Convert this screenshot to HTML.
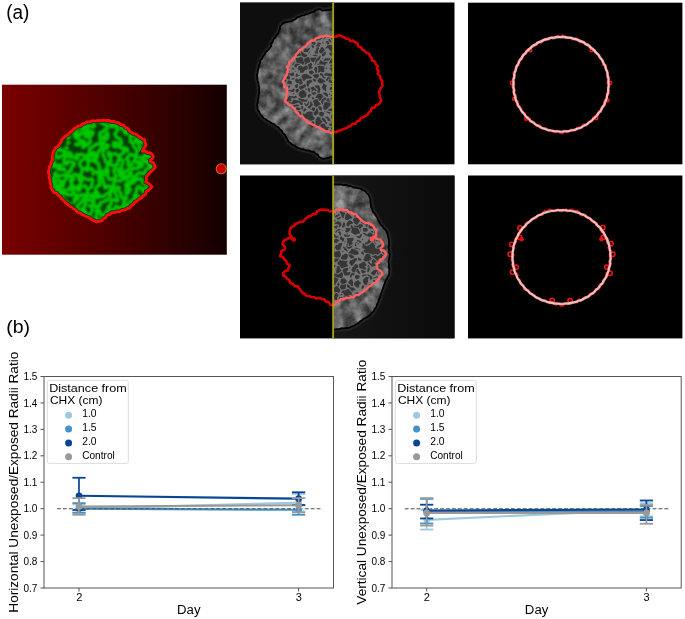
<!DOCTYPE html>
<html><head><meta charset="utf-8"><style>
html,body{margin:0;padding:0;background:#fff;width:685px;height:619px;overflow:hidden;}
svg{display:block;will-change:transform;}
text{font-family:"Liberation Sans",sans-serif;}
</style></head><body>
<svg width="685" height="619" viewBox="0 0 685 619">
<defs>
<linearGradient id="redg" x1="0" x2="1" y1="0" y2="0"><stop offset="0" stop-color="#7a0000"/><stop offset="0.5" stop-color="#4a0000"/><stop offset="1" stop-color="#140000"/></linearGradient>
<filter id="mottle" filterUnits="userSpaceOnUse" x="240" y="0" width="215" height="340" color-interpolation-filters="sRGB"><feTurbulence type="fractalNoise" baseFrequency="0.11" numOctaves="3" seed="4"/><feColorMatrix type="matrix" values="0.6 0 0 0 0.085  0.6 0 0 0 0.085  0.6 0 0 0 0.085  0 0 0 0 1"/><feGaussianBlur stdDeviation="0.6"/></filter>
<linearGradient id="bmg" gradientUnits="userSpaceOnUse" x1="333" x2="455" y1="0" y2="0"><stop offset="0" stop-color="#161616"/><stop offset="1" stop-color="#0a0a0a"/></linearGradient>
<filter id="soft" x="-20%" y="-20%" width="140%" height="140%"><feGaussianBlur stdDeviation="0.5"/></filter>
<filter id="soft7" x="-20%" y="-20%" width="140%" height="140%"><feGaussianBlur stdDeviation="0.75"/></filter>
<filter id="soft9" x="-20%" y="-20%" width="140%" height="140%"><feGaussianBlur stdDeviation="0.95"/></filter>
<filter id="soft1" x="-20%" y="-20%" width="140%" height="140%"><feGaussianBlur stdDeviation="1"/></filter>
<filter id="halo" x="-20%" y="-20%" width="140%" height="140%"><feGaussianBlur stdDeviation="1.6"/></filter>
<clipPath id="cgreen"><path d="M105.8,120.5 108.5,120.3 110.9,121.6 113.6,121.4 116.1,122.3 118.7,122.9 120.8,124.6 123.4,125.2 125.1,127.4 127.8,128.3 129.2,130.7 131.2,132.1 133.3,133.6 136.0,134.0 137.9,135.8 139.9,137.3 142.1,138.7 144.6,139.6 144.9,142.2 145.9,144.8 144.8,147.2 143.2,149.2 142.4,151.3 145.2,150.9 147.4,152.8 150.1,152.9 152.2,154.4 153.4,156.6 152.3,158.9 150.2,160.3 150.5,161.8 153.2,162.5 154.3,165.0 155.2,167.3 153.8,169.2 151.8,170.9 149.8,172.6 148.3,174.7 146.3,176.6 146.4,179.3 145.8,182.0 148.3,183.3 150.3,185.0 152.1,186.7 150.3,188.5 148.4,190.2 146.1,191.6 145.7,194.6 143.0,195.6 141.6,197.9 139.1,199.0 137.4,201.1 134.8,202.0 133.5,204.5 131.1,205.8 129.6,208.1 126.9,208.6 124.7,210.2 122.0,210.2 119.6,211.6 117.0,211.7 114.5,212.6 111.8,212.6 109.6,214.3 107.0,215.1 105.7,217.7 103.2,218.7 101.7,221.1 98.9,221.0 96.4,222.0 94.1,220.6 91.7,219.6 89.7,217.8 87.2,217.0 84.9,215.7 82.4,214.8 80.3,213.1 77.8,212.2 76.0,210.2 73.8,208.9 71.8,207.2 69.4,206.0 67.6,203.9 65.2,202.8 63.8,200.6 61.7,198.9 60.3,196.7 58.1,195.3 56.4,193.2 53.6,192.5 52.6,190.0 50.9,187.9 51.1,185.2 50.0,182.7 50.1,180.0 49.0,177.6 49.3,174.9 48.2,172.3 49.1,169.8 49.1,167.1 50.7,164.9 51.2,162.3 52.6,160.0 52.2,157.2 52.9,154.7 53.2,152.1 54.5,149.8 55.8,147.5 58.1,146.2 59.5,144.0 61.3,142.0 61.8,139.3 64.0,137.7 65.8,135.7 68.3,134.7 69.7,132.4 72.1,131.1 73.7,129.0 76.0,127.7 78.1,126.1 80.8,125.7 82.7,123.8 85.3,123.2 87.6,121.8 90.2,121.9 92.7,120.6 95.4,121.2 98.0,120.3 100.6,120.7 103.2,120.2Z"/></clipPath>
<clipPath id="ctmL"><rect x="240" y="2.5" width="93" height="162"/></clipPath>
<clipPath id="ctmR"><rect x="333" y="2.5" width="122" height="162"/></clipPath>
<clipPath id="cbmL"><rect x="240" y="175.5" width="93" height="163"/></clipPath>
<clipPath id="cbmR"><rect x="333" y="175.5" width="122" height="163"/></clipPath>
<clipPath id="ctmred"><path d="M331.4,36.7 328.9,36.4 326.4,35.4 323.9,36.5 321.2,36.4 319.0,37.7 316.3,38.1 314.3,40.1 311.6,40.4 309.6,42.0 307.4,43.5 306.2,46.1 303.6,47.1 301.9,49.1 299.4,50.3 298.1,52.7 296.1,54.4 295.4,57.1 293.1,58.5 291.9,61.0 289.3,62.2 288.9,64.9 286.9,67.1 288.4,69.7 287.2,72.2 286.8,74.7 285.3,76.9 284.2,79.2 282.7,81.6 284.3,84.1 284.2,86.9 287.2,88.0 286.8,90.8 287.5,93.5 286.2,95.9 286.3,98.5 284.8,101.1 287.1,102.9 288.8,104.8 291.2,105.8 293.2,107.5 295.1,109.2 295.8,111.7 298.0,113.3 299.3,115.8 302.1,116.3 303.7,118.5 305.9,119.9 307.2,122.1 309.6,123.1 312.0,124.3 314.4,125.3 316.6,126.7 319.2,127.4 321.3,128.8 323.7,129.9 325.9,131.5 328.7,131.4 331.1,133.0 333.6,131.9 336.4,132.3 338.6,130.6 341.3,130.2 343.5,128.9 346.1,128.3 348.2,126.8 350.8,125.9 352.6,123.8 355.4,123.7 357.1,121.3 359.7,120.5 360.7,118.0 363.2,117.2 365.4,116.0 367.6,114.7 368.8,112.3 371.1,110.8 371.6,107.9 374.4,107.6 375.9,105.1 378.5,104.4 380.2,102.6 381.2,100.2 380.1,97.7 379.7,95.2 379.0,92.7 379.7,90.2 380.7,87.9 382.5,86.1 382.1,83.6 382.3,80.9 380.5,78.8 380.2,76.1 378.0,74.1 378.6,71.3 377.0,68.9 377.8,66.1 375.7,64.1 374.9,61.5 372.1,60.8 371.5,58.0 370.0,56.0 369.0,53.6 366.5,52.9 364.6,50.9 362.3,49.6 361.1,47.1 358.2,46.4 357.6,43.4 355.1,42.3 353.2,40.6 350.2,41.0 348.6,38.7 346.0,38.6 343.7,37.2 341.4,36.2 338.9,35.1 336.4,36.6 333.8,36.7Z"/></clipPath>
<clipPath id="cbmred"><path d="M334.7,212.3 336.4,209.8 339.2,210.0 341.8,209.2 344.3,210.4 347.1,209.9 348.6,212.1 351.3,212.5 353.4,214.1 356.4,214.2 357.7,216.7 359.7,218.4 361.5,220.3 363.5,221.8 365.8,223.1 368.6,223.1 370.7,224.6 373.2,225.7 374.3,228.2 376.5,229.9 376.0,232.6 376.3,235.4 373.8,237.0 375.5,237.8 377.7,239.4 380.4,239.6 382.0,241.8 383.1,244.1 382.5,246.5 380.8,248.1 380.9,250.1 383.8,250.5 385.4,252.6 386.0,254.9 384.3,256.8 382.7,258.8 379.9,259.6 379.2,262.5 376.7,264.1 377.1,266.8 377.7,269.2 380.1,270.5 381.9,272.3 382.2,274.7 380.1,276.4 379.0,278.8 377.0,280.6 375.6,282.9 372.8,283.5 371.0,285.5 368.6,286.5 367.1,288.7 364.7,289.9 363.0,292.0 360.7,293.2 358.6,295.0 355.7,294.9 353.8,297.1 351.0,297.0 348.6,298.2 345.9,297.9 343.5,299.1 340.6,299.0 338.9,301.2 336.3,302.2 334.9,304.6 332.5,305.5 330.1,304.5 328.6,302.1 325.8,301.6 324.2,299.3 321.5,299.0 319.1,297.7 316.4,298.5 314.0,297.2 311.4,297.0 309.0,296.0 306.3,295.8 304.5,293.7 302.0,292.6 300.8,290.3 299.1,288.4 297.7,286.0 294.6,286.2 292.8,283.9 290.3,283.0 289.5,280.4 287.2,278.9 285.7,276.8 283.2,275.5 283.4,272.9 285.1,271.1 287.8,270.4 288.6,267.8 289.8,265.3 287.1,263.6 286.2,261.1 284.3,259.3 282.9,257.0 280.0,256.0 281.1,253.5 281.5,250.8 284.1,250.0 285.2,248.1 284.5,246.3 282.6,244.4 283.0,242.0 284.5,239.9 287.1,239.2 289.4,237.7 292.4,238.5 291.2,236.2 289.8,234.2 289.5,231.6 290.2,229.1 291.5,226.9 294.1,226.1 295.5,224.0 297.9,223.0 300.2,221.7 303.0,221.7 304.7,219.6 306.4,217.8 308.5,216.4 311.2,215.9 313.1,214.0 316.0,214.1 317.1,211.3 319.4,210.3 321.9,209.5 324.6,209.9 327.2,209.7 329.5,211.3 332.2,211.2Z"/></clipPath>
<clipPath id="ctmout"><path d="M329.9,9.5 327.5,10.2 325.0,10.2 322.5,10.8 320.4,9.2 317.9,9.3 315.6,10.1 313.8,11.8 311.3,12.3 309.0,13.4 306.6,14.0 304.4,15.3 301.8,15.4 299.6,16.6 297.2,17.4 295.5,19.3 293.2,20.1 291.0,21.4 288.5,21.6 286.0,22.2 283.6,22.7 281.9,24.5 280.2,26.2 280.0,28.8 278.9,31.1 278.2,33.5 276.4,35.4 275.2,37.6 273.5,39.4 272.6,41.8 271.2,43.9 271.0,46.5 269.4,48.5 267.9,50.5 265.8,52.0 264.7,54.4 262.9,56.2 262.0,58.6 260.2,60.4 260.0,63.0 258.9,65.3 258.6,67.8 257.8,70.2 257.6,72.7 256.9,75.1 257.2,77.7 257.4,80.2 258.2,82.5 258.6,85.0 259.3,87.4 259.1,89.9 259.2,92.4 258.6,94.8 258.5,97.3 257.7,99.8 257.8,102.3 256.9,104.7 257.6,107.2 257.6,109.8 259.2,111.8 260.2,114.1 262.0,115.9 263.3,118.1 265.6,119.2 267.5,120.9 269.9,121.8 271.8,123.5 274.2,124.3 275.9,126.3 278.3,127.2 279.8,129.3 281.8,130.8 282.9,133.2 284.8,134.9 286.0,137.1 287.3,139.3 288.3,141.6 290.4,143.1 292.2,144.8 294.6,145.7 296.6,147.3 298.9,148.2 301.2,149.3 303.8,149.2 306.1,150.4 308.6,150.5 311.0,151.5 313.5,152.0 315.5,153.5 317.8,154.7 319.0,156.9 321.1,158.2 323.5,158.9 325.9,158.4 328.4,158.0 330.7,157.0 333.2,156.5 335.5,155.6 337.8,154.7 339.7,153.1 342.3,152.3 342.7,149.9 343.2,147.4 343.0,144.9 343.7,142.4 343.2,139.9 343.9,137.4 343.7,134.9 344.1,132.4 343.9,129.9 344.6,127.4 344.4,124.9 344.7,122.4 344.7,119.9 344.9,117.4 344.9,114.9 345.3,112.4 344.7,109.9 345.2,107.4 344.9,104.9 345.0,102.4 344.9,99.9 345.3,97.4 344.8,94.9 345.3,92.4 344.7,89.9 345.1,87.4 344.7,84.9 345.1,82.4 344.7,79.9 345.4,77.4 344.8,74.9 345.1,72.4 344.7,69.9 345.4,67.3 344.8,64.8 345.4,62.3 344.8,59.8 345.2,57.3 345.0,54.8 345.3,52.3 344.8,49.8 345.1,47.3 344.7,44.8 344.8,42.3 344.4,39.8 344.3,37.3 343.9,34.8 344.2,32.3 343.8,29.8 343.7,27.3 343.4,24.8 343.6,22.3 343.0,19.8 343.2,17.3 342.8,14.8 341.7,12.9 339.4,11.9 337.3,10.4 334.9,10.0 332.5,9.5Z"/></clipPath>
<clipPath id="cbmout"><path d="M333.6,184.5 336.0,184.4 338.5,184.5 341.1,184.4 343.5,185.1 346.1,184.8 348.4,185.8 351.0,186.1 353.2,187.3 355.7,187.7 358.1,188.3 360.6,188.6 362.8,189.9 365.1,191.0 366.5,193.2 368.6,194.8 369.5,197.1 370.4,199.4 370.4,202.0 371.1,204.4 371.0,207.0 372.3,209.2 372.9,211.7 374.7,213.5 375.9,215.7 377.4,217.8 378.1,220.2 379.6,222.3 380.5,224.6 382.5,226.2 383.9,228.4 385.9,230.0 386.8,232.4 387.8,234.7 388.2,237.2 389.0,239.6 389.0,242.1 389.3,244.6 388.5,247.1 389.0,249.6 388.6,252.1 389.8,254.4 389.3,256.8 389.1,259.3 388.4,261.7 389.0,264.2 388.7,266.8 389.5,269.2 389.1,271.7 389.4,274.3 388.1,276.5 387.0,278.7 385.5,280.8 384.9,283.2 383.8,285.5 383.2,287.9 382.2,290.3 381.6,292.7 380.5,295.0 380.1,297.5 378.8,299.7 378.4,302.2 377.0,304.4 376.4,306.9 374.8,308.8 373.8,311.2 371.8,312.8 370.5,315.0 368.4,316.4 366.2,317.6 363.9,318.6 362.0,320.3 359.9,321.6 358.1,323.4 355.8,324.5 353.7,326.0 351.3,326.7 349.1,327.9 346.5,328.0 344.0,328.4 341.5,328.3 339.1,329.2 336.6,329.2 334.1,329.6 332.2,328.0 329.8,326.9 328.1,325.1 325.9,323.7 324.8,321.6 324.3,319.2 324.7,316.6 323.8,314.2 324.1,311.6 323.6,309.2 323.9,306.6 323.2,304.2 323.3,301.6 322.8,299.2 322.8,296.6 322.2,294.2 322.7,291.6 321.9,289.2 322.4,286.6 321.7,284.1 322.0,281.6 321.8,279.1 322.3,276.6 322.0,274.1 322.3,271.6 321.6,269.1 322.2,266.6 321.8,264.1 322.1,261.6 321.9,259.0 322.3,256.5 321.9,254.0 322.2,251.5 321.9,249.0 322.3,246.5 321.7,244.0 322.2,241.5 321.9,239.0 322.1,236.5 321.7,234.0 322.0,231.4 321.6,228.9 322.2,226.4 321.6,223.9 322.4,221.4 322.2,218.9 322.9,216.4 322.6,213.9 323.1,211.4 323.0,208.9 323.6,206.4 323.1,203.9 323.7,201.4 323.6,198.9 324.5,196.4 324.1,193.9 324.8,191.4 324.5,188.8 326.8,187.8 328.8,186.2 331.4,185.7Z"/></clipPath>
</defs>
<rect width="685" height="619" fill="#fff"/>
<rect x="2" y="84.7" width="224.8" height="170" fill="url(#redg)"/>
<g clip-path="url(#cgreen)"><rect x="40" y="110" width="130" height="120" fill="#063c06"/>
<path d="M56.4,110.0 55.1,112.0 56.3,115.0 56.0,115.9 52.6,115.0 52.4,112.5 51.6,111.5 50.0,111.4 48.4,112.0 51.6,116.0 50.6,118.0 47.5,119.8 45.4,115.0 46.0,113.5 47.9,112.0 47.5,110.0M82.7,110.0 84.0,111.0 84.8,113.5 86.8,116.0 86.4,119.5 85.4,120.5 82.8,121.5 81.8,123.0 82.1,124.0 84.8,126.5 85.0,127.5 83.5,128.2 81.5,128.0 80.9,124.5 80.0,123.7 76.5,123.9 73.5,122.0 70.5,123.5 72.0,124.5 75.8,125.5 77.1,129.5 76.9,133.5 78.5,135.7 79.5,136.0 80.1,135.5 81.5,131.4 83.0,132.2 85.5,136.6 86.5,137.0 89.0,136.4 89.5,136.8 90.4,142.5 83.0,147.6 81.8,143.0 83.0,143.0 85.0,143.9 85.7,143.5 85.5,142.4 82.5,140.4 80.0,140.4 75.5,137.6 74.8,136.5 74.2,133.5 71.0,129.5 69.5,129.0 68.5,130.0 68.0,132.5 69.1,137.5 68.0,137.8 66.5,137.0 65.1,134.0 65.0,132.0 64.3,130.5 65.8,127.5 64.5,126.1 61.0,126.1 59.5,128.0 57.4,129.5 58.0,130.3 62.0,130.5 62.8,131.5 61.9,133.0 58.5,134.7 56.5,134.4 55.5,133.5 55.1,132.5 55.5,129.5 54.7,128.5 52.6,127.5 52.5,127.0 54.5,121.8 56.0,121.9 59.5,124.1 60.5,121.3 62.3,119.5 62.0,117.7 58.5,113.0 59.0,111.7 61.3,111.0 62.1,110.0M65.5,110.0 62.6,113.0 67.0,118.0 67.5,118.1 68.7,116.5 69.0,112.5 71.0,111.2 73.8,113.0 74.4,116.0 75.5,117.3 77.5,118.1 79.0,117.8 81.0,118.2 83.1,117.5 83.3,114.5 81.0,113.5 78.5,114.2 76.3,113.0 76.3,112.5 81.5,110.0M97.1,110.0 95.5,112.4 92.0,114.0 91.0,115.0 94.6,125.5 93.5,127.1 91.0,126.3 88.0,126.5 87.0,125.5 87.3,124.0 89.5,122.0 90.6,119.5 88.9,116.5 89.5,114.5 89.0,111.5 89.6,110.0M114.1,110.0 114.1,113.5 113.0,114.2 112.1,113.5 112.0,110.0M124.8,110.0 124.7,112.0 125.5,113.0 127.0,113.7 130.5,113.9 130.9,114.5 128.7,117.5 127.0,118.0 125.5,120.1 124.0,120.8 122.0,120.2 120.7,118.5 121.5,116.8 123.5,116.2 124.0,115.5 123.4,113.0 121.5,112.3 120.5,114.6 119.0,115.0 117.9,114.5 118.4,112.5 120.0,111.4 120.0,110.0M40.0,136.3 41.0,138.5 40.3,142.0 41.0,142.7 43.0,142.3 44.0,141.3 44.8,138.5 44.2,136.0 42.1,134.5 41.8,133.0 42.8,132.5 45.0,132.9 46.0,132.5 46.6,126.5 47.0,126.0 48.0,126.2 50.4,128.0 50.1,131.5 50.8,134.0 50.2,137.0 51.6,139.5 49.5,140.6 49.4,142.0 50.5,142.6 53.0,141.2 59.2,143.0 58.1,149.5 60.0,150.3 63.0,150.1 65.5,153.4 68.0,152.4 70.5,153.0 71.2,154.5 69.3,156.5 70.0,157.5 72.5,156.4 75.5,158.6 77.1,159.0 77.9,158.5 78.1,157.5 76.5,155.5 76.6,154.5 79.5,154.9 81.5,153.9 85.5,156.3 89.1,153.5 89.5,152.0 89.5,148.5 90.0,147.8 93.5,146.6 95.5,144.5 100.3,143.5 99.8,133.5 100.5,132.5 103.5,131.2 104.5,129.9 107.3,128.5 107.3,127.0 106.3,125.0 103.5,124.2 101.0,122.2 98.0,121.0 96.5,117.5 96.3,116.0 97.0,113.8 100.0,114.3 101.5,112.0 103.0,112.0 103.7,113.0 104.0,116.0 105.5,117.5 106.8,120.0 110.8,121.5 111.1,122.5 110.5,125.0 111.0,126.6 112.5,126.9 113.5,125.9 113.6,121.0 114.5,118.3 115.0,118.3 118.5,121.5 118.5,122.5 116.4,125.0 116.0,126.5 118.0,130.4 115.2,133.0 115.0,134.5 116.4,137.5 119.5,138.3 120.5,139.3 121.2,141.0 121.5,144.0 120.0,144.7 117.5,143.0 113.5,142.3 113.5,143.1 114.5,143.5 113.2,145.5 113.5,146.5 115.0,147.0 119.0,146.3 121.5,148.5 125.0,147.7 126.7,148.5 127.8,150.0 127.5,151.2 125.5,150.4 124.5,150.6 123.6,151.5 123.0,153.5 119.0,155.7 117.5,155.4 115.0,153.5 111.2,155.0 109.5,152.3 108.5,152.4 108.0,153.5 108.2,155.0 110.1,156.5 111.0,161.0 108.5,163.5 108.5,164.0 112.5,165.4 116.5,164.8 117.7,164.0 118.2,160.0 119.0,158.6 120.5,158.8 122.5,160.5 123.0,162.5 121.3,166.5 122.1,170.0 121.0,172.5 121.5,173.6 123.0,174.1 124.5,172.0 126.7,171.0 128.0,169.2 131.5,170.1 133.5,168.2 138.0,168.2 140.2,166.0 139.4,164.5 137.1,163.5 137.1,162.0 138.0,161.7 142.0,162.7 143.0,162.3 143.9,161.0 143.7,160.0 142.5,158.7 136.5,156.2 135.7,157.0 135.0,159.7 131.1,165.5 129.5,165.9 128.4,165.5 127.8,164.0 128.9,160.5 126.1,159.0 130.0,154.3 131.0,154.1 133.0,155.5 134.0,155.5 136.0,154.2 137.1,152.0 136.7,150.0 133.3,146.0 133.0,143.0 130.1,141.5 130.6,140.0 130.1,135.5 130.5,135.2 133.5,135.7 134.0,133.0 134.8,132.0 137.0,130.8 139.5,130.6 141.0,131.2 143.8,134.0 145.0,138.3 147.0,138.3 149.3,136.5 148.5,134.9 144.4,133.5 145.8,124.5 144.0,122.2 142.5,122.2 140.8,125.0 140.0,125.4 137.0,123.5 134.1,124.0 133.5,125.0 134.7,127.5 132.5,128.7 131.5,128.4 128.0,124.0 128.4,120.5 129.5,118.4 131.5,118.6 133.5,118.0 137.0,118.8 139.0,120.0 142.5,119.2 143.9,118.0 144.1,116.5 143.0,115.7 142.0,116.0 140.5,117.8 137.5,117.9 137.0,110.0M153.1,110.0 153.5,112.0 155.5,112.9 157.0,113.1 159.5,112.2 160.5,112.4 164.4,116.5 165.0,118.2 164.5,118.7 162.0,117.6 159.5,117.8 158.7,119.0 159.0,121.5 158.0,122.5 157.0,122.6 155.4,121.5 156.9,118.5 156.0,116.8 153.5,115.6 150.4,116.5 149.6,117.5 149.7,119.0 153.2,122.5 152.7,123.5 150.1,125.0 150.5,129.0 150.0,129.5 148.5,129.3 147.5,129.8 147.4,131.5 149.0,132.4 151.0,130.7 153.5,131.5 156.0,130.9 158.5,131.5 161.0,131.3 162.0,130.6 162.8,129.0 163.0,125.2 165.0,123.8 165.8,125.0 165.7,132.0 167.5,134.5 169.5,135.7M169.5,115.0 168.5,114.3 165.5,114.0 164.5,113.1 164.5,111.5 166.3,110.0M169.5,110.1 169.1,111.0 169.5,111.7M40.0,112.3 41.0,113.5 40.0,115.1M108.5,115.6 107.1,115.5 107.5,114.5 109.3,114.5 108.5,115.6M169.5,126.9 168.1,126.0 167.6,122.5 166.4,120.0 167.1,119.0 169.5,118.8M40.0,119.2 40.8,120.5 41.1,123.0 43.2,125.5 42.5,126.2 40.0,126.8M69.0,124.5 70.5,123.5 68.0,122.0 67.0,119.9 65.6,122.5 65.7,124.0 69.0,124.5M126.5,133.6 125.3,133.5 124.5,131.5 120.7,127.0 120.4,126.0 121.0,124.9 122.8,125.0 124.8,127.5 127.8,129.0 127.2,133.0 126.5,133.6M155.5,128.7 154.5,128.4 154.4,127.0 155.0,125.9 156.5,125.7 157.1,127.0 155.5,128.7M91.5,135.5 89.5,133.5 87.0,133.2 86.0,132.6 85.6,131.5 86.2,130.0 87.5,129.7 90.0,131.2 92.5,131.5 92.9,132.5 92.5,134.7 91.5,135.5M162.3,137.5 165.1,134.5 165.0,132.5 163.0,132.6 161.0,134.5 158.5,135.3 157.4,136.5 158.5,137.2 162.3,137.5M104.5,139.5 107.0,138.8 107.7,138.0 108.1,134.5 107.5,132.8 107.0,132.8 106.1,134.5 103.3,137.0 103.3,138.5 104.5,139.5M142.6,150.0 144.1,147.0 147.1,144.0 147.5,142.5 145.5,141.7 142.0,142.5 139.5,141.6 139.5,138.5 140.5,135.5 140.0,134.6 139.0,134.5 137.2,138.0 135.5,139.3 135.2,140.5 135.7,141.5 138.1,142.5 140.4,149.5 141.5,150.3 142.6,150.0M48.0,139.5 49.2,137.5 48.0,137.0 47.0,137.4 46.4,138.5 47.0,139.4 48.0,139.5M169.5,147.0 165.6,147.0 165.9,150.5 165.0,151.3 164.0,151.3 163.6,149.5 165.5,147.0 164.1,145.0 163.8,142.0 162.0,141.1 160.0,143.0 161.2,145.5 161.0,146.5 159.9,148.5 158.5,149.0 157.9,148.5 154.8,139.0 155.6,137.0 150.5,137.0 150.0,138.0 150.2,141.5 155.1,149.0 155.2,150.0 152.5,151.4 149.5,151.5 146.5,154.5 144.2,155.0 143.6,156.0 144.5,157.0 146.5,155.7 148.0,155.6 150.1,158.0 150.0,159.6 146.1,161.0 146.6,162.5 149.1,165.0 149.0,168.0 145.5,170.1 144.5,174.2 140.5,172.8 138.5,173.1 134.8,176.5 130.5,181.9 128.5,182.0 125.9,184.0 125.4,185.0 126.0,186.6 127.5,186.9 130.5,183.0 134.0,182.8 135.1,180.5 138.5,178.5 142.0,179.4 142.5,182.5 143.3,183.5 147.0,183.1 147.9,182.0 147.3,179.5 147.9,178.5 150.5,177.3 153.2,177.0 154.0,173.7 157.0,173.0 157.7,170.5 158.5,169.8 160.2,171.0 161.0,173.0 158.0,173.4 157.5,174.0 157.6,181.0 160.2,183.0 160.5,186.5 164.0,189.1 166.5,190.1 168.4,188.5 169.5,185.5M167.7,140.5 167.7,139.5 166.6,139.5 166.5,140.6 167.7,140.5M68.0,143.1 67.8,142.5 68.5,142.3 68.5,143.0 68.0,143.1M108.2,172.5 108.3,170.5 106.7,167.5 107.9,164.0 105.3,161.5 105.0,158.5 102.6,154.5 103.9,148.5 107.0,148.0 108.6,145.5 105.5,144.8 104.0,142.5 101.3,144.0 102.2,147.5 99.0,150.5 97.5,154.5 97.3,158.0 94.6,161.5 95.7,162.5 98.8,163.5 98.6,165.5 99.8,168.0 99.2,171.0 99.8,172.0 101.5,172.5 103.5,170.6 104.5,170.4 107.5,172.8 108.2,172.5M77.5,145.1 75.6,144.5 76.0,144.0 79.0,143.6 78.7,144.5 77.5,145.1M91.1,229.5 93.5,225.7 97.0,225.2 98.4,223.0 95.5,220.0 92.5,223.0 90.0,227.6 88.5,227.8 87.0,226.0 86.9,221.0 87.5,220.1 90.0,219.5 90.9,218.5 90.1,214.5 92.5,210.0 91.5,207.2 89.4,205.5 91.0,206.0 93.5,205.6 95.5,206.3 100.0,206.0 99.8,204.0 100.5,202.7 102.0,201.9 104.5,201.7 109.5,198.0 110.7,195.5 110.0,192.3 106.0,194.3 103.5,196.3 100.0,196.5 98.0,197.8 96.8,197.0 98.8,194.5 98.4,193.5 95.6,191.5 95.9,188.0 97.0,186.1 99.3,185.5 100.3,184.5 99.0,181.0 98.7,175.0 97.5,172.6 96.5,171.9 94.0,171.8 91.0,168.2 87.5,170.4 86.5,170.3 85.5,169.5 85.4,168.0 87.9,166.0 88.3,165.0 87.8,161.0 85.5,158.3 83.5,158.9 79.9,162.5 79.8,165.0 82.5,169.0 80.6,175.0 80.8,176.0 83.5,177.8 88.0,179.8 90.0,179.8 92.0,178.7 92.7,179.5 92.7,182.5 91.8,184.0 91.9,187.0 88.0,188.9 87.3,190.0 87.8,194.0 91.0,196.3 92.0,195.8 94.0,192.9 94.5,193.0 95.5,196.0 93.6,198.5 94.0,203.1 93.0,202.8 91.5,200.0 87.5,199.7 85.7,202.0 85.7,204.5 85.2,205.5 83.5,208.0 81.3,209.0 81.2,209.5 82.0,210.0 83.5,209.1 84.5,209.8 87.0,214.5 86.5,215.8 84.5,217.1 83.6,221.5 82.0,222.4 79.1,219.0 78.6,216.0 76.6,215.0 78.2,211.5 77.1,206.5 78.1,205.0 82.3,202.0 83.0,198.9 86.9,197.5 86.6,195.5 85.5,195.0 81.0,194.7 78.0,196.0 74.5,193.6 72.0,195.0 70.0,194.6 68.0,195.0 66.0,193.8 61.5,193.8 60.1,192.5 59.8,191.0 61.0,189.9 66.5,190.1 70.0,188.3 72.0,190.7 73.0,190.8 75.0,187.6 78.5,186.0 78.7,187.5 77.5,190.0 78.0,190.6 79.0,190.6 80.0,189.4 81.0,186.5 80.3,183.5 82.4,180.0 80.0,180.4 79.2,180.0 78.6,179.0 78.3,176.0 76.5,174.5 75.0,174.3 72.8,175.5 72.5,176.5 73.6,179.5 71.0,182.2 70.4,181.5 71.3,177.0 70.0,175.7 68.5,175.5 67.2,176.5 66.3,179.0 64.2,180.5 63.5,185.5 59.0,187.8 56.0,191.4 54.5,192.1 53.0,191.7 52.5,190.5 54.0,185.3 57.0,186.8 58.2,185.0 60.8,184.0 60.8,181.5 59.5,180.1 58.0,179.8 54.0,183.6 51.6,182.5 50.7,181.5 54.8,177.0 55.0,175.5 54.4,174.0 55.2,173.0 55.9,173.0 56.4,175.5 58.0,176.3 61.0,175.4 65.0,175.4 69.0,171.6 71.0,171.0 70.9,168.0 74.0,165.4 74.5,163.5 73.0,162.5 68.5,161.4 67.1,162.0 67.0,164.3 64.0,163.9 64.0,159.0 66.3,156.5 66.0,155.3 65.0,153.9 61.0,156.0 59.0,157.8 58.0,157.9 57.0,157.1 54.5,153.0 52.2,151.5 52.1,151.0 54.0,150.2 56.5,150.7 57.5,150.0 56.6,148.5 56.3,145.5 55.0,144.9 53.5,145.6 51.2,148.0 50.7,149.5 51.9,151.5 49.0,153.2 47.9,155.5 48.5,156.8 52.5,158.0 54.0,160.6 52.5,160.9 50.5,162.7 46.0,163.5 43.0,168.2 41.0,168.2 40.0,167.3M40.0,157.2 42.5,157.1 45.7,152.5 45.0,151.8 41.8,151.5 41.4,150.5 42.1,148.0 40.0,147.1M67.0,148.6 66.0,148.1 66.5,147.3 67.0,148.6M92.7,160.5 95.2,155.0 94.6,153.0 93.5,152.2 92.5,152.5 92.0,154.6 90.2,156.0 88.2,159.5 88.5,160.2 92.7,160.5M169.5,166.4 168.0,165.7 165.5,166.2 163.0,165.7 160.5,164.5 158.0,162.1 155.0,164.9 152.0,165.5 150.4,164.0 151.2,161.0 153.0,159.0 152.9,156.5 154.5,155.2 156.5,155.2 159.0,153.7 162.5,154.0 166.0,157.5 169.5,157.0M162.7,160.5 163.6,158.0 162.5,155.5 161.5,155.4 157.3,157.0 157.1,159.0 158.0,160.6 162.7,160.5M44.3,163.0 45.3,162.0 45.3,160.5 44.0,159.6 43.0,159.6 41.2,162.5 42.5,163.4 44.3,163.0M64.5,170.3 61.0,169.4 58.5,169.5 57.8,169.0 57.0,166.6 52.8,166.0 52.1,165.0 54.5,163.1 57.0,165.8 60.0,165.0 60.6,165.5 61.5,168.0 64.7,169.0 64.9,170.0 64.5,170.3M142.2,166.5 142.5,165.8 141.7,166.0 142.2,166.5M47.0,175.9 45.1,174.5 44.7,171.5 45.5,170.6 47.5,169.9 48.3,168.0 49.0,167.8 49.7,168.5 47.0,175.9M152.0,169.2 151.5,169.3 151.0,168.5 152.0,168.4 152.0,169.2M110.9,191.5 112.9,189.0 112.1,187.5 113.5,184.6 114.3,181.0 115.5,180.6 120.0,181.0 121.8,180.0 123.0,178.6 127.0,179.0 128.6,177.0 131.2,175.5 131.5,173.5 129.0,173.7 127.8,176.0 126.5,176.8 125.5,176.7 123.0,175.0 122.0,176.9 121.5,176.9 119.5,175.4 118.4,169.5 116.5,168.6 114.2,169.0 113.5,170.0 116.0,177.0 115.1,178.0 112.5,179.1 109.0,179.4 107.8,175.5 107.0,174.6 101.5,174.4 100.8,175.5 100.8,176.5 103.3,179.0 102.9,181.5 104.6,184.5 104.6,187.5 105.5,188.2 108.0,185.8 109.5,186.1 111.2,187.5 110.0,190.5 110.0,191.5 110.5,191.9 110.9,191.5M93.0,174.0 93.5,172.8 93.5,173.9 93.0,174.0M163.0,175.4 162.2,174.0 163.4,174.5 163.0,175.4M42.0,178.1 42.0,177.4 42.0,178.1M169.5,180.4 168.1,182.0 167.5,184.2 165.5,184.1 163.9,183.0 164.0,182.0 166.5,178.3 168.0,177.8 169.5,178.3M40.0,178.7 40.0,179.7M40.0,185.0 42.0,181.0 43.5,181.2 44.0,182.5 43.9,184.5 42.4,188.0 42.4,189.5 43.0,190.8 46.6,191.5 46.8,192.5 45.9,195.0 49.5,194.8 51.5,198.0 53.0,198.7 56.0,197.8 59.5,199.4 62.0,198.3 63.4,198.5 65.3,201.0 69.9,204.5 69.5,206.2 68.5,206.7 66.9,204.0 63.5,202.4 61.0,202.2 55.0,206.1 54.0,205.6 53.6,204.5 54.4,201.5 53.0,201.0 50.9,202.0 48.0,206.5 52.0,208.2 55.5,207.9 57.6,209.0 58.2,211.0 55.7,213.5 58.0,216.0 58.0,216.7 57.0,217.2 54.0,217.7 52.0,216.3 50.0,209.9 46.0,209.5 45.4,210.0 46.5,214.0 46.0,217.0 48.0,220.5 47.5,223.0 51.0,223.5 53.5,225.2 56.0,226.1 56.5,227.0 56.5,229.5M71.5,187.5 70.9,187.5 70.5,186.5 71.0,185.2 72.0,184.6 73.0,185.5 73.1,186.5 71.5,187.5M85.7,187.0 85.5,185.8 84.5,185.8 84.9,187.0 85.7,187.0M169.5,194.1 167.0,194.2 165.2,195.0 164.7,198.0 164.0,199.0 161.0,200.6 157.5,201.1 160.6,196.5 163.7,194.5 163.6,192.5 163.0,191.5 160.5,190.6 158.5,190.7 157.9,192.0 157.9,194.5 157.0,194.9 154.0,192.8 150.9,187.0 148.5,186.1 145.7,187.5 144.6,189.0 144.8,192.0 147.0,194.0 146.7,195.0 146.0,195.2 143.6,192.5 141.0,187.5 139.5,186.7 138.0,186.6 136.5,189.0 136.4,192.5 134.4,195.0 134.5,196.5 139.0,196.5 142.5,199.1 146.5,198.2 147.8,200.0 148.1,206.5 150.5,207.6 151.5,204.7 155.5,204.6 156.5,205.7 156.3,207.5 153.5,209.9 151.0,208.7 148.2,211.5 147.9,214.0 147.0,214.0 145.0,212.7 144.3,211.5 144.5,210.3 146.2,208.0 146.2,207.0 143.0,207.3 139.5,206.4 137.5,207.1 136.6,204.5 139.0,203.1 139.0,202.0 133.5,199.3 132.5,199.7 131.5,201.8 127.4,204.0 127.4,207.5 125.8,209.0 126.5,210.2 128.5,210.2 130.5,211.2 132.0,209.8 133.0,209.6 136.5,212.0 140.7,213.5 141.1,214.5 140.5,215.3 136.5,215.4 134.5,213.7 133.5,213.8 133.1,214.5 136.1,217.0 136.2,218.5 135.1,222.0 136.0,222.7 138.0,222.6 138.8,223.5 138.7,224.5 136.9,226.0 137.3,227.0 138.5,227.7 141.0,227.6 145.5,224.2 149.5,224.7 152.5,226.2 154.0,223.7 157.0,224.2 158.7,221.5 160.0,220.7 162.0,220.6 164.5,222.0 167.5,218.7 168.5,218.6 169.5,219.4M158.0,189.0 158.7,188.0 158.6,187.0 157.0,186.5 156.1,187.0 156.5,188.5 158.0,189.0M111.8,229.5 111.1,227.5 112.5,224.5 119.1,220.5 118.8,219.5 116.8,218.5 117.0,217.6 119.0,218.1 121.5,217.4 121.9,220.5 124.0,221.8 125.0,221.3 126.4,218.5 126.4,217.5 125.5,216.5 122.0,216.8 121.0,212.5 119.2,208.5 119.8,207.5 123.5,206.9 123.9,201.0 126.9,198.5 126.0,197.8 123.0,198.0 122.0,197.5 121.0,195.5 120.5,192.6 118.4,190.5 119.2,187.5 118.5,187.0 115.5,187.4 114.4,189.0 114.6,192.0 116.3,195.0 118.0,200.7 117.0,201.1 113.5,199.7 112.5,200.1 111.0,201.5 110.9,204.5 108.5,206.3 107.9,207.5 108.9,209.0 115.0,210.3 115.9,212.0 115.5,214.9 114.0,215.3 111.5,213.3 110.5,213.5 109.3,217.0 110.5,219.5 110.5,220.8 109.5,222.5 107.5,222.7 103.4,219.0 105.4,216.0 105.2,214.5 103.0,215.2 101.5,215.0 100.4,214.0 100.1,211.5 99.2,210.0 98.0,209.4 96.5,209.9 96.2,211.5 97.1,214.0 95.4,217.0 95.5,218.6 101.8,219.5 103.1,223.0 106.4,227.0 105.5,228.1 102.5,226.8 98.5,226.4 97.4,229.5M127.0,194.0 128.7,192.5 130.4,189.5 129.5,188.2 127.5,187.9 126.0,189.5 125.9,193.5 126.5,194.2 127.0,194.0M40.0,200.0 42.8,199.5 43.0,197.0 42.0,195.1 40.0,194.1M75.0,200.7 74.5,200.6 74.3,199.5 74.7,198.0 77.0,197.0 78.0,197.1 78.4,198.0 78.0,199.0 75.0,200.7M169.5,208.4 165.0,207.9 163.6,206.5 165.0,202.4 169.5,200.0M74.0,202.7 74.0,202.3 74.0,202.7M70.5,223.2 69.0,222.8 66.1,217.5 62.2,216.0 62.5,214.0 64.5,212.7 66.5,212.3 67.5,214.4 68.5,214.9 69.6,214.5 70.1,213.5 69.0,212.1 67.0,212.3 66.0,209.0 62.6,207.5 62.1,206.0 62.5,205.2 64.0,205.3 66.5,206.9 72.1,209.0 73.5,212.0 75.4,214.5 75.6,215.0 73.0,216.2 71.9,217.5 71.0,219.5 70.5,223.2M116.5,207.0 115.5,207.3 115.3,206.5 116.6,206.0 117.0,206.5 116.5,207.0M40.0,224.0 41.5,223.5 42.3,222.0 42.0,218.5 40.5,215.5 42.4,213.0 42.8,209.5 42.0,208.6 40.0,208.4M154.5,220.2 154.0,220.3 150.9,217.5 150.2,216.0 150.5,215.1 152.3,213.5 153.0,211.0 157.0,212.3 159.0,210.8 160.0,210.7 164.7,214.0 164.5,215.5 161.5,216.8 160.5,216.8 158.5,215.7 157.0,216.0 155.3,218.0 154.5,220.2M106.7,213.0 107.1,212.0 106.5,211.1 105.7,212.5 106.0,213.3 106.7,213.0M81.9,215.5 82.9,214.0 82.8,213.0 82.0,212.4 80.2,215.0 80.6,215.5 81.9,215.5M62.3,229.5 62.2,228.5 61.0,226.5 58.3,224.0 58.4,221.5 59.5,220.4 61.0,220.7 61.8,221.5 63.5,225.0 63.8,228.0 65.5,228.9 65.5,229.5M131.0,222.0 131.0,220.3 130.3,221.0 131.0,222.0M148.0,220.6 148.0,220.1 148.0,220.6M169.5,220.5 169.1,222.0 169.5,223.7M54.0,222.2 53.2,222.0 53.5,221.1 54.1,221.5 54.0,222.2M164.3,224.5 164.8,223.5 164.5,222.6 164.0,222.6 163.5,224.0 164.3,224.5M73.0,227.6 70.8,226.5 71.0,223.2 73.5,223.4 74.4,224.0 74.4,226.5 73.0,227.6M67.5,227.7 66.5,228.0 66.1,227.5 67.0,225.9 68.2,226.5 67.5,227.7M169.5,226.3 168.6,226.0 168.3,226.5 169.5,227.1M119.9,229.5 118.7,228.0 115.5,226.5 114.2,227.0 114.1,229.5M137.0,229.5 135.5,228.0 132.5,227.7 129.0,228.4 125.5,226.5 124.6,227.5 124.7,229.5M47.4,229.5 45.5,226.5 42.5,227.9 40.0,227.0M40.0,227.1 40.0,229.4M166.5,229.5 166.1,228.0 165.0,227.8 161.5,228.9 159.5,227.8 156.5,229.2 154.0,229.1 153.4,229.5" fill="none" stroke="#06c806" stroke-width="3.4" stroke-linejoin="round" stroke-linecap="round" filter="url(#soft9)"/>
<path d="M105.8,120.5 108.5,120.3 110.9,121.6 113.6,121.4 116.1,122.3 118.7,122.9 120.8,124.6 123.4,125.2 125.1,127.4 127.8,128.3 129.2,130.7 131.2,132.1 133.3,133.6 136.0,134.0 137.9,135.8 139.9,137.3 142.1,138.7 144.6,139.6 144.9,142.2 145.9,144.8 144.8,147.2 143.2,149.2 142.4,151.3 145.2,150.9 147.4,152.8 150.1,152.9 152.2,154.4 153.4,156.6 152.3,158.9 150.2,160.3 150.5,161.8 153.2,162.5 154.3,165.0 155.2,167.3 153.8,169.2 151.8,170.9 149.8,172.6 148.3,174.7 146.3,176.6 146.4,179.3 145.8,182.0 148.3,183.3 150.3,185.0 152.1,186.7 150.3,188.5 148.4,190.2 146.1,191.6 145.7,194.6 143.0,195.6 141.6,197.9 139.1,199.0 137.4,201.1 134.8,202.0 133.5,204.5 131.1,205.8 129.6,208.1 126.9,208.6 124.7,210.2 122.0,210.2 119.6,211.6 117.0,211.7 114.5,212.6 111.8,212.6 109.6,214.3 107.0,215.1 105.7,217.7 103.2,218.7 101.7,221.1 98.9,221.0 96.4,222.0 94.1,220.6 91.7,219.6 89.7,217.8 87.2,217.0 84.9,215.7 82.4,214.8 80.3,213.1 77.8,212.2 76.0,210.2 73.8,208.9 71.8,207.2 69.4,206.0 67.6,203.9 65.2,202.8 63.8,200.6 61.7,198.9 60.3,196.7 58.1,195.3 56.4,193.2 53.6,192.5 52.6,190.0 50.9,187.9 51.1,185.2 50.0,182.7 50.1,180.0 49.0,177.6 49.3,174.9 48.2,172.3 49.1,169.8 49.1,167.1 50.7,164.9 51.2,162.3 52.6,160.0 52.2,157.2 52.9,154.7 53.2,152.1 54.5,149.8 55.8,147.5 58.1,146.2 59.5,144.0 61.3,142.0 61.8,139.3 64.0,137.7 65.8,135.7 68.3,134.7 69.7,132.4 72.1,131.1 73.7,129.0 76.0,127.7 78.1,126.1 80.8,125.7 82.7,123.8 85.3,123.2 87.6,121.8 90.2,121.9 92.7,120.6 95.4,121.2 98.0,120.3 100.6,120.7 103.2,120.2Z" fill="none" stroke="#063c06" stroke-width="4.5" filter="url(#soft)"/></g>
<path d="M105.8,120.5 108.5,120.3 110.9,121.6 113.6,121.4 116.1,122.3 118.7,122.9 120.8,124.6 123.4,125.2 125.1,127.4 127.8,128.3 129.2,130.7 131.2,132.1 133.3,133.6 136.0,134.0 137.9,135.8 139.9,137.3 142.1,138.7 144.6,139.6 144.9,142.2 145.9,144.8 144.8,147.2 143.2,149.2 142.4,151.3 145.2,150.9 147.4,152.8 150.1,152.9 152.2,154.4 153.4,156.6 152.3,158.9 150.2,160.3 150.5,161.8 153.2,162.5 154.3,165.0 155.2,167.3 153.8,169.2 151.8,170.9 149.8,172.6 148.3,174.7 146.3,176.6 146.4,179.3 145.8,182.0 148.3,183.3 150.3,185.0 152.1,186.7 150.3,188.5 148.4,190.2 146.1,191.6 145.7,194.6 143.0,195.6 141.6,197.9 139.1,199.0 137.4,201.1 134.8,202.0 133.5,204.5 131.1,205.8 129.6,208.1 126.9,208.6 124.7,210.2 122.0,210.2 119.6,211.6 117.0,211.7 114.5,212.6 111.8,212.6 109.6,214.3 107.0,215.1 105.7,217.7 103.2,218.7 101.7,221.1 98.9,221.0 96.4,222.0 94.1,220.6 91.7,219.6 89.7,217.8 87.2,217.0 84.9,215.7 82.4,214.8 80.3,213.1 77.8,212.2 76.0,210.2 73.8,208.9 71.8,207.2 69.4,206.0 67.6,203.9 65.2,202.8 63.8,200.6 61.7,198.9 60.3,196.7 58.1,195.3 56.4,193.2 53.6,192.5 52.6,190.0 50.9,187.9 51.1,185.2 50.0,182.7 50.1,180.0 49.0,177.6 49.3,174.9 48.2,172.3 49.1,169.8 49.1,167.1 50.7,164.9 51.2,162.3 52.6,160.0 52.2,157.2 52.9,154.7 53.2,152.1 54.5,149.8 55.8,147.5 58.1,146.2 59.5,144.0 61.3,142.0 61.8,139.3 64.0,137.7 65.8,135.7 68.3,134.7 69.7,132.4 72.1,131.1 73.7,129.0 76.0,127.7 78.1,126.1 80.8,125.7 82.7,123.8 85.3,123.2 87.6,121.8 90.2,121.9 92.7,120.6 95.4,121.2 98.0,120.3 100.6,120.7 103.2,120.2Z" fill="none" stroke="#ff1010" stroke-width="2.8" stroke-linejoin="round" filter="url(#soft)"/>
<circle cx="221.2" cy="168.8" r="5" fill="#c40000" stroke="#d0641e" stroke-width="1.1"/>
<rect x="240" y="2.5" width="214.5" height="161.8" fill="#000"/>
<g clip-path="url(#ctmL)">
<rect x="240" y="2.5" width="214.5" height="161.8" fill="#0e0e0e"/>
<path d="M329.9,9.5 327.5,10.2 325.0,10.2 322.5,10.8 320.4,9.2 317.9,9.3 315.6,10.1 313.8,11.8 311.3,12.3 309.0,13.4 306.6,14.0 304.4,15.3 301.8,15.4 299.6,16.6 297.2,17.4 295.5,19.3 293.2,20.1 291.0,21.4 288.5,21.6 286.0,22.2 283.6,22.7 281.9,24.5 280.2,26.2 280.0,28.8 278.9,31.1 278.2,33.5 276.4,35.4 275.2,37.6 273.5,39.4 272.6,41.8 271.2,43.9 271.0,46.5 269.4,48.5 267.9,50.5 265.8,52.0 264.7,54.4 262.9,56.2 262.0,58.6 260.2,60.4 260.0,63.0 258.9,65.3 258.6,67.8 257.8,70.2 257.6,72.7 256.9,75.1 257.2,77.7 257.4,80.2 258.2,82.5 258.6,85.0 259.3,87.4 259.1,89.9 259.2,92.4 258.6,94.8 258.5,97.3 257.7,99.8 257.8,102.3 256.9,104.7 257.6,107.2 257.6,109.8 259.2,111.8 260.2,114.1 262.0,115.9 263.3,118.1 265.6,119.2 267.5,120.9 269.9,121.8 271.8,123.5 274.2,124.3 275.9,126.3 278.3,127.2 279.8,129.3 281.8,130.8 282.9,133.2 284.8,134.9 286.0,137.1 287.3,139.3 288.3,141.6 290.4,143.1 292.2,144.8 294.6,145.7 296.6,147.3 298.9,148.2 301.2,149.3 303.8,149.2 306.1,150.4 308.6,150.5 311.0,151.5 313.5,152.0 315.5,153.5 317.8,154.7 319.0,156.9 321.1,158.2 323.5,158.9 325.9,158.4 328.4,158.0 330.7,157.0 333.2,156.5 335.5,155.6 337.8,154.7 339.7,153.1 342.3,152.3 342.7,149.9 343.2,147.4 343.0,144.9 343.7,142.4 343.2,139.9 343.9,137.4 343.7,134.9 344.1,132.4 343.9,129.9 344.6,127.4 344.4,124.9 344.7,122.4 344.7,119.9 344.9,117.4 344.9,114.9 345.3,112.4 344.7,109.9 345.2,107.4 344.9,104.9 345.0,102.4 344.9,99.9 345.3,97.4 344.8,94.9 345.3,92.4 344.7,89.9 345.1,87.4 344.7,84.9 345.1,82.4 344.7,79.9 345.4,77.4 344.8,74.9 345.1,72.4 344.7,69.9 345.4,67.3 344.8,64.8 345.4,62.3 344.8,59.8 345.2,57.3 345.0,54.8 345.3,52.3 344.8,49.8 345.1,47.3 344.7,44.8 344.8,42.3 344.4,39.8 344.3,37.3 343.9,34.8 344.2,32.3 343.8,29.8 343.7,27.3 343.4,24.8 343.6,22.3 343.0,19.8 343.2,17.3 342.8,14.8 341.7,12.9 339.4,11.9 337.3,10.4 334.9,10.0 332.5,9.5Z" fill="none" stroke="#303030" stroke-width="4" filter="url(#soft1)"/>
<g clip-path="url(#ctmout)"><rect x="240" y="2.5" width="214.5" height="161.8" filter="url(#mottle)"/>
<g filter="url(#soft1)"><path d="M333.0,84.0 L428.0,84.0 L427.8,89.7 Z" fill="#fff" fill-opacity="0.07"/><path d="M333.0,84.0 L427.8,89.7 L427.2,96.0 Z" fill="#000" fill-opacity="0.22"/><path d="M333.0,84.0 L427.2,96.0 L426.0,103.4 Z" fill="#fff" fill-opacity="0.05"/><path d="M333.0,84.0 L426.0,103.4 L424.1,110.9 Z" fill="#000" fill-opacity="0.08"/><path d="M333.0,84.0 L424.1,110.9 L420.8,120.4 Z" fill="#000" fill-opacity="0.09"/><path d="M333.0,84.0 L420.8,120.4 L416.8,128.8 Z" fill="#000" fill-opacity="0.21"/><path d="M333.0,84.0 L416.8,128.8 L412.4,136.2 Z" fill="#000" fill-opacity="0.22"/><path d="M333.0,84.0 L412.4,136.2 L407.1,143.5 Z" fill="#000" fill-opacity="0.17"/><path d="M333.0,84.0 L407.1,143.5 L403.9,147.2 Z" fill="#000" fill-opacity="0.16"/><path d="M333.0,84.0 L403.9,147.2 L397.8,153.5 Z" fill="#fff" fill-opacity="0.10"/><path d="M333.0,84.0 L397.8,153.5 L392.6,158.0 Z" fill="#000" fill-opacity="0.18"/><path d="M333.0,84.0 L392.6,158.0 L388.4,161.1 Z" fill="#000" fill-opacity="0.14"/><path d="M333.0,84.0 L388.4,161.1 L381.9,165.5 Z" fill="#000" fill-opacity="0.14"/><path d="M333.0,84.0 L381.9,165.5 L377.0,168.2 Z" fill="#fff" fill-opacity="0.04"/><path d="M333.0,84.0 L377.0,168.2 L368.2,172.3 Z" fill="#000" fill-opacity="0.09"/><path d="M333.0,84.0 L368.2,172.3 L362.6,174.3 Z" fill="#fff" fill-opacity="0.10"/><path d="M333.0,84.0 L362.6,174.3 L353.1,176.8 Z" fill="#fff" fill-opacity="0.10"/><path d="M333.0,84.0 L353.1,176.8 L348.1,177.8 Z" fill="#fff" fill-opacity="0.07"/><path d="M333.0,84.0 L348.1,177.8 L338.7,178.8 Z" fill="#000" fill-opacity="0.13"/><path d="M333.0,84.0 L338.7,178.8 L333.1,179.0 Z" fill="#fff" fill-opacity="0.06"/><path d="M333.0,84.0 L333.1,179.0 L326.3,178.8 Z" fill="#000" fill-opacity="0.15"/><path d="M333.0,84.0 L326.3,178.8 L319.7,178.1 Z" fill="#000" fill-opacity="0.13"/><path d="M333.0,84.0 L319.7,178.1 L314.9,177.3 Z" fill="#000" fill-opacity="0.10"/><path d="M333.0,84.0 L314.9,177.3 L306.3,175.2 Z" fill="#000" fill-opacity="0.08"/><path d="M333.0,84.0 L306.3,175.2 L301.4,173.6 Z" fill="#fff" fill-opacity="0.08"/><path d="M333.0,84.0 L301.4,173.6 L295.8,171.4 Z" fill="#fff" fill-opacity="0.06"/><path d="M333.0,84.0 L295.8,171.4 L286.5,166.9 Z" fill="#000" fill-opacity="0.11"/><path d="M333.0,84.0 L286.5,166.9 L281.6,163.9 Z" fill="#000" fill-opacity="0.20"/><path d="M333.0,84.0 L281.6,163.9 L276.2,160.1 Z" fill="#fff" fill-opacity="0.10"/><path d="M333.0,84.0 L276.2,160.1 L271.4,156.3 Z" fill="#000" fill-opacity="0.09"/><path d="M333.0,84.0 L271.4,156.3 L264.5,149.9 Z" fill="#000" fill-opacity="0.13"/><path d="M333.0,84.0 L264.5,149.9 L258.8,143.4 Z" fill="#fff" fill-opacity="0.07"/><path d="M333.0,84.0 L258.8,143.4 L253.8,136.5 Z" fill="#000" fill-opacity="0.14"/><path d="M333.0,84.0 L253.8,136.5 L248.6,127.6 Z" fill="#fff" fill-opacity="0.08"/><path d="M333.0,84.0 L248.6,127.6 L244.5,118.7 Z" fill="#000" fill-opacity="0.15"/><path d="M333.0,84.0 L244.5,118.7 L241.8,110.6 Z" fill="#000" fill-opacity="0.10"/><path d="M333.0,84.0 L241.8,110.6 L240.5,105.6 Z" fill="#000" fill-opacity="0.19"/><path d="M333.0,84.0 L240.5,105.6 L239.1,98.2 Z" fill="#000" fill-opacity="0.09"/><path d="M333.0,84.0 L239.1,98.2 L238.3,92.0 Z" fill="#000" fill-opacity="0.08"/><path d="M333.0,84.0 L238.3,92.0 L238.0,85.9 Z" fill="#000" fill-opacity="0.09"/><path d="M333.0,84.0 L238.0,85.9 L238.1,79.2 Z" fill="#000" fill-opacity="0.22"/><path d="M333.0,84.0 L238.1,79.2 L239.0,70.3 Z" fill="#000" fill-opacity="0.09"/><path d="M333.0,84.0 L239.0,70.3 L240.0,64.8 Z" fill="#fff" fill-opacity="0.07"/><path d="M333.0,84.0 L240.0,64.8 L242.2,56.2 Z" fill="#000" fill-opacity="0.21"/><path d="M333.0,84.0 L242.2,56.2 L245.5,46.9 Z" fill="#000" fill-opacity="0.19"/><path d="M333.0,84.0 L245.5,46.9 L249.8,38.1 Z" fill="#fff" fill-opacity="0.09"/><path d="M333.0,84.0 L249.8,38.1 L253.7,31.7 Z" fill="#000" fill-opacity="0.12"/><path d="M333.0,84.0 L253.7,31.7 L258.3,25.4 Z" fill="#000" fill-opacity="0.10"/><path d="M333.0,84.0 L258.3,25.4 L264.0,18.7 Z" fill="#000" fill-opacity="0.18"/><path d="M333.0,84.0 L264.0,18.7 L271.4,11.6 Z" fill="#000" fill-opacity="0.12"/><path d="M333.0,84.0 L271.4,11.6 L276.6,7.5 Z" fill="#000" fill-opacity="0.20"/><path d="M333.0,84.0 L276.6,7.5 L283.3,3.0 Z" fill="#000" fill-opacity="0.18"/><path d="M333.0,84.0 L283.3,3.0 L291.2,-1.3 Z" fill="#000" fill-opacity="0.10"/><path d="M333.0,84.0 L291.2,-1.3 L296.0,-3.5 Z" fill="#000" fill-opacity="0.11"/><path d="M333.0,84.0 L296.0,-3.5 L303.9,-6.4 Z" fill="#000" fill-opacity="0.09"/><path d="M333.0,84.0 L303.9,-6.4 L309.1,-8.0 Z" fill="#000" fill-opacity="0.10"/><path d="M333.0,84.0 L309.1,-8.0 L316.8,-9.6 Z" fill="#000" fill-opacity="0.14"/><path d="M333.0,84.0 L316.8,-9.6 L326.5,-10.8 Z" fill="#fff" fill-opacity="0.05"/><path d="M333.0,84.0 L326.5,-10.8 L332.3,-11.0 Z" fill="#000" fill-opacity="0.11"/><path d="M333.0,84.0 L332.3,-11.0 L341.3,-10.6 Z" fill="#000" fill-opacity="0.16"/><path d="M333.0,84.0 L341.3,-10.6 L348.9,-9.7 Z" fill="#fff" fill-opacity="0.09"/><path d="M333.0,84.0 L348.9,-9.7 L357.9,-7.7 Z" fill="#000" fill-opacity="0.13"/><path d="M333.0,84.0 L357.9,-7.7 L367.1,-4.7 Z" fill="#000" fill-opacity="0.19"/><path d="M333.0,84.0 L367.1,-4.7 L372.4,-2.5 Z" fill="#fff" fill-opacity="0.05"/><path d="M333.0,84.0 L372.4,-2.5 L381.5,2.3 Z" fill="#fff" fill-opacity="0.06"/><path d="M333.0,84.0 L381.5,2.3 L385.7,4.9 Z" fill="#000" fill-opacity="0.10"/><path d="M333.0,84.0 L385.7,4.9 L392.8,10.2 Z" fill="#000" fill-opacity="0.19"/><path d="M333.0,84.0 L392.8,10.2 L399.8,16.4 Z" fill="#000" fill-opacity="0.21"/><path d="M333.0,84.0 L399.8,16.4 L403.5,20.3 Z" fill="#fff" fill-opacity="0.04"/><path d="M333.0,84.0 L403.5,20.3 L408.7,26.5 Z" fill="#000" fill-opacity="0.22"/><path d="M333.0,84.0 L408.7,26.5 L412.4,31.9 Z" fill="#fff" fill-opacity="0.08"/><path d="M333.0,84.0 L412.4,31.9 L417.0,39.7 Z" fill="#000" fill-opacity="0.09"/><path d="M333.0,84.0 L417.0,39.7 L421.0,48.2 Z" fill="#000" fill-opacity="0.13"/><path d="M333.0,84.0 L421.0,48.2 L423.2,54.3 Z" fill="#000" fill-opacity="0.10"/><path d="M333.0,84.0 L423.2,54.3 L424.7,59.3 Z" fill="#000" fill-opacity="0.17"/><path d="M333.0,84.0 L424.7,59.3 L426.7,68.4 Z" fill="#000" fill-opacity="0.15"/><path d="M333.0,84.0 L426.7,68.4 L427.8,78.5 Z" fill="#fff" fill-opacity="0.08"/><path d="M333.0,84.0 L427.8,78.5 L428.0,85.8 Z" fill="#fff" fill-opacity="0.07"/></g></g>
<path d="M329.9,9.5 327.5,10.2 325.0,10.2 322.5,10.8 320.4,9.2 317.9,9.3 315.6,10.1 313.8,11.8 311.3,12.3 309.0,13.4 306.6,14.0 304.4,15.3 301.8,15.4 299.6,16.6 297.2,17.4 295.5,19.3 293.2,20.1 291.0,21.4 288.5,21.6 286.0,22.2 283.6,22.7 281.9,24.5 280.2,26.2 280.0,28.8 278.9,31.1 278.2,33.5 276.4,35.4 275.2,37.6 273.5,39.4 272.6,41.8 271.2,43.9 271.0,46.5 269.4,48.5 267.9,50.5 265.8,52.0 264.7,54.4 262.9,56.2 262.0,58.6 260.2,60.4 260.0,63.0 258.9,65.3 258.6,67.8 257.8,70.2 257.6,72.7 256.9,75.1 257.2,77.7 257.4,80.2 258.2,82.5 258.6,85.0 259.3,87.4 259.1,89.9 259.2,92.4 258.6,94.8 258.5,97.3 257.7,99.8 257.8,102.3 256.9,104.7 257.6,107.2 257.6,109.8 259.2,111.8 260.2,114.1 262.0,115.9 263.3,118.1 265.6,119.2 267.5,120.9 269.9,121.8 271.8,123.5 274.2,124.3 275.9,126.3 278.3,127.2 279.8,129.3 281.8,130.8 282.9,133.2 284.8,134.9 286.0,137.1 287.3,139.3 288.3,141.6 290.4,143.1 292.2,144.8 294.6,145.7 296.6,147.3 298.9,148.2 301.2,149.3 303.8,149.2 306.1,150.4 308.6,150.5 311.0,151.5 313.5,152.0 315.5,153.5 317.8,154.7 319.0,156.9 321.1,158.2 323.5,158.9 325.9,158.4 328.4,158.0 330.7,157.0 333.2,156.5 335.5,155.6 337.8,154.7 339.7,153.1 342.3,152.3 342.7,149.9 343.2,147.4 343.0,144.9 343.7,142.4 343.2,139.9 343.9,137.4 343.7,134.9 344.1,132.4 343.9,129.9 344.6,127.4 344.4,124.9 344.7,122.4 344.7,119.9 344.9,117.4 344.9,114.9 345.3,112.4 344.7,109.9 345.2,107.4 344.9,104.9 345.0,102.4 344.9,99.9 345.3,97.4 344.8,94.9 345.3,92.4 344.7,89.9 345.1,87.4 344.7,84.9 345.1,82.4 344.7,79.9 345.4,77.4 344.8,74.9 345.1,72.4 344.7,69.9 345.4,67.3 344.8,64.8 345.4,62.3 344.8,59.8 345.2,57.3 345.0,54.8 345.3,52.3 344.8,49.8 345.1,47.3 344.7,44.8 344.8,42.3 344.4,39.8 344.3,37.3 343.9,34.8 344.2,32.3 343.8,29.8 343.7,27.3 343.4,24.8 343.6,22.3 343.0,19.8 343.2,17.3 342.8,14.8 341.7,12.9 339.4,11.9 337.3,10.4 334.9,10.0 332.5,9.5Z" fill="none" stroke="#000" stroke-width="1.9" filter="url(#soft)"/>
<g clip-path="url(#ctmred)"><rect x="270" y="2.5" width="130" height="161.8" fill="#363636"/>
<path d="M396.7,163.9 397.3,162.4 399.0,163.2 399.7,163.1 399.8,162.5 399.7,161.3 398.7,161.6 396.7,161.2 396.3,158.8 395.3,156.8 395.7,156.3 397.7,156.3 399.0,154.7 399.7,154.7 399.7,154.2 399.7,150.8 398.7,149.5 399.8,148.5 399.7,144.5 397.3,144.5 396.5,143.8 397.0,142.3 399.7,142.4 399.8,141.8 399.8,134.5 398.5,133.2 398.5,129.5 397.5,127.8 399.0,125.0 399.7,125.0 399.7,123.8 397.7,122.5 397.2,121.2 397.7,120.5 399.7,119.9 399.7,119.2 397.7,119.0 397.1,118.2 399.7,117.2 399.7,116.2 398.0,116.6 397.6,115.8 398.0,114.3 399.3,112.5 398.4,109.8 399.7,109.2 399.7,108.8 396.7,109.0 394.0,109.6 392.1,107.2 390.7,106.2 390.5,105.5 391.5,103.2 394.0,103.1 396.3,105.1 398.3,105.4 398.4,107.2 399.7,107.2 399.7,103.1 397.0,102.5 398.5,100.8 399.7,100.4 399.7,98.8 396.8,97.5 395.6,95.2 396.3,94.7 398.3,95.4 399.7,94.7 399.7,92.1 399.0,92.0 398.5,91.2 399.8,90.5 399.8,86.8 399.0,86.4 397.0,86.6 395.4,84.5 396.8,82.8 396.0,81.2 399.3,82.0 399.7,80.8 396.0,80.1 395.4,78.5 393.5,77.5 393.2,76.2 393.5,75.2 397.7,72.8 399.7,72.8 399.7,71.9 398.0,71.9 396.0,72.7 395.6,72.2 396.3,70.6 398.0,70.8 399.7,70.3 399.8,69.8 399.8,64.2 399.0,63.5 398.4,61.5 398.7,60.8 399.7,60.2 399.8,57.2 399.3,56.5 399.7,55.8 399.7,53.2 399.7,52.8 397.3,54.7 394.7,55.4 393.0,55.2 392.1,54.5 390.7,51.2 391.3,49.6 392.7,49.7 394.7,49.0 396.0,49.3 398.3,48.6 399.7,48.9 399.8,48.5 399.7,47.2 397.7,45.9 396.0,45.8 395.4,44.8 396.0,43.5 397.0,42.9 398.7,43.3 399.7,44.3 399.7,41.9 397.7,41.8 396.8,40.8 398.0,40.3 398.7,38.2 399.7,38.1 399.7,37.0 398.0,37.0 395.7,38.0 393.7,36.0 393.4,35.2 393.7,34.6 396.3,36.0 399.7,35.5 399.7,34.5 399.0,34.1 398.0,34.0 396.0,34.7 395.0,34.2 394.5,33.2 395.0,32.4 398.2,31.5 396.8,29.2 399.0,29.3 399.7,28.8 399.7,27.9 398.0,28.3 395.0,27.7 394.9,27.2 396.0,25.4 397.3,25.3 398.0,26.0 398.5,24.2 399.7,23.5 399.7,22.3 399.0,21.9 397.0,22.7 396.0,22.3 396.1,20.8 395.4,18.8 396.7,16.1 397.7,15.4 398.7,15.8 398.9,17.8 399.7,18.5 399.7,11.5 397.0,11.8 395.2,9.5 394.8,7.8 396.0,5.8 398.7,4.1 399.7,4.0 399.7,3.4 396.7,4.1 396.9,2.5 396.0,2.4 395.0,4.4 394.0,3.7 394.2,2.5 390.6,2.5 390.4,4.2 391.3,5.7 394.0,5.0 395.0,5.8 390.3,8.2 389.6,7.8 389.2,4.2 389.5,2.5 389.0,2.4 387.7,3.2 385.0,3.6 383.3,3.5 382.3,2.4 380.4,2.5 376.0,5.7 373.7,3.9 373.4,2.5 368.7,2.5 369.0,3.4 370.3,4.3 372.4,4.2 372.7,5.5 371.7,6.6 366.7,6.2 365.5,5.5 365.0,4.5 366.8,2.5 366.3,2.4 359.8,2.5 360.5,3.2 360.3,3.8 358.0,4.3 357.3,3.8 358.3,2.4 355.7,2.7 351.3,2.4 348.7,4.7 344.0,5.9 343.3,5.7 343.2,5.2 344.4,2.8 344.0,2.4 342.4,2.5 340.7,4.8 338.3,4.0 336.0,4.6 333.0,2.4 330.0,2.4 329.5,2.5 328.3,5.2 323.7,5.6 323.0,5.4 322.0,3.0 321.3,2.4 317.3,2.4 317.0,3.5 316.0,4.2 315.3,3.5 313.0,3.7 311.7,2.4 304.0,2.4 302.0,2.9 301.0,2.4 300.5,2.5 300.8,3.8 300.5,5.5 301.1,6.5 299.3,7.3 296.0,7.0 295.5,6.5 296.0,3.4 296.7,3.5 297.3,4.8 298.7,4.9 299.8,3.8 299.3,2.5 295.7,2.4 293.7,3.8 292.1,3.2 292.3,2.5 285.7,2.5 286.5,4.2 285.8,5.2 285.0,5.4 281.7,4.6 280.3,2.5 276.7,2.5 278.7,3.5 279.2,4.5 279.2,6.2 278.7,6.5 277.0,6.0 274.7,7.0 272.0,6.4 270.4,4.5 272.0,4.4 274.3,5.2 275.2,4.2 275.0,2.5 272.0,2.4 271.0,3.2 270.7,2.5 270.0,2.4 270.0,5.5 271.9,9.8 273.7,9.9 277.7,7.5 279.8,8.8 279.7,10.2 280.4,12.2 280.2,13.2 279.1,14.5 278.0,14.8 276.4,14.2 274.5,11.8 270.0,11.5 270.0,12.3 271.3,12.4 272.2,13.2 272.0,14.7 270.7,13.4 270.0,13.5 269.9,14.2 270.0,14.8 272.3,16.8 272.0,17.4 270.0,18.0 270.0,19.0 271.3,18.8 271.5,19.2 270.0,19.7 270.0,21.2 271.0,21.8 272.0,20.3 272.6,23.5 272.1,24.8 270.0,24.8 270.0,28.0 271.0,27.0 274.7,26.3 276.0,27.1 277.2,28.8 276.0,30.1 275.0,32.1 274.3,32.1 272.0,30.4 271.0,30.4 270.0,31.2 270.0,32.8 271.3,33.1 271.6,33.8 270.0,34.4 270.0,35.5 273.3,34.8 272.8,36.8 273.6,38.8 273.3,39.3 272.7,39.2 271.6,37.8 270.0,36.8 270.0,44.5 270.7,42.6 272.3,42.1 273.3,45.5 272.7,47.8 271.7,48.1 270.0,47.5 269.9,47.8 271.0,48.7 273.0,48.9 274.4,51.2 274.7,52.5 274.4,53.5 273.7,53.8 270.0,52.4 269.9,55.2 271.7,54.3 274.0,55.2 275.9,52.5 277.0,52.0 281.3,54.8 282.3,56.2 281.3,58.0 280.0,56.9 277.3,57.1 275.7,58.1 274.7,58.2 271.7,56.4 269.9,57.5 270.0,58.6 271.0,57.6 272.0,57.6 275.0,60.5 280.7,61.0 281.1,61.5 279.7,63.4 276.7,64.6 273.3,63.7 269.9,64.2 270.0,64.7 271.3,65.2 272.4,67.8 272.0,68.8 269.9,69.8 269.8,71.8 270.0,73.1 272.5,77.5 270.0,79.0 269.9,79.5 273.0,78.4 274.0,79.5 273.7,80.6 270.0,81.7 270.0,82.8 271.7,83.2 271.4,85.2 270.0,85.8 269.9,89.8 273.0,90.1 274.0,92.0 276.0,90.4 277.3,90.7 277.9,91.5 276.7,93.6 273.7,94.4 272.0,94.1 270.7,92.6 270.0,92.6 270.0,95.5 271.8,97.5 270.0,98.3 270.0,99.4 271.4,99.2 270.0,99.6 269.9,100.2 273.3,100.2 274.7,102.2 273.7,104.8 270.0,103.8 269.9,109.2 271.1,109.8 273.4,112.8 270.7,114.6 270.0,115.4 269.9,116.8 271.3,115.1 272.7,114.5 276.3,114.5 278.5,115.5 277.2,115.8 276.4,116.8 277.0,119.7 275.3,119.7 273.0,119.0 270.0,119.1 269.9,119.5 270.0,120.1 273.2,121.2 273.8,122.8 273.5,124.2 272.0,125.1 271.0,124.9 270.0,123.8 270.6,127.8 273.5,130.5 273.0,131.2 271.7,131.3 270.0,130.1 270.0,133.0 272.7,132.5 271.7,133.8 270.0,134.3 270.0,135.4 274.7,133.9 275.7,134.6 276.3,136.2 275.7,137.0 273.7,137.9 270.7,137.0 269.9,137.5 270.0,138.0 271.0,137.9 272.7,138.5 273.1,139.5 273.0,140.2 270.0,141.7 269.9,142.2 270.3,143.0 272.3,141.8 272.9,142.2 271.3,143.9 269.9,144.5 270.0,145.2 272.3,146.2 272.9,147.5 272.3,148.3 270.0,147.8 270.0,148.9 272.0,149.7 272.3,151.8 271.4,154.8 270.7,155.6 270.0,155.2 269.9,159.2 270.0,159.6 271.0,159.6 274.0,158.3 274.9,158.8 275.2,159.8 274.3,161.1 270.0,161.5 270.0,163.3 271.0,162.1 273.3,161.7 274.5,162.2 275.3,164.0 282.0,163.9 285.0,159.7 285.7,159.4 287.8,163.8 289.0,163.8 288.0,161.4 291.2,163.2 291.3,163.8 294.7,163.8 296.3,162.1 297.4,163.5 300.0,163.9 299.9,163.2 298.6,162.2 301.0,160.5 303.3,159.7 305.0,160.7 305.9,161.8 305.7,163.0 304.6,163.8 308.1,163.8 308.3,163.2 307.9,161.8 308.7,161.3 310.1,162.8 309.9,163.8 310.9,163.8 311.8,162.2 310.7,160.2 312.3,159.9 315.9,161.8 317.0,164.0 317.3,163.8 317.0,161.8 314.8,160.2 317.0,159.5 319.6,155.8 320.7,155.5 321.9,156.2 321.7,158.5 322.3,159.4 323.3,159.8 325.3,159.3 326.1,159.8 323.8,161.5 324.3,163.9 324.8,163.8 324.5,162.5 325.0,161.7 329.0,159.8 331.7,159.5 332.5,160.2 332.3,163.9 335.7,163.2 338.7,163.9 345.0,164.0 345.4,163.8 345.3,161.8 346.0,161.6 346.8,162.2 347.1,163.8 350.3,163.9 351.0,163.5 351.0,162.5 348.0,162.1 345.1,159.5 345.2,157.5 344.1,155.8 343.7,153.8 344.7,152.9 348.0,153.2 351.0,152.4 352.1,153.2 352.5,156.2 351.9,159.5 352.0,163.9 352.6,163.8 353.5,160.8 352.9,159.2 353.3,157.4 355.3,157.9 357.3,156.9 359.0,157.4 360.0,156.0 360.9,157.5 363.3,158.4 364.3,158.2 365.3,156.5 365.9,156.5 364.6,158.5 360.7,160.6 360.1,161.8 360.3,163.9 361.9,163.8 362.7,162.7 364.3,163.2 365.7,160.6 367.0,161.5 367.1,162.5 366.5,163.8 367.2,163.8 368.1,162.2 368.3,159.2 372.3,157.9 373.7,158.5 374.0,159.7 373.3,160.5 371.7,159.5 371.8,160.5 375.0,161.1 377.0,160.7 378.3,163.9 382.4,163.8 381.7,162.6 380.6,161.8 381.3,161.6 382.7,161.9 383.7,163.9 385.7,163.8 386.0,162.5 386.7,162.0 387.7,162.8 387.8,163.8 389.0,163.9 389.7,162.8 389.1,160.8 389.7,160.5 390.8,162.2 390.5,163.8 393.3,163.9 394.3,162.8 396.0,162.3 396.0,163.8 396.7,163.9ZM310.7,8.8 309.0,8.9 306.7,8.0 303.3,7.7 302.2,6.5 304.0,3.9 306.7,3.9 308.3,3.2 310.3,5.1 312.0,4.5 314.2,5.8 314.0,7.9 310.7,8.8ZM316.2,6.8 315.7,6.5 315.9,5.8 317.7,4.0 320.7,3.2 321.7,4.2 322.1,5.5 321.7,6.2 320.7,6.1 319.7,4.8 318.5,5.8 316.2,6.8ZM335.4,9.8 334.0,9.8 332.0,8.0 330.2,7.8 330.0,6.8 331.7,3.3 332.9,3.5 334.7,5.6 336.3,5.8 338.3,5.2 339.1,5.8 337.7,8.1 335.4,9.8ZM354.1,7.2 352.3,7.3 351.0,6.6 350.3,5.2 350.7,4.2 355.1,4.2 355.4,5.8 354.1,7.2ZM385.9,8.8 384.4,8.8 383.4,7.8 383.9,4.5 387.3,4.1 388.7,5.5 388.8,6.8 387.7,8.1 385.9,8.8ZM290.3,10.8 288.9,10.8 287.3,8.9 285.0,9.4 282.0,9.0 280.1,6.8 280.0,5.2 280.3,4.8 285.0,6.5 287.0,5.5 288.0,5.6 289.0,9.8 290.3,10.8ZM367.0,15.2 366.0,15.3 365.8,14.2 365.0,13.6 364.3,13.6 363.0,14.6 362.7,14.3 362.4,11.2 361.0,9.5 361.0,7.2 360.3,5.5 360.7,5.1 361.7,4.8 362.3,5.2 362.1,7.5 363.0,8.4 368.0,7.1 370.3,7.5 372.3,8.6 373.7,8.6 377.5,10.8 377.7,12.9 374.7,12.2 369.0,12.9 367.0,15.2ZM379.6,5.2 378.3,5.2 379.0,4.8 379.6,5.2ZM382.1,14.5 381.7,14.8 378.7,13.6 378.7,10.5 377.2,8.5 376.9,7.2 378.0,6.3 380.7,6.3 382.3,4.8 382.7,5.2 382.3,7.8 383.3,9.8 383.4,12.5 382.1,14.5ZM291.3,9.2 290.0,8.8 289.3,5.9 291.7,5.9 292.6,6.5 292.5,7.8 291.3,9.2ZM310.3,6.1 310.3,5.6 310.3,6.1ZM360.1,8.8 359.3,8.9 357.7,7.6 356.3,7.6 356.1,6.8 356.6,5.8 357.7,5.6 359.0,6.3 360.1,7.8 360.1,8.8ZM328.0,12.5 326.9,11.8 326.1,8.5 324.4,7.2 323.0,7.0 323.3,6.4 326.0,6.0 328.6,6.8 329.5,9.2 328.0,12.5ZM376.0,7.8 375.1,7.8 374.5,6.8 375.7,6.6 376.0,7.8ZM341.0,13.2 339.7,13.2 338.7,12.1 337.7,11.8 337.5,11.2 340.5,10.2 340.4,7.8 341.0,6.6 342.7,7.2 345.0,6.9 345.8,8.2 345.9,9.5 343.7,12.4 341.0,13.2ZM347.4,10.5 346.5,10.5 346.9,9.2 346.0,6.8 346.7,7.0 348.1,9.2 347.4,10.5ZM319.0,10.5 316.8,7.8 318.3,7.5 319.0,7.8 319.0,10.5ZM300.4,16.2 299.0,16.4 297.3,13.8 296.9,11.5 294.9,9.5 295.4,8.2 297.0,7.7 300.9,7.8 300.5,9.2 301.3,13.5 300.4,16.2ZM351.2,13.8 345.9,12.2 348.4,10.8 350.3,8.0 352.3,8.6 353.1,9.8 351.2,13.8ZM392.7,16.8 391.3,16.5 390.0,14.9 388.7,15.2 390.2,12.8 389.8,11.2 388.6,9.8 393.3,8.1 393.8,8.5 394.4,12.8 394.1,15.8 392.7,16.8ZM315.0,13.5 313.0,13.3 311.6,12.5 311.8,9.5 315.0,8.4 316.9,9.5 318.8,13.2 315.0,13.5ZM309.0,13.2 307.6,13.2 307.2,11.5 306.3,10.5 306.2,8.8 307.3,9.5 307.5,11.2 309.3,10.4 310.0,10.6 310.1,12.2 309.0,13.2ZM324.4,15.2 322.0,14.8 320.3,13.6 320.2,9.2 324.0,9.0 325.0,9.5 326.4,14.2 324.4,15.2ZM332.9,16.5 331.7,16.8 330.1,16.5 330.8,14.5 329.2,12.8 329.0,11.8 330.7,9.4 331.4,9.5 332.9,11.5 335.9,11.5 335.2,15.2 332.9,16.5ZM286.1,15.5 285.3,15.6 283.0,14.5 281.8,13.2 281.5,11.5 282.7,10.0 287.0,10.1 288.8,12.5 286.1,15.5ZM295.3,12.8 293.3,12.5 292.0,11.6 291.6,10.5 293.0,9.7 293.7,9.8 295.8,11.5 296.0,12.2 295.3,12.8ZM304.7,10.2 304.7,9.8 304.7,10.2ZM357.2,10.8 356.3,10.8 356.0,9.8 356.9,9.8 357.2,10.8ZM387.4,14.5 386.5,14.2 385.6,12.2 384.3,11.3 384.3,10.1 387.0,10.2 388.9,11.2 389.0,12.5 387.4,14.5ZM358.3,17.5 357.3,17.5 354.7,15.7 352.5,15.5 352.3,14.8 353.0,13.2 355.3,12.3 357.0,12.8 359.0,11.7 361.3,11.3 361.8,12.2 361.7,14.0 359.8,15.2 358.3,17.5ZM290.0,20.8 289.3,20.9 286.7,19.2 286.4,18.2 289.0,14.2 292.0,12.7 293.5,13.5 294.7,15.2 296.0,15.5 296.1,16.2 294.0,18.1 292.3,18.2 290.0,20.8ZM302.1,15.5 302.1,14.5 303.3,13.2 305.3,12.8 306.2,13.2 304.7,13.6 302.1,15.5ZM340.1,15.8 338.3,16.0 336.7,13.5 337.7,13.0 338.3,13.2 340.1,15.8ZM376.0,17.2 374.7,17.1 373.6,16.2 373.4,14.8 375.0,13.1 376.3,13.3 377.2,14.2 376.7,16.8 376.0,17.2ZM395.3,16.5 394.7,16.5 394.8,14.2 395.7,13.1 396.2,13.5 395.3,16.5ZM313.5,16.5 312.7,16.6 311.0,15.0 309.0,14.9 309.0,14.2 310.3,13.3 312.0,13.7 313.6,14.8 313.5,16.5ZM344.4,20.2 342.1,19.8 341.3,18.5 342.2,16.2 344.0,15.5 343.9,13.8 344.3,13.3 345.0,19.5 344.4,20.2ZM348.4,18.2 347.7,18.5 345.6,17.2 345.7,16.4 347.0,15.5 346.6,13.8 347.0,13.3 348.3,13.5 350.5,15.2 349.0,16.5 348.4,18.2ZM326.4,20.5 325.0,20.3 324.0,18.5 322.5,17.2 323.3,16.5 329.7,14.5 329.8,15.2 327.5,17.8 327.3,19.8 326.4,20.5ZM369.8,20.8 369.0,21.0 367.0,19.7 364.3,19.7 363.8,18.8 364.3,17.5 367.4,16.5 370.0,14.3 372.3,17.2 369.8,20.8ZM277.4,20.8 275.3,21.0 273.5,19.5 273.2,16.8 274.7,14.9 275.3,14.7 280.0,16.7 282.7,15.8 284.1,16.5 284.2,17.2 283.7,17.8 281.0,18.4 277.4,20.8ZM308.7,23.2 308.3,23.5 307.3,23.0 303.4,17.8 302.0,16.8 305.7,14.8 306.0,16.2 306.7,16.3 308.5,18.5 307.5,21.2 308.7,23.2ZM323.0,21.8 321.0,21.8 319.4,19.5 317.7,18.8 318.0,16.8 319.3,15.3 320.0,15.5 319.9,17.5 320.3,18.7 323.0,19.9 323.6,21.2 323.0,21.8ZM379.6,17.5 378.7,17.5 377.8,16.5 377.8,15.5 378.3,14.9 380.7,15.2 380.4,16.8 379.6,17.5ZM387.6,20.5 383.7,20.5 381.4,16.5 385.3,15.4 387.3,16.0 388.1,16.8 388.4,18.2 387.6,20.5ZM356.2,20.5 355.3,20.5 354.3,16.4 355.3,16.7 357.0,18.3 358.3,18.5 359.3,18.2 360.5,16.2 361.3,15.9 362.7,17.9 362.3,18.9 359.3,19.1 356.2,20.5ZM312.9,22.2 311.7,21.5 313.0,18.2 316.3,16.4 316.9,19.5 312.9,22.2ZM286.0,16.8 285.5,16.8 285.7,16.5 286.0,16.8ZM339.2,25.5 338.7,25.7 336.7,25.0 332.4,21.2 331.6,18.2 334.3,16.8 337.0,17.5 339.7,17.2 340.0,19.8 340.7,21.5 339.2,25.5ZM353.8,19.8 352.7,18.5 350.0,18.7 349.7,17.5 353.0,17.2 353.6,17.8 353.8,19.8ZM295.2,24.8 291.3,23.8 289.0,23.8 288.7,23.2 289.0,22.6 290.3,22.0 292.0,19.8 294.5,19.8 296.0,18.1 297.3,17.5 299.1,18.8 300.2,21.8 299.3,22.8 297.3,23.4 295.2,24.8ZM389.6,19.2 389.2,18.8 390.0,17.3 393.1,17.8 392.0,18.6 389.6,19.2ZM301.4,19.2 300.9,18.2 301.7,17.7 302.1,18.5 301.4,19.2ZM374.4,25.5 373.0,25.6 370.8,24.8 369.8,22.2 373.6,17.8 377.4,18.2 377.9,18.5 376.7,19.5 376.4,20.5 374.3,21.2 374.0,22.2 375.3,23.0 378.0,21.8 378.7,21.9 378.7,22.5 376.7,24.9 374.4,25.5ZM394.1,19.2 394.0,18.7 394.1,19.2ZM379.3,24.2 378.7,24.5 378.5,24.2 380.1,22.2 380.0,19.5 380.3,19.0 381.3,19.1 382.2,19.8 382.2,20.8 380.7,23.1 379.3,24.2ZM302.2,27.2 301.0,27.2 300.0,25.9 298.0,25.8 297.3,25.2 299.3,24.3 301.5,22.5 303.0,19.4 307.8,24.8 306.3,26.5 304.3,26.1 302.2,27.2ZM285.5,21.5 284.7,21.5 284.2,20.8 285.0,19.8 287.3,20.4 288.2,21.2 285.5,21.5ZM351.3,25.5 350.3,25.6 348.1,23.2 348.3,20.8 349.0,20.2 351.3,20.1 352.7,21.1 355.1,21.8 354.9,22.5 352.7,23.9 352.6,25.2 351.3,25.5ZM359.8,26.2 357.3,24.5 355.8,22.8 355.9,22.2 356.3,21.6 359.7,20.2 362.0,20.0 362.4,20.8 361.4,25.2 360.7,26.1 359.8,26.2ZM309.8,22.2 308.7,22.2 308.3,21.5 309.7,20.3 309.8,22.2ZM317.7,26.2 316.3,26.4 316.5,23.8 314.8,22.5 315.3,21.8 318.3,20.2 319.0,22.2 320.8,23.5 317.7,26.2ZM328.0,25.2 325.7,25.3 324.5,22.8 327.0,21.1 329.3,21.0 330.7,20.2 331.6,22.2 329.0,23.7 328.0,25.2ZM347.1,23.5 345.3,23.5 344.0,22.1 343.3,22.5 343.2,23.2 342.7,23.2 341.8,21.8 342.7,20.8 344.7,21.8 346.7,21.5 347.1,23.5ZM369.4,26.8 365.3,24.9 363.7,21.3 367.0,21.8 369.0,23.5 370.0,25.5 369.4,26.8ZM274.6,23.5 273.3,23.5 273.3,21.3 274.9,22.8 274.6,23.5ZM281.0,23.5 279.3,23.6 278.5,22.5 279.0,22.0 282.3,21.8 282.5,22.8 281.0,23.5ZM382.6,26.5 380.7,26.5 380.3,24.5 382.7,21.8 385.3,21.9 385.0,25.8 382.6,26.5ZM276.2,22.5 275.5,22.5 276.8,22.2 276.2,22.5ZM389.2,28.5 388.5,28.5 388.0,26.7 386.6,25.5 389.0,23.5 387.7,23.0 388.0,22.5 390.0,22.7 393.3,25.5 390.9,25.8 390.4,26.5 390.4,27.8 389.2,28.5ZM332.4,29.5 330.3,29.6 328.4,26.5 329.9,23.8 333.0,22.6 337.7,26.8 336.3,29.0 332.4,29.5ZM394.0,24.2 392.7,24.1 391.5,22.8 394.0,23.2 394.0,24.2ZM314.4,26.5 313.7,26.8 310.7,25.6 309.0,26.5 308.6,25.8 309.2,24.5 311.3,22.9 314.0,25.2 314.4,26.5ZM321.4,30.8 320.1,30.8 320.3,28.5 318.7,29.9 317.7,30.2 316.9,29.8 316.0,28.2 316.7,27.4 319.0,27.0 320.1,25.2 322.3,23.4 323.9,24.8 324.5,26.5 321.8,27.8 321.4,30.8ZM284.8,28.5 282.3,28.7 279.7,27.8 279.4,26.8 280.4,24.8 282.7,24.1 284.7,26.2 286.3,26.2 286.9,27.2 284.8,28.5ZM344.3,31.5 342.0,31.7 339.4,30.2 338.7,28.8 341.0,24.4 345.3,24.1 348.3,25.8 348.5,28.8 348.1,29.8 344.3,31.5ZM274.5,24.8 274.1,24.8 274.5,24.8ZM296.0,30.5 292.6,30.5 292.7,25.9 296.0,25.4 297.3,26.7 299.3,27.0 300.5,28.2 300.0,28.9 298.3,27.6 297.3,27.6 296.6,28.5 296.0,30.5ZM364.8,30.5 363.0,30.4 361.4,28.8 362.2,26.8 364.0,25.2 367.1,27.2 366.9,27.8 365.5,28.8 364.8,30.5ZM353.1,30.5 352.0,30.7 349.7,29.7 349.5,28.8 350.7,27.5 354.0,26.0 355.7,27.2 357.7,27.8 359.2,29.5 358.3,29.8 356.0,28.7 353.1,30.5ZM377.1,29.2 373.4,26.5 378.7,26.0 379.2,26.8 379.0,27.8 377.1,29.2ZM290.7,28.2 289.0,28.3 288.2,26.5 291.0,27.0 291.2,27.5 290.7,28.2ZM326.4,33.5 325.3,33.5 324.1,32.8 322.3,29.2 322.7,28.5 325.0,27.6 326.7,26.3 327.7,26.8 329.4,30.2 330.3,30.8 328.7,33.1 326.4,33.5ZM370.4,32.2 369.3,32.0 369.1,30.5 370.6,27.2 371.3,26.6 372.1,28.2 371.1,31.5 370.4,32.2ZM384.2,29.8 383.3,30.1 379.5,29.8 381.0,27.6 384.0,26.8 385.0,27.2 386.4,28.8 386.3,29.2 384.2,29.8ZM315.1,33.5 314.7,33.8 311.4,33.2 310.6,30.5 308.4,29.5 308.8,28.2 310.3,27.2 315.0,27.7 316.3,30.5 318.5,31.8 318.0,32.4 316.0,32.5 315.1,33.5ZM305.5,34.2 304.7,34.5 302.7,33.6 301.9,32.2 301.5,30.5 302.0,29.9 303.1,29.8 302.1,28.8 303.0,27.8 304.7,27.7 306.1,28.8 306.5,32.8 305.5,34.2ZM284.6,30.8 282.7,30.9 282.3,30.5 283.3,29.7 286.8,28.8 284.6,30.8ZM299.3,34.8 297.7,35.1 296.9,33.8 297.5,29.5 298.0,28.9 298.7,29.2 301.1,32.8 300.8,33.8 299.3,34.8ZM395.3,30.5 394.4,29.8 394.7,29.1 395.5,29.5 395.3,30.5ZM291.8,34.2 289.7,32.5 287.7,32.3 287.1,31.2 287.3,30.4 289.3,29.5 291.3,29.9 292.0,31.8 291.8,34.2ZM336.5,35.8 334.7,35.7 333.5,34.5 331.8,31.2 332.7,30.1 335.3,29.8 336.1,30.5 336.4,32.2 338.3,32.8 336.5,35.8ZM384.7,39.2 384.0,39.3 383.5,38.8 384.8,35.5 383.7,31.5 388.0,29.9 388.7,31.2 391.7,33.3 391.9,34.2 390.0,37.2 386.7,38.1 384.7,39.2ZM286.8,35.5 285.7,35.7 284.2,34.5 282.3,33.8 276.0,35.3 275.6,34.8 277.0,31.2 278.0,30.5 281.0,32.4 286.3,32.0 286.8,32.8 286.8,35.5ZM359.6,31.5 358.7,31.2 359.2,30.5 360.3,30.2 361.2,30.5 361.0,31.3 359.6,31.5ZM378.5,32.2 377.0,32.2 376.3,30.6 378.3,30.7 378.8,31.2 378.5,32.2ZM350.1,34.8 349.3,35.0 347.3,33.9 346.3,31.8 347.7,31.1 350.0,30.8 350.4,33.5 350.1,34.8ZM353.9,38.2 353.3,38.3 353.1,37.8 354.1,33.8 353.4,31.5 354.3,30.8 355.0,32.8 354.7,37.5 353.9,38.2ZM308.8,37.8 307.3,37.8 306.4,35.5 309.3,31.3 310.3,34.2 309.4,35.5 308.8,37.8ZM382.3,39.5 379.3,39.1 378.6,37.8 379.3,34.8 380.7,33.8 380.5,31.8 381.0,31.4 382.8,32.2 383.5,35.2 382.3,39.5ZM352.7,32.2 352.1,31.8 352.7,32.2ZM368.4,35.8 367.0,35.0 364.3,35.6 364.2,33.5 365.3,31.8 367.3,31.5 368.7,32.2 368.9,33.2 368.4,35.8ZM343.1,33.8 341.7,33.6 341.0,32.5 344.5,32.5 343.1,33.8ZM317.7,40.5 316.0,40.5 314.0,38.2 313.8,37.2 315.3,37.0 316.7,35.7 318.6,35.2 320.7,32.8 322.0,32.7 324.1,34.5 324.4,36.2 322.7,37.4 321.0,39.6 317.7,40.5ZM358.5,37.5 358.0,37.5 358.2,35.8 357.8,34.8 356.2,34.5 356.3,33.0 357.0,33.0 358.7,34.7 360.3,33.8 363.2,34.5 363.2,35.5 362.3,36.5 358.5,37.5ZM371.2,33.5 370.7,33.6 370.6,33.2 371.0,33.1 371.2,33.5ZM375.8,38.5 374.7,38.2 374.4,37.5 376.4,33.5 377.0,33.3 378.0,34.2 378.0,34.8 376.5,36.5 375.8,38.5ZM341.1,41.2 340.3,41.5 339.6,40.8 337.7,36.2 338.1,34.8 339.7,33.7 342.0,35.0 345.0,34.1 344.5,36.2 344.7,38.2 342.0,39.1 341.1,41.2ZM289.2,38.2 288.7,38.4 287.1,37.2 288.0,36.2 288.5,34.5 289.3,34.0 292.2,35.5 289.2,38.2ZM372.8,37.5 369.7,37.2 369.3,35.8 369.7,34.2 374.0,35.2 374.2,35.8 372.8,37.5ZM283.3,42.5 282.1,42.5 278.9,39.2 279.4,36.2 281.7,34.5 284.1,35.5 283.7,37.2 285.7,37.4 289.0,39.9 289.6,40.8 289.5,41.8 289.0,42.1 285.0,41.6 283.3,42.5ZM314.3,35.8 313.3,36.0 311.4,34.8 312.0,34.3 313.0,34.4 314.3,35.8ZM292.4,41.8 291.7,42.0 291.0,40.8 290.7,41.3 290.3,41.0 289.8,38.5 291.7,36.7 294.4,36.5 295.7,34.5 295.6,36.8 296.5,38.2 296.1,39.8 295.3,40.4 293.7,40.5 292.4,41.8ZM323.8,39.5 323.4,39.2 323.5,38.5 325.6,36.5 326.0,34.8 326.3,34.8 326.1,37.2 323.8,39.5ZM332.4,40.8 330.7,38.1 327.6,37.2 327.7,34.8 329.3,35.8 332.3,35.8 333.8,38.8 332.4,40.8ZM347.2,37.8 346.7,38.1 345.5,36.8 345.4,35.8 346.0,35.1 347.5,36.8 347.2,37.8ZM301.6,38.2 300.6,38.2 301.1,35.5 302.0,35.3 303.9,36.2 303.7,36.8 301.6,38.2ZM311.0,40.2 308.7,40.0 307.4,39.2 309.8,38.2 310.5,36.2 311.3,35.8 312.5,36.5 313.4,39.2 311.0,40.2ZM351.0,38.8 349.6,36.8 351.3,35.9 351.8,36.8 351.0,38.8ZM366.0,38.2 365.1,38.2 364.9,36.8 365.7,36.0 366.7,35.9 367.2,36.8 366.0,38.2ZM275.8,42.5 274.7,42.6 273.0,41.4 271.0,41.4 270.6,39.5 274.3,40.3 274.8,38.8 274.3,36.5 276.0,37.3 277.7,36.7 278.0,37.5 276.7,39.3 276.5,41.8 275.8,42.5ZM392.2,44.8 391.7,44.8 391.3,42.8 389.0,41.9 386.8,39.2 389.3,38.9 392.0,36.7 392.0,39.0 394.3,38.9 395.6,39.8 394.9,43.2 392.2,44.8ZM333.3,44.5 332.4,44.2 333.5,42.8 333.4,40.5 336.0,38.9 337.0,37.2 339.5,42.2 339.4,42.8 336.7,44.0 334.7,44.0 333.3,44.5ZM300.1,40.5 299.3,40.5 297.9,39.2 297.8,37.5 299.1,38.5 299.2,39.5 300.6,39.5 300.1,40.5ZM362.4,40.5 361.6,40.5 361.0,38.9 359.3,39.2 358.5,38.5 361.7,37.7 363.3,39.2 362.4,40.5ZM347.7,39.8 346.7,40.1 345.8,39.5 348.3,38.4 349.4,38.5 347.7,39.8ZM369.1,47.8 368.1,47.8 368.7,45.6 367.0,46.2 365.9,44.8 363.4,43.2 362.3,42.9 362.0,42.2 365.0,39.5 366.7,40.3 368.7,38.3 371.3,38.5 373.2,40.2 373.7,42.8 373.0,43.5 371.7,43.2 371.0,43.5 369.7,47.2 369.1,47.8ZM305.4,39.8 302.1,39.2 304.3,38.8 305.4,39.8ZM331.1,42.8 328.4,40.2 328.7,39.3 329.7,39.1 331.0,40.8 331.4,42.2 331.1,42.8ZM357.9,39.5 356.8,39.5 357.3,39.1 357.9,39.5ZM360.0,46.8 357.7,47.0 355.6,45.2 354.6,42.5 356.0,40.5 357.3,40.4 359.5,42.2 359.7,42.8 359.0,43.9 360.7,43.2 360.7,46.2 360.0,46.8ZM348.8,46.8 348.3,47.1 347.3,46.3 344.7,45.9 342.3,44.7 341.3,42.5 343.7,40.8 346.0,40.9 346.7,43.2 349.0,45.8 348.8,46.8ZM377.1,48.2 376.7,48.4 374.7,46.9 373.0,47.4 372.3,46.5 372.3,44.9 374.3,43.8 374.7,40.7 375.3,43.0 377.9,46.8 377.1,48.2ZM310.5,41.2 309.7,41.2 310.5,41.2ZM329.1,44.2 327.7,44.4 325.4,41.8 327.3,41.0 328.3,41.3 329.4,42.5 329.1,44.2ZM376.7,42.2 376.3,42.5 376.0,42.2 376.0,41.2 376.7,42.2ZM389.9,47.5 388.6,47.5 388.9,45.8 388.0,45.0 385.0,45.1 383.7,46.5 383.0,46.4 382.8,45.2 383.6,43.2 386.7,41.2 387.3,41.2 389.4,43.8 390.1,46.5 389.9,47.5ZM297.5,47.2 296.3,47.5 295.5,46.8 296.0,44.5 295.2,42.2 297.7,41.4 300.0,41.4 300.8,42.2 301.1,43.2 300.0,43.1 298.0,44.1 297.5,47.2ZM304.4,46.8 300.0,46.3 299.0,45.5 300.3,44.5 304.0,44.5 304.3,43.8 303.2,41.8 303.7,41.5 304.7,42.0 305.0,42.8 304.4,46.8ZM323.6,43.8 323.0,44.0 322.0,41.8 323.3,42.5 323.6,43.8ZM307.4,47.2 306.0,47.2 305.3,46.2 306.3,42.1 306.1,44.8 307.6,46.2 307.4,47.2ZM314.8,44.8 313.7,44.8 311.6,43.8 311.6,42.2 314.3,42.0 315.1,42.5 315.7,43.8 314.8,44.8ZM287.0,49.8 283.2,48.8 283.5,47.2 282.3,45.8 281.4,43.8 278.0,44.6 277.4,44.2 277.6,43.5 280.0,42.4 281.3,42.8 282.0,43.7 285.0,42.4 288.3,43.3 288.7,45.2 287.7,45.7 286.0,45.5 285.5,46.2 285.7,47.4 287.1,49.2 287.0,49.8ZM381.7,45.5 380.7,44.9 378.7,45.5 378.0,44.5 380.0,42.6 381.0,42.4 382.2,43.5 381.7,45.5ZM320.0,46.5 315.8,46.5 315.9,45.8 317.1,44.8 317.7,42.8 318.7,42.6 321.3,43.4 321.0,44.2 319.3,44.5 319.3,45.2 320.2,45.8 320.0,46.5ZM294.7,44.5 290.2,44.2 291.0,43.5 293.7,43.1 294.8,43.8 294.7,44.5ZM351.2,46.5 350.4,46.2 349.7,43.5 353.9,43.8 354.0,44.6 351.2,46.5ZM363.6,49.2 363.0,49.4 361.7,48.7 359.0,48.5 362.6,46.5 362.5,44.5 363.0,44.0 365.3,45.4 365.9,46.5 365.7,47.4 363.6,49.2ZM337.4,49.2 336.3,49.0 335.0,46.5 336.0,45.1 338.0,44.5 338.4,48.2 337.4,49.2ZM313.6,47.8 312.7,47.9 311.7,46.8 311.5,45.2 313.0,45.3 314.2,46.2 313.6,47.8ZM333.4,51.5 331.0,51.8 328.0,47.9 325.7,48.7 325.3,48.2 327.3,45.5 330.7,45.0 332.6,45.5 334.8,48.5 333.4,51.5ZM280.0,52.5 279.3,52.6 277.7,51.0 275.7,50.7 274.7,50.1 274.1,47.5 274.7,46.2 280.0,45.5 282.2,47.2 282.3,47.8 281.7,48.4 279.7,48.4 279.1,48.8 279.1,49.8 280.2,51.2 280.0,52.5ZM393.6,48.2 390.8,48.2 394.0,45.2 394.7,45.5 395.1,46.5 393.6,48.2ZM358.3,53.5 357.7,53.5 355.3,50.2 353.3,50.5 352.2,49.5 351.8,47.8 353.7,45.8 355.0,45.7 357.0,47.8 358.1,50.8 358.3,53.5ZM294.3,53.2 291.0,52.1 289.3,52.4 288.7,51.9 287.8,48.2 288.4,46.5 289.7,46.3 292.7,49.5 293.5,49.5 294.7,48.5 294.9,48.8 294.6,50.2 295.0,52.2 294.3,53.2ZM341.7,50.5 339.0,50.3 338.6,49.5 339.5,47.8 340.7,47.4 342.0,46.1 343.6,46.2 344.1,46.5 342.3,47.3 341.7,48.2 341.5,49.2 342.0,50.2 341.7,50.5ZM321.6,53.5 320.7,53.4 319.2,52.2 318.7,50.8 320.5,49.2 320.4,47.8 322.7,46.9 324.9,50.2 321.6,53.5ZM317.0,53.8 315.3,53.8 314.7,51.8 316.1,50.5 316.4,47.8 318.3,47.2 319.0,47.7 319.1,48.5 317.9,50.2 317.9,53.2 317.0,53.8ZM345.2,49.2 344.7,49.2 344.7,48.5 345.7,47.5 347.0,47.7 347.9,48.5 345.2,49.2ZM307.4,52.2 304.3,52.1 303.3,51.5 304.9,48.2 307.0,48.8 309.8,47.8 310.0,48.2 308.7,50.7 307.4,52.2ZM382.2,49.5 381.3,49.8 378.3,48.5 379.7,48.1 381.7,48.4 383.5,48.2 382.2,49.5ZM386.1,50.2 385.7,50.3 385.3,49.2 385.7,48.0 386.9,48.5 386.1,50.2ZM298.6,51.5 297.3,51.8 296.4,51.2 298.3,48.5 299.3,48.8 299.6,49.5 298.6,51.5ZM369.6,52.8 368.7,53.0 367.3,52.3 366.7,50.2 365.9,49.2 369.5,49.2 372.2,50.8 369.6,52.8ZM377.1,53.8 373.3,52.5 374.7,49.3 375.3,49.2 378.3,50.5 378.2,52.2 377.1,53.8ZM385.1,55.8 384.0,55.8 381.3,53.5 381.4,52.2 384.3,49.0 384.9,50.8 384.3,53.8 385.1,55.8ZM389.5,49.5 389.0,49.7 388.8,49.2 389.5,49.5ZM351.7,50.8 349.9,50.5 349.6,49.5 350.3,49.4 351.7,50.8ZM365.2,54.5 362.7,54.7 360.5,53.2 359.7,50.8 359.9,49.8 361.0,49.6 363.0,50.6 365.5,50.5 365.2,54.5ZM338.4,53.2 337.3,53.4 335.7,52.9 334.5,51.2 334.6,50.5 335.3,50.1 336.3,50.3 338.4,52.5 338.4,53.2ZM283.0,55.2 281.0,53.2 282.6,51.5 282.8,50.5 284.5,50.5 285.0,50.8 284.8,52.8 283.0,55.2ZM313.2,50.8 312.9,50.8 313.0,50.3 313.2,50.8ZM349.9,59.5 348.4,59.2 348.0,57.4 347.3,56.9 344.0,58.8 343.1,57.8 342.8,56.2 343.3,54.2 345.3,53.4 346.3,50.8 351.0,51.8 350.6,53.5 352.3,54.5 350.8,56.2 350.6,58.8 349.9,59.5ZM305.8,57.2 304.0,57.3 301.7,55.9 300.7,51.0 305.0,54.1 307.4,54.8 307.2,55.8 305.8,57.2ZM309.6,53.5 308.7,53.6 308.4,52.8 310.0,50.9 310.3,51.2 309.6,52.2 309.6,53.5ZM390.2,60.2 389.7,60.2 389.7,57.5 388.0,55.9 386.7,56.1 386.3,55.5 386.6,52.5 387.3,51.1 388.3,51.3 390.7,53.1 391.8,56.2 391.3,58.8 390.2,60.2ZM323.7,56.2 322.0,56.3 321.7,54.5 325.3,51.2 325.8,52.2 325.6,54.5 323.7,56.2ZM342.6,52.8 340.0,52.8 339.4,51.8 340.3,51.4 343.3,51.6 343.6,52.2 342.6,52.8ZM353.9,58.5 352.0,57.9 351.5,56.8 353.5,54.5 353.3,52.8 355.0,51.6 356.7,53.8 358.6,55.2 353.9,58.5ZM331.7,55.8 330.7,55.8 329.5,54.2 329.7,53.5 328.6,52.8 333.3,52.6 333.4,53.5 331.7,55.8ZM288.7,57.5 287.3,57.6 284.0,55.8 284.3,54.8 286.3,52.9 287.3,52.7 289.7,54.2 292.0,53.9 293.3,54.5 293.3,55.2 291.3,56.7 288.7,57.5ZM296.8,56.2 295.3,56.4 294.4,55.8 295.7,52.9 299.3,52.6 300.3,53.2 300.9,54.5 300.6,55.8 296.8,56.2ZM320.2,54.2 319.7,54.2 319.2,53.5 320.2,54.2ZM374.0,61.2 372.7,60.8 372.6,58.8 370.7,56.8 367.5,55.8 367.7,54.5 371.3,53.6 374.5,54.5 373.8,57.5 374.5,60.5 374.0,61.2ZM375.7,57.5 374.7,57.7 375.0,56.2 377.0,55.7 378.7,53.7 379.7,53.8 382.3,55.5 380.0,55.3 379.0,56.3 375.7,57.5ZM310.4,55.2 309.9,54.8 310.0,53.8 310.7,54.2 310.4,55.2ZM337.9,57.5 337.0,57.8 335.1,55.2 335.3,54.5 339.8,54.2 339.8,54.8 337.9,57.5ZM363.8,58.5 361.7,56.9 360.2,54.5 362.3,55.6 364.3,55.4 365.9,55.8 366.0,56.5 363.8,58.5ZM317.4,56.2 316.7,56.4 312.7,55.8 312.7,55.5 313.3,54.8 317.0,54.9 317.6,55.5 317.4,56.2ZM341.3,64.8 338.0,64.5 334.7,63.4 334.2,62.5 334.7,61.2 337.0,59.9 338.0,58.4 340.0,58.1 341.7,54.7 341.6,57.5 343.6,60.5 342.3,62.2 342.0,64.2 341.3,64.8ZM315.8,64.5 314.7,64.8 314.2,64.5 315.3,63.5 315.2,61.8 315.8,60.2 317.3,57.9 318.3,57.5 319.4,55.8 320.3,55.6 320.8,56.5 319.8,59.5 316.6,61.8 316.3,63.8 315.8,64.5ZM394.8,59.8 394.0,60.0 393.3,59.5 392.6,58.2 392.8,57.2 397.0,55.7 396.7,59.4 394.8,59.8ZM303.2,64.8 302.6,64.8 300.7,63.3 298.3,63.2 296.7,62.5 295.7,58.8 294.2,57.5 295.7,57.3 298.0,58.2 300.7,56.7 302.7,57.8 303.3,58.7 303.4,60.8 304.2,62.8 303.2,64.8ZM305.5,64.5 304.6,64.5 304.9,62.5 304.1,60.5 304.2,58.8 308.7,56.8 310.1,59.8 310.1,61.8 308.0,63.2 307.0,62.1 307.0,63.2 305.5,64.5ZM335.6,57.2 334.4,56.8 335.3,56.7 335.6,57.2ZM387.9,60.8 386.7,60.5 386.0,59.5 385.9,58.2 386.7,57.2 387.4,57.2 388.2,59.2 387.9,60.8ZM313.4,62.5 311.2,61.2 310.3,57.8 316.1,57.5 316.4,58.2 313.4,62.5ZM367.2,61.2 366.0,61.0 365.6,59.5 368.0,57.3 369.0,57.3 370.1,57.8 371.1,59.2 371.2,60.5 370.7,60.7 368.3,59.9 367.2,61.2ZM323.3,58.8 322.3,58.9 322.3,57.9 323.3,57.9 323.3,58.8ZM328.4,60.8 326.0,60.4 324.0,60.9 323.4,60.2 325.7,58.1 327.7,58.6 330.7,57.7 330.0,59.1 328.4,60.8ZM360.4,62.8 357.7,63.0 356.4,62.5 356.0,58.6 358.7,58.8 361.0,57.6 361.7,57.9 361.9,58.8 360.4,62.8ZM379.5,59.8 378.7,59.9 377.7,58.7 376.0,59.4 375.6,59.2 377.0,57.8 379.7,57.5 380.1,58.8 379.5,59.8ZM332.3,63.2 329.3,63.5 328.9,62.8 331.3,58.4 334.7,58.3 335.3,59.2 333.4,60.5 333.2,62.2 332.3,63.2ZM291.8,62.5 289.0,62.6 287.7,62.0 287.4,61.2 288.0,60.3 290.3,60.2 292.0,58.7 293.3,58.5 292.7,61.5 291.8,62.5ZM285.8,61.2 284.7,60.7 284.1,59.5 284.3,58.8 286.7,59.2 285.8,61.2ZM348.7,67.2 348.0,67.3 347.7,66.3 343.2,64.2 343.5,62.8 345.0,61.5 346.0,59.6 349.5,60.5 349.7,62.5 351.2,63.8 351.0,64.7 348.7,67.2ZM353.8,62.5 353.3,62.6 352.7,61.8 354.0,60.8 354.3,59.6 355.1,60.2 355.2,61.2 353.8,62.5ZM362.8,64.5 361.7,64.5 361.4,63.5 361.4,62.2 362.7,59.5 364.6,61.2 363.7,64.0 362.8,64.5ZM325.3,65.5 324.7,65.7 323.3,64.6 319.7,64.4 316.6,65.2 319.1,63.2 320.0,60.8 321.0,60.1 322.7,61.7 325.3,61.8 327.8,62.5 327.7,63.0 325.7,63.8 325.3,65.5ZM367.2,64.8 366.1,64.8 366.1,62.8 369.0,61.2 370.3,61.3 372.3,62.4 374.8,62.5 374.3,63.5 373.3,63.8 371.3,63.6 369.3,62.7 367.2,64.8ZM385.4,67.5 383.3,67.6 379.7,65.7 379.3,65.1 380.4,62.5 385.0,61.0 387.0,61.8 387.0,62.5 385.7,64.5 386.0,66.8 385.4,67.5ZM289.5,65.5 284.0,65.4 282.3,63.5 280.8,63.2 282.0,61.8 283.7,61.3 286.0,62.8 289.3,63.7 289.5,65.5ZM293.1,65.5 292.6,65.5 292.3,64.2 294.3,61.5 295.0,62.5 293.9,63.5 293.1,65.5ZM394.3,65.5 393.3,65.7 391.7,64.9 389.3,64.6 387.8,63.5 391.7,61.7 394.0,61.5 394.9,62.5 397.4,63.2 397.3,64.9 394.3,65.5ZM309.7,69.5 309.0,69.8 308.7,69.4 308.6,66.8 307.7,64.8 311.0,62.8 311.7,63.2 312.2,64.5 311.4,66.5 313.1,67.8 309.7,69.5ZM296.3,67.5 295.0,67.3 294.3,66.5 295.0,63.8 296.7,63.4 299.8,64.2 300.1,64.5 297.6,65.5 296.3,67.5ZM277.1,66.5 275.7,66.7 274.2,65.5 272.3,65.2 272.1,64.8 273.3,64.3 276.3,65.3 278.7,64.6 278.3,65.7 277.1,66.5ZM281.8,64.8 281.7,65.1 281.3,64.5 281.8,64.8ZM378.3,68.5 374.7,68.6 374.3,64.5 377.3,64.6 379.1,66.2 379.5,67.2 378.3,68.5ZM283.3,68.5 281.7,68.3 280.7,67.6 280.0,64.8 281.3,66.8 283.1,67.8 283.3,68.5ZM335.0,66.8 332.7,66.3 330.3,66.8 330.3,64.8 333.3,64.8 335.0,66.0 335.0,66.8ZM371.1,70.2 370.0,70.2 367.7,68.8 365.7,69.1 363.4,67.2 362.8,65.5 364.3,65.4 366.7,66.4 368.7,65.1 373.0,64.8 373.4,68.8 371.1,70.2ZM353.0,68.8 352.7,69.1 352.3,68.6 352.0,66.8 350.5,66.2 351.7,65.1 352.3,65.5 352.8,66.8 353.0,68.8ZM389.8,71.2 389.3,71.3 386.7,69.5 388.3,68.2 386.8,66.2 387.0,65.1 388.8,65.8 390.0,67.2 390.4,68.5 389.8,71.2ZM302.5,72.8 300.3,73.0 299.8,70.5 297.4,68.8 298.4,66.5 300.7,65.6 303.0,66.9 306.0,65.6 307.3,65.8 307.9,67.2 307.6,69.2 305.3,70.0 303.6,72.2 302.5,72.8ZM318.8,72.8 318.1,72.8 317.8,72.2 318.4,69.8 317.5,66.2 319.0,65.7 323.3,65.9 324.7,67.8 324.1,69.2 324.4,71.2 324.0,72.0 323.3,72.5 320.3,71.5 318.8,72.8ZM340.7,72.2 339.7,72.4 336.7,69.5 336.4,68.5 337.4,66.2 338.7,65.7 343.7,65.7 344.7,66.1 345.8,67.5 345.7,68.1 343.7,68.7 340.7,72.2ZM356.7,70.8 356.0,71.1 354.7,70.7 354.1,69.5 354.3,68.4 355.6,67.5 357.7,67.1 359.0,66.0 359.7,65.9 360.7,66.7 361.0,69.9 360.0,70.2 357.7,69.8 356.7,70.8ZM286.4,67.5 284.7,67.6 283.2,66.5 286.7,66.5 286.4,67.5ZM316.6,73.2 315.3,72.9 315.0,70.9 314.0,69.8 314.9,67.2 315.7,66.7 316.7,67.2 317.3,69.5 316.6,73.2ZM394.3,73.2 392.3,73.3 391.2,72.2 391.1,70.5 391.9,69.2 391.8,67.2 393.0,66.6 397.3,67.2 398.1,68.5 395.6,68.8 394.7,72.8 394.3,73.2ZM326.5,69.2 325.7,68.8 326.0,67.1 326.9,67.8 326.9,68.8 326.5,69.2ZM294.6,69.5 292.3,69.4 291.8,68.5 292.0,67.4 294.0,67.9 294.6,69.5ZM335.2,73.5 331.9,72.5 331.3,70.3 329.4,68.8 329.7,67.9 332.7,67.2 334.7,68.2 336.2,71.2 335.6,71.8 335.2,73.5ZM289.7,72.2 288.0,71.9 286.7,70.5 287.0,68.8 288.0,67.7 289.7,67.8 288.8,69.8 289.7,72.2ZM385.1,71.5 383.3,71.8 382.7,71.4 382.7,68.5 384.1,68.8 385.6,70.8 385.1,71.5ZM343.0,78.8 342.0,78.7 341.0,77.8 340.1,73.8 341.0,73.7 341.3,74.7 341.9,74.8 341.6,72.8 344.0,70.0 347.3,68.6 349.0,69.2 351.0,69.0 351.2,69.8 348.7,74.5 346.3,74.8 344.5,76.8 344.3,78.2 343.0,78.8ZM276.7,77.8 274.3,76.9 273.7,75.2 271.9,73.2 271.1,70.8 272.3,69.4 272.7,69.5 272.7,72.2 273.3,73.1 279.0,73.1 280.2,73.8 279.7,76.5 276.7,77.8ZM374.6,72.5 373.7,72.5 372.9,71.5 375.3,69.6 376.3,69.5 379.0,70.5 378.7,71.7 375.7,71.5 374.6,72.5ZM284.7,70.8 282.0,70.7 281.3,70.2 284.7,69.8 285.1,70.2 284.7,70.8ZM371.1,75.2 369.3,75.2 363.7,74.0 362.7,73.2 362.7,71.5 365.0,72.9 366.3,73.1 366.0,70.8 367.0,69.9 367.8,69.8 369.4,71.5 367.7,73.2 369.7,74.1 371.3,73.1 372.3,74.5 371.1,75.2ZM298.8,71.2 297.7,70.9 297.7,70.5 298.7,70.5 298.8,71.2ZM311.6,74.5 310.7,74.4 309.3,73.4 308.8,71.5 311.3,70.2 312.3,70.5 314.0,72.5 313.3,73.6 311.6,74.5ZM295.8,71.8 295.0,72.0 295.0,71.0 295.9,71.2 295.8,71.8ZM354.0,75.5 352.3,73.8 350.2,73.5 350.5,72.5 352.3,70.5 354.7,71.8 355.4,72.8 355.3,74.4 354.0,75.5ZM361.8,73.8 361.3,74.1 359.7,72.5 359.6,71.2 361.5,71.5 362.0,72.8 361.8,73.8ZM293.4,76.2 292.3,76.2 289.3,74.8 287.2,74.5 287.2,74.2 288.0,73.0 291.0,73.4 293.3,71.9 294.2,73.8 293.4,76.2ZM382.7,77.5 381.7,77.4 380.0,76.0 377.7,76.6 374.4,74.5 376.7,72.7 379.3,73.2 381.0,72.1 381.5,73.2 382.7,73.5 383.8,75.8 383.6,76.8 382.7,77.5ZM285.3,77.2 284.0,77.3 282.9,76.5 281.8,73.8 282.0,72.5 283.7,72.4 285.4,73.5 285.3,77.2ZM325.4,78.5 323.7,78.5 321.7,75.7 320.1,75.2 319.9,74.2 320.3,73.1 321.3,72.9 322.7,74.0 324.3,77.0 325.7,77.8 325.4,78.5ZM296.7,76.8 295.7,76.7 295.3,76.2 296.2,73.2 297.0,73.5 298.0,74.9 300.5,75.5 296.7,76.8ZM330.1,76.8 327.0,75.6 325.0,76.0 324.2,74.8 324.3,74.0 325.7,72.9 333.4,73.8 333.5,74.8 332.7,76.5 331.7,76.3 330.1,76.8ZM387.9,76.5 387.0,76.4 385.7,74.3 384.1,74.2 384.3,73.2 385.4,73.2 387.9,76.5ZM389.7,75.2 389.0,75.2 388.7,74.2 389.1,73.2 390.0,72.9 391.1,74.2 389.7,75.2ZM304.6,80.8 303.0,80.8 302.4,78.2 301.2,76.8 303.0,74.2 306.3,73.7 312.1,77.2 312.0,77.8 310.7,78.6 306.3,78.7 304.6,80.8ZM360.6,81.5 359.7,81.7 357.0,78.8 353.2,78.5 353.3,77.2 356.0,75.2 356.7,73.8 357.4,74.2 358.6,77.5 360.3,78.5 360.6,81.5ZM317.2,78.5 316.3,78.7 314.7,77.8 312.8,75.2 314.3,74.3 318.7,74.2 319.0,76.2 317.2,78.5ZM351.7,79.2 351.0,79.2 349.7,78.3 347.3,79.5 346.3,78.8 345.9,77.8 347.3,76.1 351.3,74.5 352.2,75.2 352.6,76.5 352.4,78.5 351.7,79.2ZM339.9,79.2 339.3,79.5 338.9,79.2 339.3,76.8 339.0,74.8 339.8,76.2 340.2,78.5 339.9,79.2ZM335.9,78.8 334.5,78.5 334.0,76.8 335.0,75.5 336.7,75.1 337.4,75.5 337.8,76.5 335.9,78.8ZM369.6,79.5 367.7,79.4 365.7,77.0 364.3,77.6 363.3,77.5 362.7,76.5 363.0,75.1 365.7,75.1 370.0,76.2 372.8,75.8 373.0,76.8 372.3,78.5 371.0,79.4 369.6,79.5ZM290.2,79.5 288.7,79.6 286.3,78.7 287.0,75.7 288.3,75.2 289.6,75.8 290.2,79.5ZM390.8,81.8 389.6,81.5 389.0,80.2 389.6,77.8 391.0,75.6 391.7,75.4 392.8,77.8 394.7,79.5 394.8,80.2 390.8,81.8ZM361.5,76.8 361.1,76.8 361.3,76.1 361.7,76.2 361.5,76.8ZM374.4,79.8 373.4,79.8 373.5,78.8 374.3,76.2 374.7,76.0 376.0,76.4 376.6,77.2 374.4,79.8ZM327.7,80.8 326.7,81.0 325.7,79.8 326.7,79.0 327.3,77.4 328.0,77.1 331.1,77.8 331.0,78.4 328.3,78.9 327.7,80.8ZM381.9,83.8 380.3,83.7 378.0,82.2 379.0,77.8 382.3,78.7 385.3,77.2 388.7,77.3 387.7,79.6 388.0,81.6 385.3,81.6 381.9,83.8ZM293.4,79.8 292.0,79.5 291.6,78.5 292.0,77.9 294.6,78.2 294.6,78.8 293.4,79.8ZM279.9,81.8 279.3,82.1 277.7,81.1 275.3,81.3 274.9,80.8 275.0,79.4 279.3,77.8 279.9,81.8ZM321.8,83.5 320.0,83.4 317.4,81.2 317.7,79.9 319.3,78.0 322.0,78.6 325.5,81.2 325.0,82.0 323.1,82.5 321.8,83.5ZM300.7,84.8 299.7,84.8 298.7,83.0 297.0,83.1 296.3,82.5 295.0,80.5 295.7,78.8 297.3,78.3 297.5,79.5 298.0,79.7 300.0,78.4 301.3,78.5 302.0,81.5 303.2,82.8 300.7,84.8ZM315.8,81.5 313.9,81.5 312.7,79.5 313.3,78.5 316.3,79.7 315.8,81.5ZM283.2,82.8 281.7,82.7 281.8,80.8 283.7,79.0 285.0,78.9 286.3,80.2 286.3,81.4 285.3,81.9 284.7,81.0 284.0,80.9 283.7,82.5 283.2,82.8ZM333.6,83.5 328.6,82.2 329.0,79.5 330.7,79.5 331.8,81.2 333.7,82.5 333.6,83.5ZM369.1,82.2 368.3,82.3 366.7,81.4 365.0,81.5 362.3,79.8 366.0,79.2 369.1,82.2ZM308.4,86.5 307.3,86.4 306.6,85.5 306.7,80.9 307.0,80.5 308.3,80.7 309.7,79.7 311.0,79.6 312.6,81.5 309.6,83.5 308.4,86.5ZM356.2,89.5 355.2,88.8 355.5,87.5 355.1,85.5 355.8,82.5 353.9,80.2 354.3,79.7 355.7,79.8 356.5,80.5 357.6,84.5 363.0,85.3 364.0,86.5 363.7,87.0 361.0,86.5 360.3,87.1 360.0,88.6 356.2,89.5ZM342.6,86.5 342.0,86.8 341.7,86.5 341.0,84.6 339.7,83.2 337.7,82.7 335.3,82.9 335.6,81.2 336.3,80.8 342.3,80.2 343.5,83.8 342.6,86.5ZM291.7,84.5 286.6,83.5 288.3,80.2 291.8,81.2 291.7,84.5ZM299.3,82.5 300.3,82.0 300.3,80.7 299.3,81.2 299.3,82.5ZM377.7,87.2 376.7,87.1 373.3,84.9 372.0,84.6 371.1,83.2 371.7,81.2 372.7,80.7 374.0,81.1 373.9,82.5 377.3,85.9 377.7,87.2ZM375.8,81.2 375.4,81.2 375.8,81.2ZM353.1,88.8 351.7,89.1 350.4,88.2 350.5,87.2 350.1,86.8 348.3,86.3 346.0,86.6 345.2,86.2 345.0,85.5 346.3,84.5 348.0,84.5 349.3,82.1 353.3,81.6 354.5,83.2 354.5,87.5 354.0,88.5 353.1,88.8ZM278.9,89.8 278.3,90.0 276.9,86.8 274.9,85.2 274.3,82.1 277.3,82.8 276.7,84.5 278.3,85.5 279.7,85.2 281.7,84.0 285.0,83.8 284.7,85.4 283.0,85.8 278.9,89.8ZM361.6,83.8 358.7,83.9 358.2,83.5 358.2,82.5 358.7,82.2 360.3,82.6 362.0,81.9 361.6,83.8ZM368.4,87.5 365.2,85.8 363.3,82.8 363.3,82.1 365.3,82.8 367.0,82.7 369.7,84.4 369.4,86.8 368.4,87.5ZM379.0,85.5 378.7,85.6 377.3,83.9 375.3,82.7 377.6,83.5 379.0,84.8 379.0,85.5ZM385.9,90.2 384.3,90.2 381.7,88.7 379.0,89.3 378.5,87.2 385.7,82.6 385.9,83.2 385.1,86.8 386.3,89.2 385.9,90.2ZM326.1,91.2 325.3,91.4 324.7,90.3 323.3,89.7 321.7,87.2 322.9,85.5 322.8,83.8 323.3,83.3 326.6,85.2 326.5,86.8 325.8,87.8 326.3,89.5 326.1,91.2ZM387.7,88.8 387.0,88.7 386.0,86.8 387.0,84.0 387.7,83.5 391.0,83.3 391.4,84.2 391.2,86.2 392.0,88.1 390.0,87.8 387.7,88.8ZM301.7,89.5 300.7,89.7 299.9,89.2 299.0,87.2 299.2,86.2 302.3,85.5 305.3,83.8 305.9,86.8 301.7,89.5ZM332.8,85.5 331.7,85.5 330.8,84.2 332.0,83.9 332.9,84.8 332.8,85.5ZM336.0,86.8 335.3,86.1 334.0,85.9 333.9,84.8 336.3,83.7 337.6,83.8 337.8,84.2 336.0,86.8ZM296.9,88.2 295.6,87.8 294.7,85.5 297.0,84.1 297.9,84.5 298.4,85.5 296.9,88.2ZM314.1,84.5 313.5,84.2 313.7,83.9 314.1,84.5ZM393.8,85.8 392.6,85.2 393.0,83.9 394.0,85.0 393.8,85.8ZM288.2,88.8 287.3,89.2 286.7,88.8 286.6,87.5 287.7,87.1 289.0,85.4 290.3,85.4 289.3,87.8 288.2,88.8ZM318.0,92.8 317.1,92.5 317.8,89.8 317.5,88.8 314.9,86.8 314.7,85.7 318.3,85.2 319.1,85.5 320.4,89.2 319.8,91.5 320.1,92.2 320.0,92.5 318.0,92.8ZM271.8,88.8 270.7,89.1 270.4,87.5 271.7,86.4 273.3,86.3 273.4,87.5 271.8,88.8ZM285.1,88.2 284.1,87.2 284.7,86.2 285.5,87.2 285.1,88.2ZM312.0,91.8 310.8,91.5 312.0,90.5 310.5,87.8 313.0,86.5 315.4,88.5 316.5,90.2 316.5,91.2 315.7,91.6 314.0,89.7 312.0,91.8ZM331.2,89.8 329.7,89.9 329.6,88.5 330.7,87.1 332.5,86.8 332.7,89.5 331.2,89.8ZM309.5,92.5 309.0,92.4 307.6,89.8 308.3,87.5 309.3,87.7 310.2,89.5 309.5,92.5ZM374.7,92.5 373.0,92.3 371.2,90.5 370.6,89.2 371.0,87.4 371.9,87.5 372.7,89.5 375.0,90.1 377.0,91.2 377.0,92.2 374.7,92.5ZM346.3,90.8 345.0,90.9 344.0,90.5 344.3,87.6 346.9,89.8 347.0,90.5 346.3,90.8ZM279.3,93.2 278.6,92.5 279.8,90.2 282.7,87.9 283.3,88.2 284.3,90.0 286.0,89.4 287.0,89.9 288.8,92.2 285.7,93.1 282.3,92.0 279.3,93.2ZM306.3,90.5 305.7,90.2 305.2,88.8 306.7,88.1 306.3,90.5ZM368.6,91.8 367.3,92.0 366.3,91.2 365.6,89.8 366.0,88.2 368.2,89.2 369.0,91.2 368.6,91.8ZM396.9,89.8 395.1,89.8 395.0,88.7 398.0,87.9 398.2,88.8 396.9,89.8ZM293.5,91.8 292.0,92.0 289.7,91.3 288.4,90.2 289.0,89.8 292.0,90.2 293.7,88.3 294.7,89.5 294.2,91.2 293.5,91.8ZM297.5,92.5 296.7,92.8 296.0,92.3 295.6,90.2 296.0,89.4 298.3,88.6 299.2,90.5 297.5,92.5ZM393.4,94.5 390.3,93.8 389.5,93.2 388.8,92.2 388.4,89.2 390.0,89.1 391.7,90.9 394.0,90.4 395.6,91.2 395.1,93.8 393.4,94.5ZM339.7,96.5 339.0,96.7 337.2,95.5 338.7,92.7 340.4,91.5 338.9,90.2 339.7,89.3 343.0,90.2 343.2,90.8 339.7,96.5ZM303.0,97.8 301.0,97.9 298.8,95.5 298.6,94.8 298.9,93.2 299.8,91.5 303.3,89.8 304.1,90.2 306.2,92.8 306.4,95.5 305.0,97.5 303.0,97.8ZM352.8,93.2 350.5,93.2 350.2,91.5 352.3,91.1 353.3,89.8 354.0,89.7 354.5,90.2 354.4,91.8 352.8,93.2ZM359.5,93.5 359.0,93.7 358.1,92.8 356.9,90.8 357.0,90.2 359.0,89.9 360.4,91.5 360.6,92.2 359.5,93.5ZM363.3,91.8 362.7,92.0 361.9,91.5 362.3,89.9 363.9,90.5 363.3,91.8ZM386.3,95.2 380.3,94.4 378.0,92.2 380.0,91.2 381.0,89.7 382.0,89.7 387.4,92.2 388.1,94.2 386.3,95.2ZM334.8,94.2 332.7,92.4 330.8,91.8 331.0,91.2 334.3,90.6 335.0,92.2 334.8,94.2ZM336.6,93.8 335.9,93.5 336.0,91.1 337.4,91.5 336.6,93.8ZM345.7,95.5 342.6,94.2 343.6,91.8 344.7,91.4 348.7,91.9 349.5,92.8 349.3,93.9 345.7,95.5ZM365.7,95.5 364.7,94.7 362.3,94.8 361.9,94.2 364.7,91.8 365.3,91.7 365.9,92.8 365.7,95.5ZM314.1,95.5 311.0,92.8 314.3,92.0 316.0,92.8 316.0,94.1 314.3,94.8 314.1,95.5ZM327.9,96.8 326.0,96.3 323.0,93.5 322.8,92.8 324.7,92.4 327.0,93.1 328.1,95.2 327.9,96.8ZM294.6,94.2 293.2,94.2 292.8,93.2 294.3,93.3 294.6,94.2ZM369.8,99.2 369.3,99.4 367.0,97.7 366.5,96.5 366.8,95.5 367.3,94.3 369.7,94.4 372.0,93.0 372.5,94.2 369.8,99.2ZM320.1,100.8 319.3,100.8 318.0,97.9 315.7,98.1 315.2,97.5 317.9,93.8 318.7,93.5 321.3,94.0 323.5,96.2 320.1,100.8ZM329.8,94.8 329.0,95.1 328.8,94.8 329.0,93.3 329.6,93.5 329.8,94.8ZM359.0,102.2 357.7,102.1 357.4,100.2 356.7,99.2 353.9,99.5 354.6,96.2 353.5,94.5 354.0,93.6 354.7,93.5 356.4,94.8 360.0,95.9 362.0,97.4 364.7,97.4 365.5,97.8 365.0,99.3 360.0,99.0 359.0,102.2ZM374.3,100.8 373.0,101.0 371.6,99.8 371.8,96.5 374.0,93.9 377.3,93.4 378.5,94.5 379.1,96.2 378.3,99.6 375.7,99.2 374.3,100.8ZM309.0,98.2 308.3,97.9 307.4,95.2 309.7,93.9 310.7,93.9 311.4,95.2 309.9,96.2 309.0,98.2ZM282.1,95.5 280.0,94.6 278.7,94.6 278.4,94.2 281.0,93.9 282.1,95.5ZM285.7,99.5 284.4,98.2 284.2,94.8 285.3,94.2 286.2,95.2 285.7,99.5ZM332.4,96.2 331.3,96.2 330.4,94.8 332.7,94.7 332.9,95.2 332.4,96.2ZM353.1,98.5 352.6,98.5 352.1,96.8 350.9,95.8 352.3,94.3 353.4,97.5 353.1,98.5ZM394.3,95.5 393.1,95.5 394.0,95.1 394.3,95.5ZM276.3,98.5 275.7,98.8 274.0,98.5 274.2,95.8 277.0,95.4 277.2,96.5 276.3,98.5ZM383.4,96.5 381.7,96.8 380.8,96.2 382.0,95.5 383.0,95.8 383.4,96.5ZM286.7,101.8 286.2,101.2 287.0,98.2 289.3,96.0 294.3,96.6 296.0,95.8 296.7,96.2 296.7,97.5 294.7,98.6 293.0,98.1 290.8,98.2 290.6,98.8 291.6,100.5 291.0,101.3 288.7,101.2 286.7,101.8ZM331.4,100.5 331.0,100.6 330.4,99.5 330.7,97.8 333.3,97.5 334.0,95.7 335.0,95.7 335.8,96.8 335.4,97.8 334.7,98.5 332.3,99.3 331.4,100.5ZM348.6,100.2 347.7,100.3 345.7,99.3 341.3,98.6 341.4,96.5 342.0,95.8 343.0,95.7 347.3,98.7 348.7,97.5 350.0,97.3 350.3,98.5 348.6,100.2ZM391.8,99.5 390.7,99.7 387.0,98.8 384.7,96.8 384.6,96.2 388.3,96.4 390.7,98.6 391.3,98.4 392.7,96.8 394.1,96.5 394.2,97.2 392.8,97.8 391.8,99.5ZM281.3,101.8 279.7,101.8 278.6,100.8 279.1,98.5 278.7,96.5 279.7,96.3 280.8,96.8 282.2,99.2 284.3,100.2 285.1,101.2 284.7,101.8 283.0,101.3 281.3,101.8ZM314.2,99.2 312.3,99.2 311.5,97.5 312.7,96.9 314.2,98.2 314.2,99.2ZM322.8,104.5 322.2,104.5 320.9,101.8 322.0,99.6 325.3,96.8 326.0,99.2 325.0,100.3 323.6,100.5 322.8,104.5ZM304.0,101.8 302.3,101.7 298.8,99.8 298.2,98.2 299.0,97.7 300.3,98.6 303.9,99.2 305.3,99.9 307.0,99.3 307.7,99.5 306.7,101.4 304.0,101.8ZM337.6,101.8 336.7,102.0 332.7,100.9 332.5,100.5 333.0,99.8 335.3,99.3 338.0,97.5 338.9,99.2 337.6,101.8ZM382.2,105.8 380.7,106.0 377.8,104.2 376.3,100.8 377.0,100.6 379.0,101.7 381.5,100.8 382.2,100.2 382.4,98.2 383.0,97.8 383.7,98.8 382.0,102.8 382.2,105.8ZM330.7,101.5 328.3,101.7 326.8,101.2 326.4,100.5 327.0,98.5 329.0,98.3 329.3,100.2 330.7,101.5ZM316.7,107.2 314.1,105.8 314.0,103.5 312.9,101.2 313.7,100.0 317.3,99.1 318.7,101.8 320.4,103.5 320.6,104.8 319.0,105.0 316.7,107.2ZM301.6,105.2 300.7,105.1 299.6,103.2 298.7,102.6 293.0,104.3 288.1,102.5 289.0,101.9 291.7,102.4 293.7,99.5 299.7,101.1 302.7,102.9 302.8,104.2 301.6,105.2ZM342.2,100.8 341.5,100.8 341.2,100.2 342.3,99.8 342.6,100.2 342.2,100.8ZM363.2,104.2 362.0,104.4 358.2,103.5 360.0,102.7 360.8,101.5 361.0,100.1 362.3,99.7 363.3,100.5 363.7,103.5 363.2,104.2ZM388.0,105.5 387.3,105.7 386.2,104.5 384.4,100.8 386.0,101.0 389.3,100.2 392.0,100.5 393.3,99.6 393.8,101.8 390.0,101.9 388.7,102.4 388.0,103.5 388.0,105.5ZM277.8,105.5 275.3,105.4 274.9,104.8 275.6,101.8 275.1,100.5 275.3,99.8 276.7,100.2 278.7,102.0 280.7,103.0 281.3,103.0 282.7,102.0 283.2,102.2 281.7,104.4 279.3,104.4 277.8,105.5ZM346.3,107.2 345.3,107.5 343.3,107.0 339.3,107.1 338.7,106.5 338.5,104.8 337.7,103.5 339.7,103.2 341.7,104.6 343.5,103.5 345.3,100.9 346.3,100.9 348.0,102.3 351.0,100.1 351.5,100.8 351.1,102.2 347.3,104.8 346.3,107.2ZM354.7,106.8 352.5,103.2 352.7,100.2 353.7,100.7 355.7,100.3 356.2,100.8 355.2,104.8 355.3,106.2 354.7,106.8ZM368.1,104.5 367.0,104.6 364.7,102.5 365.1,101.8 367.7,100.2 368.7,100.7 369.1,101.8 368.1,104.5ZM372.6,104.2 372.0,104.5 371.0,103.3 370.0,103.2 370.0,100.8 371.4,101.8 372.6,104.2ZM306.4,106.5 305.7,106.2 304.0,103.2 304.7,102.9 306.7,104.6 308.7,100.9 309.1,101.5 308.8,104.2 306.4,106.5ZM310.6,108.5 309.3,108.6 307.3,107.2 310.2,104.5 310.2,101.5 310.7,101.0 312.9,104.2 312.6,105.5 311.0,106.7 310.6,108.5ZM325.3,109.8 324.3,109.8 323.6,109.2 323.2,106.5 324.7,102.2 325.7,101.8 327.7,102.4 330.3,102.5 330.3,106.0 329.7,106.0 326.7,109.4 325.3,109.8ZM335.9,106.5 334.8,106.5 334.3,104.5 332.0,104.5 331.7,103.7 333.0,103.6 334.0,102.5 335.7,102.7 337.1,104.8 335.9,106.5ZM282.4,113.8 282.3,112.8 284.3,109.8 283.0,106.2 284.0,103.5 284.3,103.1 286.0,104.5 289.0,104.6 289.4,105.5 288.8,107.2 286.0,109.3 282.4,113.8ZM376.2,108.8 374.7,108.8 374.6,107.2 373.7,106.6 372.7,106.8 371.7,108.4 370.7,108.4 370.3,107.8 371.3,105.8 373.6,105.2 375.0,104.0 376.4,105.8 376.2,108.8ZM293.8,107.2 293.0,106.8 292.4,105.5 298.0,104.3 299.2,106.2 296.7,106.3 293.8,107.2ZM385.5,109.8 383.2,109.2 384.0,107.5 383.7,104.2 387.0,107.5 386.7,109.2 385.5,109.8ZM362.7,112.5 361.7,112.6 359.3,109.5 355.3,108.7 355.3,108.1 357.2,106.5 357.2,104.8 359.7,104.7 364.3,105.8 363.4,108.8 363.6,110.5 362.7,112.5ZM273.9,110.5 272.7,110.4 271.1,108.5 271.7,107.4 273.3,106.3 277.0,106.4 279.7,105.5 282.5,107.5 282.3,107.9 280.7,108.0 277.7,107.6 276.9,108.2 276.3,109.8 273.9,110.5ZM367.2,110.2 365.5,110.2 364.6,108.8 366.3,105.6 368.2,106.2 369.1,107.5 368.7,108.8 367.2,110.2ZM302.6,109.5 301.6,109.5 301.0,106.8 301.3,106.3 302.7,106.1 303.1,106.5 303.2,108.2 302.6,109.5ZM321.5,110.5 319.2,109.8 318.2,106.8 318.7,106.3 319.7,106.1 321.4,107.2 322.0,109.8 321.5,110.5ZM395.0,106.7 395.0,106.0 394.6,106.5 395.0,106.7ZM292.7,108.5 291.4,106.5 291.7,106.2 292.3,106.9 292.7,108.5ZM380.4,107.2 379.5,107.2 379.3,106.5 380.0,106.6 380.4,107.2ZM313.8,111.2 313.0,111.3 312.0,110.0 309.8,109.8 311.8,109.2 312.3,107.5 313.0,107.0 315.3,108.2 314.7,110.2 313.8,111.2ZM299.4,110.2 297.0,110.0 295.0,110.4 294.5,108.5 297.3,107.3 300.3,107.9 300.7,108.8 299.4,110.2ZM291.0,113.5 289.3,113.6 287.8,111.8 286.1,111.2 286.7,109.8 290.3,107.7 291.0,107.9 292.2,111.2 292.0,112.5 291.0,113.5ZM333.1,111.5 328.4,110.5 328.0,109.5 332.7,107.9 335.4,109.5 335.0,110.6 333.1,111.5ZM343.3,115.2 342.3,115.4 341.5,114.5 342.2,112.8 342.3,110.5 339.7,109.4 337.6,107.8 341.0,108.1 343.0,107.8 344.5,108.5 344.9,112.5 343.3,115.2ZM391.5,113.5 390.0,113.6 387.7,112.8 386.9,112.2 386.7,110.5 388.3,108.4 390.0,107.6 391.0,107.8 392.3,111.4 397.0,109.8 391.5,113.5ZM304.4,111.8 303.3,111.5 303.0,110.5 305.0,108.1 306.7,109.5 304.4,111.8ZM315.8,115.5 314.0,115.1 313.6,112.5 315.5,110.8 316.4,108.5 317.3,108.1 318.6,112.5 318.0,114.1 315.8,115.5ZM346.6,111.2 345.7,110.9 345.4,109.8 345.9,108.5 347.0,108.1 346.4,109.8 346.6,111.2ZM354.0,112.2 351.7,111.7 349.7,108.8 352.0,108.0 353.3,108.0 354.8,110.2 354.6,111.5 354.0,112.2ZM374.8,111.8 374.1,111.5 374.3,110.0 377.2,109.8 379.0,108.0 382.1,108.2 381.7,108.9 380.0,109.5 378.7,111.0 374.8,111.8ZM280.5,114.8 278.7,115.0 275.7,113.5 274.4,111.8 277.0,110.5 278.0,108.9 278.7,108.9 280.5,110.5 280.2,112.5 281.2,114.2 280.5,114.8ZM369.9,112.5 369.3,112.6 368.3,111.6 365.3,112.7 364.3,112.7 363.9,112.2 365.0,111.4 366.7,111.3 369.3,109.7 372.5,110.8 369.9,112.5ZM346.4,115.8 344.8,115.5 346.5,113.8 348.1,110.5 349.3,110.2 350.5,112.2 347.9,115.2 346.4,115.8ZM356.4,113.5 355.0,113.8 354.3,113.2 355.8,111.8 356.6,110.2 358.0,110.6 359.3,111.6 359.3,113.2 356.4,113.5ZM379.5,117.5 378.3,117.3 376.7,114.8 376.7,112.8 377.3,112.0 379.7,111.9 381.0,110.5 381.1,113.2 382.8,114.8 379.5,117.5ZM337.3,116.5 336.2,116.5 336.4,114.5 335.8,111.5 336.3,110.7 337.7,112.1 339.7,112.9 340.4,113.8 340.4,115.5 338.3,114.7 337.3,116.5ZM325.2,111.8 324.5,111.8 324.0,111.2 325.0,111.1 325.2,111.8ZM301.4,116.8 300.2,116.8 297.6,112.5 297.7,111.3 300.6,111.5 302.0,116.2 301.4,116.8ZM330.0,113.5 329.0,113.7 326.7,112.6 326.7,111.3 330.2,112.2 330.6,112.8 330.0,113.5ZM397.1,111.8 397.5,111.5 397.1,111.8ZM294.4,115.5 292.5,114.8 294.5,114.2 296.0,111.6 295.7,114.5 294.4,115.5ZM311.0,120.8 309.7,120.6 307.5,118.8 306.1,119.2 305.3,120.0 304.9,119.8 304.7,117.5 303.2,115.8 302.7,113.2 305.3,114.0 307.5,111.8 310.7,111.5 312.7,112.0 312.6,115.2 314.6,117.8 314.7,118.8 314.0,119.8 311.0,120.8ZM322.8,116.5 322.0,116.7 319.5,115.5 318.9,113.8 319.7,112.1 322.0,111.7 324.1,112.8 324.2,113.8 322.8,116.5ZM290.1,117.8 288.3,117.9 287.0,116.3 285.3,116.5 283.9,114.8 284.2,113.2 285.7,112.3 287.0,112.6 288.0,114.2 290.7,116.2 290.8,117.2 290.1,117.8ZM352.2,116.5 351.3,116.4 350.1,114.8 350.4,113.8 351.7,112.7 352.4,113.2 352.2,116.5ZM335.1,120.5 332.0,119.4 331.2,117.8 331.3,115.2 333.0,113.7 334.7,113.6 335.5,114.8 335.7,119.5 335.1,120.5ZM383.9,113.8 383.3,113.4 383.9,113.8ZM393.3,118.5 390.3,118.6 388.3,115.2 385.3,116.5 384.0,116.2 384.7,115.4 387.7,113.9 392.0,114.6 392.3,114.8 392.1,116.8 392.7,117.2 394.3,116.8 394.1,117.8 393.3,118.5ZM356.8,116.8 356.3,117.1 354.2,116.5 354.2,115.5 355.3,114.4 356.3,114.4 356.8,116.8ZM364.7,125.2 362.3,124.9 361.3,123.6 359.5,123.5 359.6,122.2 360.9,120.2 359.5,117.2 357.7,114.8 358.0,114.5 361.3,115.1 364.3,114.3 367.4,116.8 367.4,117.8 365.3,119.2 364.2,121.5 362.0,123.2 363.0,124.3 364.3,123.1 365.3,123.3 365.9,124.5 364.7,125.2ZM369.0,116.2 368.7,116.5 368.4,115.8 369.0,115.0 369.0,116.2ZM373.3,116.5 370.6,115.5 371.0,115.1 372.7,115.6 373.3,116.5ZM375.5,121.2 373.7,121.2 372.7,119.5 373.0,118.6 374.3,118.5 375.0,116.7 376.0,115.8 376.4,116.2 376.4,118.8 375.5,121.2ZM283.5,118.8 282.7,119.1 281.0,118.1 279.0,117.6 277.9,116.5 283.7,116.1 284.3,117.2 283.5,118.8ZM295.4,119.5 294.7,119.6 293.8,118.8 292.7,116.4 295.7,116.3 297.6,117.2 295.8,118.2 295.4,119.5ZM318.9,128.5 317.0,128.8 312.7,128.2 312.1,127.2 312.6,126.2 315.6,123.8 315.5,119.5 318.0,116.2 319.0,117.2 320.7,117.4 320.4,119.5 322.7,121.8 319.5,124.5 319.2,125.5 319.9,127.8 318.9,128.5ZM328.4,121.2 327.8,120.8 327.1,118.8 325.3,117.2 324.4,116.8 327.0,116.5 328.7,117.5 330.7,120.5 328.4,121.2ZM383.9,123.2 382.5,123.2 382.4,121.2 380.8,118.8 381.0,117.5 382.3,116.5 383.2,117.5 383.3,119.1 385.3,121.2 385.1,122.2 383.9,123.2ZM340.3,122.8 339.3,123.0 338.7,121.6 336.6,121.2 336.5,118.2 337.0,117.8 339.1,118.2 340.6,116.8 341.7,116.7 342.6,117.8 342.5,120.8 340.3,122.8ZM346.8,118.5 344.0,117.6 343.4,116.8 345.3,116.7 346.7,117.1 347.2,117.8 346.8,118.5ZM370.4,123.2 370.0,123.5 366.4,121.8 366.8,120.8 369.0,119.8 369.7,117.0 371.2,118.8 370.4,123.2ZM285.9,122.8 285.0,123.0 283.7,121.8 281.4,120.8 286.3,117.2 288.3,118.5 290.3,118.6 290.0,120.4 285.9,122.8ZM300.3,124.5 299.3,124.5 297.0,122.1 296.9,119.2 297.7,118.8 302.0,118.5 303.3,117.7 303.3,119.2 304.2,121.5 303.7,122.1 301.3,122.7 300.3,124.5ZM327.1,123.8 326.0,124.0 321.8,119.5 321.5,118.8 322.1,117.8 324.3,118.0 327.2,123.2 327.1,123.8ZM353.3,125.5 352.7,125.7 350.7,125.1 348.7,123.5 348.3,122.5 349.3,119.7 353.0,117.7 354.3,117.6 356.3,118.8 358.3,119.4 359.1,120.8 358.3,123.1 357.7,123.3 356.7,122.8 356.3,121.2 355.0,120.2 353.7,120.1 352.0,120.8 351.1,122.5 353.3,125.5ZM334.0,119.2 334.6,118.5 334.0,118.1 333.5,118.8 334.0,119.2ZM349.7,118.5 349.0,118.6 348.9,118.2 349.7,118.0 349.7,118.5ZM389.4,119.8 388.5,119.5 388.7,118.2 389.6,119.2 389.4,119.8ZM346.9,123.5 346.3,123.5 343.5,120.5 343.3,119.8 343.7,119.0 348.3,119.8 346.9,123.5ZM379.2,122.5 376.6,121.5 377.7,119.9 378.3,119.8 379.1,120.5 379.2,122.5ZM395.3,123.8 393.0,123.9 392.1,123.5 392.3,120.5 394.3,119.7 396.4,119.8 396.3,120.8 395.0,121.8 396.0,122.8 395.3,123.8ZM276.8,126.2 275.0,124.2 275.3,121.5 276.3,120.9 278.0,121.3 279.0,120.5 280.6,122.8 280.4,123.5 278.7,124.3 276.8,126.2ZM291.7,126.8 290.3,126.7 288.7,125.6 284.7,125.9 283.6,125.2 283.1,124.2 283.3,123.8 285.7,124.9 288.7,123.1 291.0,123.5 291.7,121.1 293.0,120.5 294.7,120.9 295.2,121.5 295.0,122.8 295.7,124.5 291.7,126.8ZM303.1,128.2 302.3,128.0 302.1,127.5 303.2,125.5 303.3,124.0 306.0,123.5 305.7,121.3 308.0,121.9 310.6,124.2 310.3,124.8 308.7,125.7 305.1,126.2 303.1,128.2ZM313.9,124.2 313.3,124.3 311.4,122.5 311.3,121.8 312.7,121.3 314.3,121.7 314.4,123.2 313.9,124.2ZM354.8,122.8 353.3,123.1 352.9,122.5 354.7,121.3 355.3,121.8 354.8,122.8ZM373.1,123.5 372.1,123.5 372.0,121.6 373.9,122.5 373.8,123.2 373.1,123.5ZM334.4,123.8 334.0,124.0 333.3,123.1 330.0,121.8 334.3,121.6 334.7,122.2 334.4,123.8ZM338.1,124.5 337.3,124.8 336.3,123.7 335.7,123.8 335.3,121.8 337.7,123.0 338.1,124.5ZM340.4,125.5 339.7,125.8 339.3,125.2 340.7,123.4 342.7,122.3 344.1,122.8 343.3,124.1 341.3,124.4 340.4,125.5ZM387.7,126.8 386.7,127.0 386.6,125.8 385.0,124.6 385.1,123.8 386.7,122.7 390.7,122.9 391.0,123.8 389.4,126.2 387.7,126.8ZM385.3,128.8 384.7,129.0 383.0,127.8 378.3,125.9 377.1,123.2 378.0,123.1 380.3,124.4 383.0,124.6 384.6,126.5 385.3,128.8ZM324.3,133.2 323.7,133.3 323.3,132.8 321.6,129.5 321.3,127.2 320.2,125.5 320.4,124.5 322.0,123.5 324.7,124.0 325.8,126.2 326.7,126.8 327.7,127.2 329.0,126.8 329.4,127.2 329.3,127.8 327.9,128.5 328.5,130.5 328.2,131.2 324.3,133.2ZM331.1,126.5 330.7,126.6 330.2,125.5 328.7,124.9 329.3,123.4 331.3,123.4 332.5,123.8 332.6,124.5 331.1,126.5ZM376.1,127.5 374.3,126.8 371.3,127.6 370.9,127.2 373.0,124.9 375.0,124.3 376.0,123.5 376.8,125.5 376.1,127.5ZM367.6,125.2 367.0,125.2 366.8,124.8 367.7,123.9 368.1,124.5 367.6,125.2ZM370.2,124.8 369.9,124.8 370.3,123.9 370.2,124.8ZM393.7,128.8 392.3,128.5 395.7,126.0 397.0,124.4 398.0,124.3 397.3,126.1 393.7,128.8ZM356.8,125.8 355.4,125.8 355.2,124.8 356.0,124.3 357.7,124.4 357.8,124.8 356.8,125.8ZM298.1,130.8 297.0,130.5 295.9,128.8 296.2,125.8 297.3,124.9 300.3,126.6 301.2,128.5 303.2,129.2 302.0,130.6 300.0,130.0 298.1,130.8ZM361.4,129.2 360.0,129.4 357.5,128.5 357.6,126.5 358.7,125.1 360.0,125.0 361.3,126.2 361.4,129.2ZM274.4,129.5 272.8,128.5 272.2,127.5 274.3,125.5 275.0,126.2 274.0,127.8 274.4,129.5ZM280.8,131.8 277.3,131.9 276.1,129.5 276.3,128.7 279.3,125.6 281.4,127.2 282.6,128.8 280.8,131.8ZM334.9,130.5 332.3,130.0 330.9,128.8 331.0,127.9 333.3,125.6 335.7,126.7 336.7,128.2 336.6,128.8 334.9,130.5ZM349.2,135.5 347.7,135.5 346.7,133.9 343.7,134.6 342.7,134.2 343.1,131.2 344.3,127.7 345.7,127.5 347.3,126.2 349.0,125.7 355.0,127.7 356.4,129.8 359.4,130.5 358.9,131.2 356.7,131.8 355.3,133.2 353.7,133.4 349.2,135.5ZM365.6,132.2 364.0,132.3 361.6,130.8 361.3,130.3 363.3,129.0 363.5,127.5 364.0,127.0 368.7,125.8 369.2,127.2 366.1,129.8 365.6,132.2ZM284.9,129.5 284.3,129.5 283.3,127.2 286.3,126.3 287.7,126.5 287.8,127.2 286.5,127.8 284.9,129.5ZM310.4,131.5 309.0,131.6 307.3,129.6 305.7,129.6 306.5,126.8 308.0,126.4 310.3,127.4 310.8,130.5 310.4,131.5ZM338.1,127.8 337.3,126.5 338.1,127.8ZM292.7,130.2 291.3,130.3 289.3,129.7 288.7,128.8 288.8,127.8 289.3,127.5 291.0,128.1 293.3,127.9 293.5,129.2 292.7,130.2ZM341.7,134.2 341.2,134.2 338.6,131.2 339.7,128.0 342.7,127.7 343.2,128.5 343.0,129.3 341.4,130.5 341.7,134.2ZM391.4,132.5 390.3,132.6 389.9,132.2 389.1,128.2 389.3,127.7 392.3,129.7 395.7,129.1 396.7,129.5 395.3,130.9 391.4,132.5ZM387.7,134.2 387.0,134.1 384.0,131.2 386.3,130.5 387.2,128.5 388.0,127.9 388.6,129.8 388.8,133.5 387.7,134.2ZM369.9,133.2 368.0,132.7 367.0,130.8 367.2,129.8 369.0,128.3 370.7,129.0 372.0,128.9 373.2,130.5 375.6,131.5 375.3,132.0 369.9,133.2ZM378.5,131.5 377.3,131.5 377.0,130.8 381.0,128.7 382.0,128.7 383.2,129.5 382.7,130.5 381.0,130.4 378.5,131.5ZM316.0,134.5 314.7,134.2 312.0,131.5 312.0,130.5 313.0,129.6 314.3,129.3 316.7,130.2 320.3,130.2 322.2,132.2 322.2,133.2 321.7,133.6 318.7,132.3 316.0,134.5ZM329.6,135.8 329.0,135.9 328.5,135.2 328.5,133.2 330.2,131.5 329.7,130.2 330.0,130.0 332.9,131.5 333.8,133.2 330.8,134.2 329.6,135.8ZM305.2,136.5 305.0,136.8 304.7,136.6 302.8,133.2 303.0,131.5 303.7,130.3 304.2,130.5 305.2,132.8 305.2,136.5ZM298.2,135.8 297.7,135.8 296.8,134.8 295.8,131.8 296.3,131.4 297.7,132.1 299.7,130.8 300.3,130.8 300.7,131.5 299.8,134.5 298.2,135.8ZM288.7,136.5 287.7,136.4 286.7,134.2 285.8,133.5 282.3,134.3 281.5,132.8 281.9,131.5 282.7,131.0 286.3,131.1 288.7,131.9 290.0,131.8 291.3,132.7 291.8,133.5 291.6,134.5 288.7,136.5ZM337.4,131.5 336.8,131.5 337.3,130.9 337.4,131.5ZM313.0,138.2 312.0,138.2 311.5,136.8 309.7,135.7 307.0,136.5 307.0,131.6 308.3,133.4 311.0,132.6 312.4,133.5 313.4,135.2 313.0,138.2ZM366.5,136.8 365.0,136.6 363.0,135.5 361.3,136.0 360.7,132.1 362.0,132.0 365.3,133.9 367.3,134.1 368.1,135.5 366.5,136.8ZM279.1,143.5 278.0,143.6 276.7,142.9 276.1,140.8 274.6,139.2 274.8,138.5 277.4,136.8 276.3,133.1 280.0,132.9 281.7,135.2 284.3,135.7 285.1,136.5 284.8,137.8 282.7,139.5 282.1,141.5 280.5,142.2 279.1,143.5ZM296.7,138.2 295.0,138.2 294.0,136.6 292.9,135.8 293.2,133.8 293.9,132.8 294.7,132.7 295.3,133.2 295.6,135.5 297.1,137.5 296.7,138.2ZM377.4,136.8 376.3,136.6 375.8,135.5 375.8,133.5 376.3,132.6 378.0,133.0 379.0,134.2 377.4,136.8ZM396.8,133.8 394.0,133.3 391.9,133.5 394.3,132.8 396.7,133.2 396.8,133.8ZM322.0,140.8 321.0,140.9 319.9,140.2 318.5,137.2 318.7,136.6 323.3,134.8 326.0,133.1 327.0,133.1 327.5,133.8 327.5,135.8 329.4,137.5 329.5,138.8 327.7,140.2 325.7,139.8 322.0,140.8ZM370.1,141.2 367.3,138.8 366.9,137.8 369.0,136.1 369.7,134.2 373.4,133.2 373.9,133.5 373.6,135.2 374.7,136.4 374.7,137.2 374.0,138.2 372.0,139.3 370.1,141.2ZM385.5,137.5 383.7,136.9 381.7,134.7 380.1,133.8 379.9,133.2 381.0,132.9 385.4,133.5 385.5,137.5ZM334.0,144.2 332.3,144.2 330.3,143.0 328.3,143.4 327.6,142.2 332.0,140.2 331.6,138.5 332.6,137.8 331.0,136.4 331.3,135.2 335.0,135.1 337.3,133.3 338.2,134.2 338.2,135.2 337.7,136.0 336.3,135.8 335.5,136.5 335.5,137.5 336.5,138.5 336.7,139.5 335.7,142.5 334.0,144.2ZM303.9,138.5 302.7,138.5 301.6,136.8 302.0,133.8 303.5,135.5 304.1,137.8 303.9,138.5ZM320.0,134.5 319.0,134.5 319.3,134.1 320.0,134.5ZM341.7,137.5 339.7,136.8 340.0,134.4 341.0,135.4 343.3,136.2 343.0,136.8 341.7,137.5ZM354.2,138.5 353.0,138.4 352.9,137.2 351.6,135.5 352.0,134.9 355.3,135.6 358.3,135.7 359.1,136.2 358.3,137.1 355.3,137.6 354.2,138.5ZM346.5,141.2 345.7,141.3 342.9,138.5 344.1,137.5 345.0,135.7 346.0,135.2 348.3,139.8 347.9,140.8 346.5,141.2ZM396.5,140.5 392.6,136.5 392.3,135.7 393.7,136.5 394.5,136.2 394.7,135.4 398.5,136.2 396.9,138.5 396.5,140.5ZM317.5,136.5 316.6,136.2 316.7,135.7 318.0,135.7 317.5,136.5ZM390.0,137.5 389.3,137.8 388.3,137.3 387.9,135.8 390.3,136.2 390.0,137.5ZM316.2,142.2 315.3,142.3 311.4,139.8 314.3,139.4 314.8,137.2 315.7,136.4 317.2,137.5 318.0,138.8 316.2,142.2ZM310.8,139.2 310.3,139.3 309.3,138.5 308.6,137.5 308.8,136.8 309.7,136.7 310.2,137.2 310.8,139.2ZM364.4,138.2 362.7,138.2 360.8,137.5 363.3,136.6 365.2,137.5 364.4,138.2ZM292.2,139.5 291.3,139.7 290.0,138.8 291.0,137.1 292.2,139.5ZM296.4,139.8 294.7,139.5 296.7,139.3 299.0,137.2 300.0,137.2 299.8,137.8 296.4,139.8ZM391.0,142.8 387.7,141.7 387.2,140.8 388.0,139.6 390.0,139.5 391.7,137.1 392.9,137.8 393.5,139.2 392.6,139.8 392.0,142.2 391.0,142.8ZM350.0,141.8 348.9,141.5 349.1,139.5 348.1,137.8 348.3,137.2 350.0,137.8 351.4,139.5 351.2,140.8 350.0,141.8ZM385.7,142.5 383.0,141.0 379.7,140.2 379.1,139.2 379.3,138.0 380.7,138.3 382.7,137.8 385.3,139.1 386.8,138.8 386.6,141.8 385.7,142.5ZM359.1,146.5 358.6,146.2 358.7,144.3 356.3,144.3 352.8,140.8 352.7,140.2 353.3,140.0 355.7,141.0 356.3,140.5 356.7,138.8 358.7,138.1 360.7,139.7 363.7,140.0 360.6,142.8 359.1,146.5ZM376.8,141.5 375.7,141.7 374.9,139.5 375.2,138.5 376.0,138.0 377.2,138.5 378.1,140.5 378.0,141.2 376.8,141.5ZM304.4,141.2 303.3,141.1 303.3,140.2 306.7,138.3 307.9,138.8 308.1,139.5 307.3,140.4 304.4,141.2ZM284.7,141.2 283.3,141.2 283.2,140.2 284.0,139.2 286.0,138.7 288.2,139.5 287.3,140.7 284.7,141.2ZM369.7,144.2 368.0,143.9 366.3,142.5 365.7,139.0 366.7,139.2 369.7,144.2ZM298.8,142.2 297.5,142.2 297.5,141.2 298.3,140.2 299.7,139.3 301.1,139.8 301.3,140.5 299.1,140.8 298.8,142.2ZM341.6,144.8 341.0,144.9 338.2,142.2 337.9,141.2 338.3,139.5 340.7,140.4 342.3,139.7 344.1,140.8 344.2,141.8 342.7,142.5 341.6,144.8ZM291.6,146.8 288.7,146.5 283.2,142.5 285.0,141.8 287.3,141.9 289.3,139.9 290.0,139.8 290.9,140.8 290.6,143.5 291.8,146.2 291.6,146.8ZM309.7,145.5 308.1,143.5 309.1,141.2 310.0,140.8 312.7,141.4 313.6,142.8 313.2,144.2 309.7,145.5ZM295.7,147.5 294.3,147.6 293.8,145.8 291.9,144.5 292.3,141.1 293.3,141.2 296.0,143.3 299.5,143.5 298.7,144.9 295.7,147.5ZM325.6,147.2 323.0,147.3 318.3,144.4 317.6,144.5 316.7,146.2 316.0,146.4 315.5,145.8 315.8,144.2 317.0,142.7 319.1,141.8 322.0,142.4 325.7,141.3 326.6,142.2 327.4,145.5 327.2,146.5 325.6,147.2ZM385.8,149.2 381.7,147.5 380.0,149.3 379.0,149.2 377.0,147.7 376.2,145.8 376.3,144.6 378.3,144.2 378.9,142.5 380.0,141.8 382.7,142.1 385.0,143.5 387.3,143.3 389.7,144.8 389.8,145.5 387.8,146.8 387.5,148.2 385.8,149.2ZM302.2,149.8 301.3,149.9 301.0,148.5 299.6,146.5 299.6,145.5 302.2,142.2 305.3,142.1 306.0,144.5 307.6,146.2 306.5,148.8 304.3,148.6 302.2,149.8ZM348.2,144.8 347.2,144.5 346.3,142.5 346.7,141.9 350.0,142.8 348.2,144.8ZM280.2,144.8 279.7,145.0 279.6,144.2 280.7,142.9 281.7,142.5 281.9,142.8 280.2,144.8ZM373.6,145.8 372.7,145.5 373.7,144.7 373.7,143.8 372.7,142.8 374.0,142.3 374.7,142.8 374.8,144.2 374.3,145.4 373.6,145.8ZM394.5,144.5 392.7,144.8 390.7,144.2 394.0,142.7 395.1,143.2 395.1,144.2 394.5,144.5ZM275.6,149.5 274.0,149.6 273.4,148.8 273.2,145.5 274.3,143.4 275.4,144.2 278.0,144.8 279.2,146.2 277.7,148.8 275.6,149.5ZM336.6,144.5 335.9,144.5 336.7,143.4 337.0,143.8 336.6,144.5ZM279.9,149.8 278.7,149.6 278.5,148.8 280.9,147.2 281.3,144.5 282.7,143.8 284.0,144.1 285.0,145.5 283.9,146.8 283.7,148.9 279.9,149.8ZM355.4,151.5 354.7,151.6 354.4,151.2 354.9,146.2 353.8,144.8 354.0,143.6 356.6,145.8 357.7,147.8 357.7,148.5 356.0,150.0 355.4,151.5ZM363.1,149.8 362.0,149.9 360.7,147.5 360.4,145.8 361.3,144.7 363.3,143.8 365.0,143.8 365.7,144.5 365.0,147.2 363.9,148.2 363.1,149.8ZM329.7,146.8 329.0,146.8 328.3,145.8 328.3,145.2 329.3,144.4 330.7,144.5 332.5,145.8 332.3,146.6 330.7,146.3 329.7,146.8ZM348.6,152.2 345.7,152.3 342.7,150.6 343.0,145.8 345.0,144.9 346.6,146.5 347.7,146.8 350.5,144.5 349.2,148.2 351.2,151.5 348.6,152.2ZM397.9,152.5 395.3,152.0 394.0,149.8 393.0,149.0 389.8,148.5 391.2,145.5 396.3,145.1 398.7,145.8 399.1,147.2 397.4,148.8 398.6,151.5 397.9,152.5ZM340.8,148.8 340.3,149.1 339.9,148.5 340.0,145.5 341.3,146.2 340.8,148.8ZM373.1,152.5 371.7,152.4 366.7,147.2 366.1,146.2 366.3,145.4 369.7,145.7 370.5,147.2 372.0,148.1 374.0,147.9 372.8,150.5 373.0,151.2 374.2,151.8 373.1,152.5ZM315.0,151.2 311.3,149.6 309.3,151.0 308.3,151.0 308.1,150.2 309.2,147.2 310.3,146.0 311.3,145.8 315.0,146.7 315.4,147.5 315.5,150.2 315.0,151.2ZM334.1,153.2 332.7,153.2 331.0,152.1 329.7,152.4 329.4,150.8 330.0,149.9 331.7,148.8 334.0,148.7 336.7,145.7 337.5,146.5 338.2,149.2 336.6,150.5 335.3,152.5 334.1,153.2ZM375.1,150.2 374.7,150.4 374.2,149.8 374.8,147.2 375.3,146.7 375.9,147.8 375.1,150.2ZM353.0,151.2 352.3,151.2 350.2,149.2 350.0,148.2 350.7,147.1 353.2,147.2 352.4,148.5 353.2,150.5 353.0,151.2ZM294.4,155.2 290.7,155.3 289.8,153.5 291.7,151.5 292.3,149.2 296.3,148.2 298.0,147.3 298.6,148.5 298.3,150.8 299.4,152.5 299.8,154.2 299.3,154.6 294.4,155.2ZM290.4,151.5 289.7,151.8 289.2,151.5 288.2,148.8 288.3,148.0 289.7,147.8 290.9,148.5 290.4,151.5ZM323.9,152.2 322.7,152.3 321.8,151.8 322.1,149.8 321.7,147.9 326.0,148.1 326.7,148.6 327.2,151.5 323.9,152.2ZM285.7,152.8 284.7,153.0 283.9,152.5 285.0,148.5 286.0,148.8 286.5,149.5 285.7,152.8ZM369.1,156.8 368.3,156.7 367.3,155.3 364.6,153.2 364.6,152.5 366.3,149.1 369.3,151.5 369.1,156.8ZM319.1,153.2 318.3,153.3 316.2,151.8 317.3,149.2 319.0,149.6 320.3,149.4 320.8,149.8 319.1,153.2ZM341.1,150.5 340.3,150.8 339.6,149.8 341.0,150.1 341.1,150.5ZM274.6,151.5 273.7,151.6 273.4,150.8 276.0,149.9 277.4,150.2 277.0,150.8 274.6,151.5ZM301.7,153.8 301.3,154.1 300.8,153.8 300.5,152.2 304.0,150.0 303.7,151.8 301.7,153.8ZM307.5,160.5 306.7,160.7 305.0,159.5 302.5,154.8 303.0,153.7 305.0,152.5 306.0,150.1 307.2,152.5 307.5,156.8 309.4,157.8 307.5,160.5ZM379.2,151.8 376.3,151.5 376.0,150.5 377.0,149.8 379.0,150.5 380.3,150.3 379.2,151.8ZM312.3,154.8 309.7,154.5 308.6,152.8 308.6,152.2 311.3,150.4 312.9,150.8 314.4,152.8 312.3,154.8ZM362.0,154.8 361.0,154.3 359.0,151.7 356.7,151.5 356.7,150.8 359.7,150.3 362.0,151.7 364.3,150.5 363.3,152.5 363.2,154.2 362.0,154.8ZM379.1,159.8 377.2,159.2 377.2,155.5 376.2,153.5 376.4,152.8 379.7,152.5 382.0,150.4 385.3,150.8 387.0,150.2 389.8,150.5 390.3,154.2 389.8,155.2 387.7,156.7 383.7,156.8 380.6,156.2 379.8,156.8 379.7,158.5 379.1,159.8ZM338.2,156.2 337.3,156.0 337.0,155.2 337.5,152.8 337.3,151.5 338.7,150.7 341.7,152.4 342.2,154.2 338.2,156.2ZM280.5,155.2 280.0,155.4 278.7,154.6 277.0,154.5 277.0,153.0 278.3,151.4 282.3,150.9 282.3,151.8 280.7,153.8 280.5,155.2ZM355.7,156.8 354.7,156.8 353.2,155.5 352.7,152.1 355.7,153.4 357.7,152.5 358.7,152.8 357.8,155.5 355.7,156.8ZM272.5,157.5 272.0,157.3 271.9,156.5 273.2,155.5 275.3,152.4 275.9,154.5 272.5,157.5ZM397.3,155.2 395.3,154.8 393.7,155.4 391.7,154.8 391.5,153.5 392.0,152.7 393.0,152.3 394.7,153.3 397.3,153.8 397.7,154.5 397.3,155.2ZM312.5,158.2 311.7,158.5 311.4,157.5 315.3,152.8 316.5,153.5 316.8,154.5 315.9,155.8 316.4,157.8 314.3,157.3 312.5,158.2ZM323.6,157.8 323.0,158.1 322.8,156.2 321.2,153.2 327.0,152.8 327.5,154.2 324.0,154.6 323.6,157.8ZM376.1,156.5 375.3,156.6 373.3,155.8 371.3,156.3 370.9,155.2 374.7,152.9 376.3,155.5 376.1,156.5ZM285.8,158.2 284.7,158.0 283.9,156.5 282.5,155.2 282.7,153.8 285.0,154.0 287.6,155.5 286.3,156.8 285.8,158.2ZM332.8,156.2 330.3,155.9 329.0,155.0 328.4,153.8 330.3,154.5 333.7,154.4 333.6,155.5 332.8,156.2ZM318.5,155.5 317.7,155.5 319.7,154.4 320.4,154.5 318.5,155.5ZM336.3,158.8 334.3,158.9 333.7,158.2 334.5,155.5 335.3,154.6 336.0,155.5 336.3,158.8ZM280.4,161.2 276.4,161.2 275.3,157.2 277.0,155.4 278.3,155.4 280.0,156.7 282.0,156.4 282.5,156.8 283.4,159.8 280.4,161.2ZM293.0,162.2 290.7,162.0 289.3,161.2 289.1,160.2 292.3,156.7 293.7,156.6 296.7,155.5 298.6,155.8 300.3,159.8 299.3,160.6 297.0,161.1 293.3,160.8 293.0,162.2ZM340.5,163.2 339.3,163.4 337.7,162.8 337.4,160.2 339.6,156.2 341.0,155.5 343.6,159.8 344.9,160.8 340.5,163.2ZM302.4,157.5 301.0,156.8 301.0,156.2 302.0,156.2 302.4,157.5ZM328.8,158.5 328.2,158.5 327.7,156.0 328.7,157.1 328.8,158.5ZM389.6,159.5 388.0,159.5 387.6,158.5 388.7,158.2 391.0,156.1 392.0,155.9 392.3,157.3 389.6,159.5ZM290.2,158.2 289.3,158.5 287.0,157.8 287.7,157.3 289.7,157.6 290.7,157.0 290.2,158.2ZM330.4,158.8 329.6,158.8 330.0,157.3 330.4,158.8ZM382.7,160.5 380.7,160.8 380.0,160.2 382.3,157.7 384.3,157.7 384.3,159.2 382.7,160.5ZM394.9,161.2 394.0,161.2 393.3,159.8 394.0,159.8 394.9,161.2ZM333.6,162.8 333.0,162.9 332.9,162.5 333.7,160.9 334.3,160.5 335.3,160.8 335.3,161.3 333.6,162.8Z" fill="#767676" fill-rule="nonzero" filter="url(#soft7)"/></g>
<path d="M331.4,36.7 328.9,36.4 326.4,35.4 323.9,36.5 321.2,36.4 319.0,37.7 316.3,38.1 314.3,40.1 311.6,40.4 309.6,42.0 307.4,43.5 306.2,46.1 303.6,47.1 301.9,49.1 299.4,50.3 298.1,52.7 296.1,54.4 295.4,57.1 293.1,58.5 291.9,61.0 289.3,62.2 288.9,64.9 286.9,67.1 288.4,69.7 287.2,72.2 286.8,74.7 285.3,76.9 284.2,79.2 282.7,81.6 284.3,84.1 284.2,86.9 287.2,88.0 286.8,90.8 287.5,93.5 286.2,95.9 286.3,98.5 284.8,101.1 287.1,102.9 288.8,104.8 291.2,105.8 293.2,107.5 295.1,109.2 295.8,111.7 298.0,113.3 299.3,115.8 302.1,116.3 303.7,118.5 305.9,119.9 307.2,122.1 309.6,123.1 312.0,124.3 314.4,125.3 316.6,126.7 319.2,127.4 321.3,128.8 323.7,129.9 325.9,131.5 328.7,131.4 331.1,133.0 333.6,131.9 336.4,132.3 338.6,130.6 341.3,130.2 343.5,128.9 346.1,128.3 348.2,126.8 350.8,125.9 352.6,123.8 355.4,123.7 357.1,121.3 359.7,120.5 360.7,118.0 363.2,117.2 365.4,116.0 367.6,114.7 368.8,112.3 371.1,110.8 371.6,107.9 374.4,107.6 375.9,105.1 378.5,104.4 380.2,102.6 381.2,100.2 380.1,97.7 379.7,95.2 379.0,92.7 379.7,90.2 380.7,87.9 382.5,86.1 382.1,83.6 382.3,80.9 380.5,78.8 380.2,76.1 378.0,74.1 378.6,71.3 377.0,68.9 377.8,66.1 375.7,64.1 374.9,61.5 372.1,60.8 371.5,58.0 370.0,56.0 369.0,53.6 366.5,52.9 364.6,50.9 362.3,49.6 361.1,47.1 358.2,46.4 357.6,43.4 355.1,42.3 353.2,40.6 350.2,41.0 348.6,38.7 346.0,38.6 343.7,37.2 341.4,36.2 338.9,35.1 336.4,36.6 333.8,36.7Z" fill="none" stroke="#ff6060" stroke-width="2.4" stroke-linejoin="round" filter="url(#soft7)"/>
</g>
<g clip-path="url(#ctmR)">
<path d="M331.4,36.7 328.9,36.4 326.4,35.4 323.9,36.5 321.2,36.4 319.0,37.7 316.3,38.1 314.3,40.1 311.6,40.4 309.6,42.0 307.4,43.5 306.2,46.1 303.6,47.1 301.9,49.1 299.4,50.3 298.1,52.7 296.1,54.4 295.4,57.1 293.1,58.5 291.9,61.0 289.3,62.2 288.9,64.9 286.9,67.1 288.4,69.7 287.2,72.2 286.8,74.7 285.3,76.9 284.2,79.2 282.7,81.6 284.3,84.1 284.2,86.9 287.2,88.0 286.8,90.8 287.5,93.5 286.2,95.9 286.3,98.5 284.8,101.1 287.1,102.9 288.8,104.8 291.2,105.8 293.2,107.5 295.1,109.2 295.8,111.7 298.0,113.3 299.3,115.8 302.1,116.3 303.7,118.5 305.9,119.9 307.2,122.1 309.6,123.1 312.0,124.3 314.4,125.3 316.6,126.7 319.2,127.4 321.3,128.8 323.7,129.9 325.9,131.5 328.7,131.4 331.1,133.0 333.6,131.9 336.4,132.3 338.6,130.6 341.3,130.2 343.5,128.9 346.1,128.3 348.2,126.8 350.8,125.9 352.6,123.8 355.4,123.7 357.1,121.3 359.7,120.5 360.7,118.0 363.2,117.2 365.4,116.0 367.6,114.7 368.8,112.3 371.1,110.8 371.6,107.9 374.4,107.6 375.9,105.1 378.5,104.4 380.2,102.6 381.2,100.2 380.1,97.7 379.7,95.2 379.0,92.7 379.7,90.2 380.7,87.9 382.5,86.1 382.1,83.6 382.3,80.9 380.5,78.8 380.2,76.1 378.0,74.1 378.6,71.3 377.0,68.9 377.8,66.1 375.7,64.1 374.9,61.5 372.1,60.8 371.5,58.0 370.0,56.0 369.0,53.6 366.5,52.9 364.6,50.9 362.3,49.6 361.1,47.1 358.2,46.4 357.6,43.4 355.1,42.3 353.2,40.6 350.2,41.0 348.6,38.7 346.0,38.6 343.7,37.2 341.4,36.2 338.9,35.1 336.4,36.6 333.8,36.7Z" fill="none" stroke="#d40000" stroke-width="2.6" stroke-linejoin="round" filter="url(#soft7)"/>
</g>
<rect x="332.2" y="2.5" width="1.9" height="161.8" fill="#a6a01c"/>
<rect x="240" y="175.5" width="214.5" height="162.9" fill="#000"/>
<g clip-path="url(#cbmR)">
<rect x="240" y="175.5" width="214.5" height="162.9" fill="url(#bmg)"/>
<path d="M333.6,184.5 336.0,184.4 338.5,184.5 341.1,184.4 343.5,185.1 346.1,184.8 348.4,185.8 351.0,186.1 353.2,187.3 355.7,187.7 358.1,188.3 360.6,188.6 362.8,189.9 365.1,191.0 366.5,193.2 368.6,194.8 369.5,197.1 370.4,199.4 370.4,202.0 371.1,204.4 371.0,207.0 372.3,209.2 372.9,211.7 374.7,213.5 375.9,215.7 377.4,217.8 378.1,220.2 379.6,222.3 380.5,224.6 382.5,226.2 383.9,228.4 385.9,230.0 386.8,232.4 387.8,234.7 388.2,237.2 389.0,239.6 389.0,242.1 389.3,244.6 388.5,247.1 389.0,249.6 388.6,252.1 389.8,254.4 389.3,256.8 389.1,259.3 388.4,261.7 389.0,264.2 388.7,266.8 389.5,269.2 389.1,271.7 389.4,274.3 388.1,276.5 387.0,278.7 385.5,280.8 384.9,283.2 383.8,285.5 383.2,287.9 382.2,290.3 381.6,292.7 380.5,295.0 380.1,297.5 378.8,299.7 378.4,302.2 377.0,304.4 376.4,306.9 374.8,308.8 373.8,311.2 371.8,312.8 370.5,315.0 368.4,316.4 366.2,317.6 363.9,318.6 362.0,320.3 359.9,321.6 358.1,323.4 355.8,324.5 353.7,326.0 351.3,326.7 349.1,327.9 346.5,328.0 344.0,328.4 341.5,328.3 339.1,329.2 336.6,329.2 334.1,329.6 332.2,328.0 329.8,326.9 328.1,325.1 325.9,323.7 324.8,321.6 324.3,319.2 324.7,316.6 323.8,314.2 324.1,311.6 323.6,309.2 323.9,306.6 323.2,304.2 323.3,301.6 322.8,299.2 322.8,296.6 322.2,294.2 322.7,291.6 321.9,289.2 322.4,286.6 321.7,284.1 322.0,281.6 321.8,279.1 322.3,276.6 322.0,274.1 322.3,271.6 321.6,269.1 322.2,266.6 321.8,264.1 322.1,261.6 321.9,259.0 322.3,256.5 321.9,254.0 322.2,251.5 321.9,249.0 322.3,246.5 321.7,244.0 322.2,241.5 321.9,239.0 322.1,236.5 321.7,234.0 322.0,231.4 321.6,228.9 322.2,226.4 321.6,223.9 322.4,221.4 322.2,218.9 322.9,216.4 322.6,213.9 323.1,211.4 323.0,208.9 323.6,206.4 323.1,203.9 323.7,201.4 323.6,198.9 324.5,196.4 324.1,193.9 324.8,191.4 324.5,188.8 326.8,187.8 328.8,186.2 331.4,185.7Z" fill="none" stroke="#303030" stroke-width="4" filter="url(#soft1)"/>
<g clip-path="url(#cbmout)"><rect x="240" y="175.5" width="214.5" height="162.9" filter="url(#mottle)"/>
<g filter="url(#soft1)"><path d="M333.0,257.0 L428.0,257.0 L427.5,267.2 Z" fill="#000" fill-opacity="0.11"/><path d="M333.0,257.0 L427.5,267.2 L426.2,275.3 Z" fill="#000" fill-opacity="0.11"/><path d="M333.0,257.0 L426.2,275.3 L425.0,280.6 Z" fill="#fff" fill-opacity="0.09"/><path d="M333.0,257.0 L425.0,280.6 L422.3,289.5 Z" fill="#000" fill-opacity="0.11"/><path d="M333.0,257.0 L422.3,289.5 L418.3,298.9 Z" fill="#000" fill-opacity="0.22"/><path d="M333.0,257.0 L418.3,298.9 L415.6,304.0 Z" fill="#fff" fill-opacity="0.08"/><path d="M333.0,257.0 L415.6,304.0 L410.2,312.4 Z" fill="#fff" fill-opacity="0.09"/><path d="M333.0,257.0 L410.2,312.4 L405.2,318.7 Z" fill="#000" fill-opacity="0.16"/><path d="M333.0,257.0 L405.2,318.7 L400.8,323.5 Z" fill="#000" fill-opacity="0.11"/><path d="M333.0,257.0 L400.8,323.5 L396.9,327.3 Z" fill="#fff" fill-opacity="0.10"/><path d="M333.0,257.0 L396.9,327.3 L389.9,333.1 Z" fill="#fff" fill-opacity="0.04"/><path d="M333.0,257.0 L389.9,333.1 L384.4,336.9 Z" fill="#000" fill-opacity="0.12"/><path d="M333.0,257.0 L384.4,336.9 L375.6,341.9 Z" fill="#000" fill-opacity="0.21"/><path d="M333.0,257.0 L375.6,341.9 L366.7,345.8 Z" fill="#fff" fill-opacity="0.07"/><path d="M333.0,257.0 L366.7,345.8 L360.7,347.9 Z" fill="#000" fill-opacity="0.17"/><path d="M333.0,257.0 L360.7,347.9 L355.1,349.4 Z" fill="#000" fill-opacity="0.13"/><path d="M333.0,257.0 L355.1,349.4 L345.4,351.2 Z" fill="#000" fill-opacity="0.21"/><path d="M333.0,257.0 L345.4,351.2 L337.8,351.9 Z" fill="#fff" fill-opacity="0.09"/><path d="M333.0,257.0 L337.8,351.9 L330.7,352.0 Z" fill="#000" fill-opacity="0.12"/><path d="M333.0,257.0 L330.7,352.0 L323.9,351.6 Z" fill="#fff" fill-opacity="0.04"/><path d="M333.0,257.0 L323.9,351.6 L315.9,350.5 Z" fill="#fff" fill-opacity="0.07"/><path d="M333.0,257.0 L315.9,350.5 L308.9,348.9 Z" fill="#fff" fill-opacity="0.09"/><path d="M333.0,257.0 L308.9,348.9 L302.0,346.8 Z" fill="#000" fill-opacity="0.22"/><path d="M333.0,257.0 L302.0,346.8 L295.7,344.4 Z" fill="#000" fill-opacity="0.19"/><path d="M333.0,257.0 L295.7,344.4 L291.1,342.2 Z" fill="#000" fill-opacity="0.15"/><path d="M333.0,257.0 L291.1,342.2 L284.9,338.9 Z" fill="#000" fill-opacity="0.14"/><path d="M333.0,257.0 L284.9,338.9 L279.9,335.8 Z" fill="#000" fill-opacity="0.16"/><path d="M333.0,257.0 L279.9,335.8 L274.5,331.8 Z" fill="#000" fill-opacity="0.21"/><path d="M333.0,257.0 L274.5,331.8 L268.1,326.4 Z" fill="#000" fill-opacity="0.09"/><path d="M333.0,257.0 L268.1,326.4 L262.7,320.9 Z" fill="#fff" fill-opacity="0.08"/><path d="M333.0,257.0 L262.7,320.9 L257.2,314.3 Z" fill="#000" fill-opacity="0.09"/><path d="M333.0,257.0 L257.2,314.3 L253.2,308.5 Z" fill="#000" fill-opacity="0.21"/><path d="M333.0,257.0 L253.2,308.5 L249.4,302.2 Z" fill="#000" fill-opacity="0.15"/><path d="M333.0,257.0 L249.4,302.2 L246.0,295.2 Z" fill="#fff" fill-opacity="0.06"/><path d="M333.0,257.0 L246.0,295.2 L242.9,287.2 Z" fill="#000" fill-opacity="0.15"/><path d="M333.0,257.0 L242.9,287.2 L241.4,282.2 Z" fill="#fff" fill-opacity="0.06"/><path d="M333.0,257.0 L241.4,282.2 L239.4,273.3 Z" fill="#fff" fill-opacity="0.06"/><path d="M333.0,257.0 L239.4,273.3 L238.6,267.9 Z" fill="#000" fill-opacity="0.15"/><path d="M333.0,257.0 L238.6,267.9 L238.0,259.5 Z" fill="#000" fill-opacity="0.09"/><path d="M333.0,257.0 L238.0,259.5 L238.2,251.2 Z" fill="#fff" fill-opacity="0.07"/><path d="M333.0,257.0 L238.2,251.2 L238.8,245.0 Z" fill="#000" fill-opacity="0.09"/><path d="M333.0,257.0 L238.8,245.0 L239.7,239.2 Z" fill="#fff" fill-opacity="0.05"/><path d="M333.0,257.0 L239.7,239.2 L241.0,233.4 Z" fill="#000" fill-opacity="0.15"/><path d="M333.0,257.0 L241.0,233.4 L242.4,228.4 Z" fill="#000" fill-opacity="0.12"/><path d="M333.0,257.0 L242.4,228.4 L244.1,223.4 Z" fill="#000" fill-opacity="0.17"/><path d="M333.0,257.0 L244.1,223.4 L246.9,216.9 Z" fill="#000" fill-opacity="0.18"/><path d="M333.0,257.0 L246.9,216.9 L251.6,208.1 Z" fill="#000" fill-opacity="0.09"/><path d="M333.0,257.0 L251.6,208.1 L255.3,202.3 Z" fill="#fff" fill-opacity="0.04"/><path d="M333.0,257.0 L255.3,202.3 L258.9,197.6 Z" fill="#000" fill-opacity="0.17"/><path d="M333.0,257.0 L258.9,197.6 L262.1,193.7 Z" fill="#fff" fill-opacity="0.08"/><path d="M333.0,257.0 L262.1,193.7 L267.3,188.4 Z" fill="#000" fill-opacity="0.20"/><path d="M333.0,257.0 L267.3,188.4 L271.3,184.8 Z" fill="#000" fill-opacity="0.21"/><path d="M333.0,257.0 L271.3,184.8 L277.6,179.9 Z" fill="#000" fill-opacity="0.20"/><path d="M333.0,257.0 L277.6,179.9 L284.6,175.2 Z" fill="#000" fill-opacity="0.08"/><path d="M333.0,257.0 L284.6,175.2 L289.6,172.5 Z" fill="#000" fill-opacity="0.09"/><path d="M333.0,257.0 L289.6,172.5 L296.4,169.3 Z" fill="#000" fill-opacity="0.12"/><path d="M333.0,257.0 L296.4,169.3 L305.0,166.2 Z" fill="#000" fill-opacity="0.17"/><path d="M333.0,257.0 L305.0,166.2 L315.0,163.7 Z" fill="#fff" fill-opacity="0.05"/><path d="M333.0,257.0 L315.0,163.7 L322.7,162.6 Z" fill="#000" fill-opacity="0.13"/><path d="M333.0,257.0 L322.7,162.6 L328.9,162.1 Z" fill="#fff" fill-opacity="0.04"/><path d="M333.0,257.0 L328.9,162.1 L335.8,162.0 Z" fill="#fff" fill-opacity="0.05"/><path d="M333.0,257.0 L335.8,162.0 L345.4,162.8 Z" fill="#fff" fill-opacity="0.07"/><path d="M333.0,257.0 L345.4,162.8 L352.1,163.9 Z" fill="#fff" fill-opacity="0.06"/><path d="M333.0,257.0 L352.1,163.9 L358.1,165.4 Z" fill="#fff" fill-opacity="0.05"/><path d="M333.0,257.0 L358.1,165.4 L367.2,168.4 Z" fill="#fff" fill-opacity="0.07"/><path d="M333.0,257.0 L367.2,168.4 L374.2,171.4 Z" fill="#000" fill-opacity="0.22"/><path d="M333.0,257.0 L374.2,171.4 L379.3,174.1 Z" fill="#000" fill-opacity="0.13"/><path d="M333.0,257.0 L379.3,174.1 L387.6,179.3 Z" fill="#000" fill-opacity="0.13"/><path d="M333.0,257.0 L387.6,179.3 L394.3,184.4 Z" fill="#000" fill-opacity="0.18"/><path d="M333.0,257.0 L394.3,184.4 L398.2,187.9 Z" fill="#000" fill-opacity="0.13"/><path d="M333.0,257.0 L398.2,187.9 L401.8,191.5 Z" fill="#fff" fill-opacity="0.10"/><path d="M333.0,257.0 L401.8,191.5 L405.6,195.7 Z" fill="#fff" fill-opacity="0.06"/><path d="M333.0,257.0 L405.6,195.7 L411.7,203.8 Z" fill="#000" fill-opacity="0.15"/><path d="M333.0,257.0 L411.7,203.8 L416.4,211.6 Z" fill="#000" fill-opacity="0.10"/><path d="M333.0,257.0 L416.4,211.6 L419.8,218.4 Z" fill="#000" fill-opacity="0.19"/><path d="M333.0,257.0 L419.8,218.4 L423.2,227.2 Z" fill="#000" fill-opacity="0.16"/><path d="M333.0,257.0 L423.2,227.2 L425.8,236.9 Z" fill="#000" fill-opacity="0.15"/><path d="M333.0,257.0 L425.8,236.9 L427.5,246.9 Z" fill="#000" fill-opacity="0.16"/><path d="M333.0,257.0 L427.5,246.9 L428.0,254.6 Z" fill="#fff" fill-opacity="0.06"/><path d="M333.0,257.0 L428.0,254.6 L427.7,264.9 Z" fill="#fff" fill-opacity="0.04"/></g></g>
<path d="M333.6,184.5 336.0,184.4 338.5,184.5 341.1,184.4 343.5,185.1 346.1,184.8 348.4,185.8 351.0,186.1 353.2,187.3 355.7,187.7 358.1,188.3 360.6,188.6 362.8,189.9 365.1,191.0 366.5,193.2 368.6,194.8 369.5,197.1 370.4,199.4 370.4,202.0 371.1,204.4 371.0,207.0 372.3,209.2 372.9,211.7 374.7,213.5 375.9,215.7 377.4,217.8 378.1,220.2 379.6,222.3 380.5,224.6 382.5,226.2 383.9,228.4 385.9,230.0 386.8,232.4 387.8,234.7 388.2,237.2 389.0,239.6 389.0,242.1 389.3,244.6 388.5,247.1 389.0,249.6 388.6,252.1 389.8,254.4 389.3,256.8 389.1,259.3 388.4,261.7 389.0,264.2 388.7,266.8 389.5,269.2 389.1,271.7 389.4,274.3 388.1,276.5 387.0,278.7 385.5,280.8 384.9,283.2 383.8,285.5 383.2,287.9 382.2,290.3 381.6,292.7 380.5,295.0 380.1,297.5 378.8,299.7 378.4,302.2 377.0,304.4 376.4,306.9 374.8,308.8 373.8,311.2 371.8,312.8 370.5,315.0 368.4,316.4 366.2,317.6 363.9,318.6 362.0,320.3 359.9,321.6 358.1,323.4 355.8,324.5 353.7,326.0 351.3,326.7 349.1,327.9 346.5,328.0 344.0,328.4 341.5,328.3 339.1,329.2 336.6,329.2 334.1,329.6 332.2,328.0 329.8,326.9 328.1,325.1 325.9,323.7 324.8,321.6 324.3,319.2 324.7,316.6 323.8,314.2 324.1,311.6 323.6,309.2 323.9,306.6 323.2,304.2 323.3,301.6 322.8,299.2 322.8,296.6 322.2,294.2 322.7,291.6 321.9,289.2 322.4,286.6 321.7,284.1 322.0,281.6 321.8,279.1 322.3,276.6 322.0,274.1 322.3,271.6 321.6,269.1 322.2,266.6 321.8,264.1 322.1,261.6 321.9,259.0 322.3,256.5 321.9,254.0 322.2,251.5 321.9,249.0 322.3,246.5 321.7,244.0 322.2,241.5 321.9,239.0 322.1,236.5 321.7,234.0 322.0,231.4 321.6,228.9 322.2,226.4 321.6,223.9 322.4,221.4 322.2,218.9 322.9,216.4 322.6,213.9 323.1,211.4 323.0,208.9 323.6,206.4 323.1,203.9 323.7,201.4 323.6,198.9 324.5,196.4 324.1,193.9 324.8,191.4 324.5,188.8 326.8,187.8 328.8,186.2 331.4,185.7Z" fill="none" stroke="#000" stroke-width="1.9" filter="url(#soft)"/>
<g clip-path="url(#cbmred)"><rect x="270" y="175.5" width="130" height="162.9" fill="#363636"/>
<path d="M390.7,337.9 391.1,336.5 392.3,335.4 396.3,337.1 399.8,335.8 396.7,335.5 397.3,334.6 399.7,333.5 399.7,331.8 399.3,331.4 398.7,331.4 397.3,333.2 395.0,334.7 393.9,333.2 390.7,332.8 390.1,331.8 390.6,329.8 392.7,328.0 394.0,327.6 398.3,327.7 399.8,327.2 399.7,326.1 397.9,325.2 399.7,323.7 399.7,321.6 398.7,321.3 396.8,319.5 397.3,319.0 399.1,318.8 399.7,318.3 399.8,317.2 396.7,316.0 396.4,315.5 396.7,314.9 398.7,315.6 399.7,315.2 399.7,313.8 398.7,314.4 397.6,313.5 398.7,312.6 399.7,312.5 399.7,311.4 397.8,308.5 399.8,306.2 399.7,305.7 398.7,305.8 398.3,305.2 399.8,304.5 398.9,303.8 398.6,301.8 398.0,301.4 396.8,301.8 396.8,303.8 395.7,304.5 394.3,304.5 392.4,302.5 393.3,300.7 395.8,300.5 398.0,298.8 399.7,298.3 399.7,297.1 398.0,297.4 397.1,296.2 397.5,294.2 398.3,293.6 399.7,294.0 399.7,292.5 398.7,292.4 396.3,293.6 394.8,293.8 394.0,292.2 392.2,290.2 391.9,288.8 392.7,288.2 395.0,288.3 396.7,286.9 399.7,288.2 399.7,286.1 396.7,285.4 395.0,286.6 394.7,286.2 395.0,284.2 395.7,283.3 396.7,283.1 399.7,283.5 399.7,282.7 396.0,281.8 396.0,279.7 398.7,280.3 399.7,279.9 399.8,273.8 399.7,272.7 396.7,271.0 395.5,268.8 396.3,267.3 398.3,267.2 399.7,266.3 399.7,264.5 398.3,266.1 397.0,266.5 396.8,265.2 393.7,264.3 392.2,262.5 394.0,261.1 394.8,263.2 396.0,264.2 397.0,264.4 399.7,263.6 399.7,261.0 397.3,263.3 396.0,263.0 395.6,261.8 396.5,256.8 397.3,256.5 398.3,256.8 399.7,258.3 399.8,257.2 398.0,256.1 396.7,255.9 395.0,257.5 392.7,257.8 391.0,259.5 390.3,259.6 389.0,258.8 388.1,256.8 386.4,255.2 387.0,254.5 390.0,253.9 393.7,255.5 397.0,254.1 398.7,255.6 399.7,255.9 399.8,255.5 399.7,254.9 398.7,254.3 398.1,252.5 398.5,251.5 399.7,250.3 399.7,249.2 398.8,248.5 398.0,246.8 395.2,244.8 395.6,243.8 396.7,243.4 399.7,243.7 399.7,239.2 398.0,239.8 397.0,241.5 395.3,241.6 394.8,238.5 395.1,236.2 393.6,234.5 394.0,234.1 396.0,234.1 398.0,232.5 399.7,232.9 399.7,231.3 396.0,230.2 395.5,230.8 396.1,232.8 394.7,233.5 391.0,231.7 390.4,230.5 391.7,226.2 396.7,227.9 397.7,230.2 399.7,230.6 399.7,229.5 398.9,229.5 399.7,228.2 399.8,224.5 398.0,223.2 397.6,220.8 397.0,220.4 396.3,220.8 395.8,222.8 394.7,223.8 393.7,223.6 392.9,222.2 394.3,220.8 394.7,219.5 396.0,218.4 397.0,218.4 399.7,219.7 399.8,217.2 397.9,214.8 391.9,212.8 390.7,209.1 389.3,207.8 390.0,206.8 393.0,207.6 394.3,207.5 395.9,211.2 396.7,211.7 397.9,209.8 399.7,208.8 399.7,208.2 397.3,208.7 396.0,207.5 399.7,205.5 399.7,196.3 397.0,197.5 395.7,196.9 394.2,195.5 394.7,194.8 397.7,193.9 398.7,192.7 399.7,192.6 399.7,191.5 398.3,191.5 397.9,190.8 398.3,190.1 399.7,189.9 399.7,189.2 398.3,189.0 395.0,190.4 393.3,188.7 392.9,187.5 394.7,185.0 395.7,184.6 397.3,185.5 398.3,187.6 399.7,187.3 399.7,186.2 398.7,186.4 397.3,184.5 397.7,180.8 399.7,180.3 399.8,179.8 399.7,179.1 397.3,179.6 396.9,179.2 396.6,176.8 398.1,175.5 390.7,175.4 389.7,177.3 386.6,175.5 385.1,175.5 385.4,177.5 386.4,179.8 385.7,181.0 379.7,176.4 379.1,175.5 378.3,175.4 376.0,176.6 373.7,176.1 372.0,177.7 370.0,178.2 368.7,177.7 367.3,177.8 367.3,175.5 362.0,175.4 361.1,178.8 357.0,179.7 355.5,177.5 357.0,176.0 359.0,177.2 358.6,175.5 356.0,175.4 355.0,176.3 353.3,176.6 352.0,176.4 351.0,175.4 349.4,175.5 348.3,178.5 347.3,178.8 344.7,177.8 344.9,175.5 344.3,175.4 343.5,175.5 343.3,177.2 340.8,175.5 336.7,175.4 335.3,176.5 332.3,176.4 330.3,176.8 329.1,176.5 328.6,175.5 326.7,175.4 326.3,177.2 325.0,178.1 324.5,177.8 323.9,176.2 322.3,175.4 315.0,175.4 314.2,176.2 312.1,176.2 311.0,177.9 310.5,177.2 310.3,175.5 307.7,175.4 306.3,177.0 305.8,176.5 305.9,175.5 302.7,175.4 302.3,175.5 302.1,176.8 302.9,179.8 302.0,180.7 300.7,179.5 301.7,175.5 300.3,175.4 299.8,175.5 299.3,179.2 298.7,179.4 296.7,178.7 296.0,180.2 293.0,182.1 291.4,181.5 288.7,179.1 286.9,178.5 288.6,177.2 288.7,175.4 287.6,175.5 285.5,177.2 285.4,178.8 284.7,180.8 283.0,180.5 280.3,182.0 278.6,180.2 279.2,175.5 278.1,175.5 277.4,177.2 274.7,178.0 273.0,177.1 271.7,177.1 271.3,176.2 270.0,175.4 270.0,179.9 272.0,180.3 273.0,182.8 270.0,184.4 270.0,187.0 271.0,186.1 274.0,185.2 275.3,186.5 276.0,188.8 275.7,189.3 275.0,189.2 273.8,186.8 273.0,186.4 271.7,186.4 270.7,187.2 270.0,189.6 271.0,189.2 272.0,187.5 273.0,188.1 274.6,190.2 271.3,191.9 270.0,191.7 270.0,192.8 271.6,193.8 270.0,196.0 270.0,198.5 271.0,199.7 274.3,201.1 276.8,202.8 273.3,204.2 270.7,203.9 270.0,204.2 269.9,204.8 270.0,207.2 270.9,207.2 270.0,208.0 269.9,209.5 271.7,211.8 271.2,213.8 272.0,215.5 271.5,216.8 269.9,217.5 269.9,219.8 271.1,220.8 270.6,222.5 270.8,224.2 270.0,224.2 269.9,225.2 270.3,225.8 272.1,226.5 272.3,227.2 271.9,228.8 270.0,231.1 269.9,232.5 270.0,233.1 274.0,236.2 273.3,237.3 269.9,238.5 270.0,239.5 271.0,239.2 271.5,239.5 272.0,241.2 271.3,242.3 270.0,242.2 269.9,249.8 272.7,249.8 273.4,251.5 271.3,251.4 270.0,252.3 269.9,256.8 270.0,258.0 270.5,258.5 272.3,259.1 275.0,261.2 274.3,262.4 273.3,262.9 272.3,260.7 270.0,260.9 270.0,264.5 272.0,263.6 273.0,264.4 274.7,263.9 276.7,261.6 278.0,262.5 275.6,263.8 276.5,265.8 276.3,266.7 275.0,266.6 273.0,267.8 270.7,267.6 269.9,268.2 270.0,269.2 271.0,268.5 273.0,268.6 275.0,267.8 275.0,270.0 277.1,274.8 275.3,276.8 269.9,279.5 270.0,283.7 271.7,283.2 272.6,284.5 272.0,285.6 270.0,286.5 270.0,289.5 271.2,291.2 270.7,292.2 270.0,292.0 270.0,293.9 271.0,295.1 273.0,296.2 274.7,295.0 276.0,295.0 276.6,295.5 276.0,296.5 274.3,296.8 275.7,298.8 275.7,300.3 272.3,299.4 270.6,297.5 270.0,297.2 269.9,297.5 270.0,298.8 271.2,299.8 275.1,301.5 274.7,302.0 272.3,302.4 269.9,304.5 270.5,305.8 272.0,306.5 273.3,309.8 272.8,311.5 270.0,312.0 270.0,315.2 271.6,313.2 273.0,312.6 275.3,314.0 275.8,315.2 275.3,316.4 274.3,317.1 271.7,316.3 269.9,317.2 270.0,323.4 271.3,322.8 273.0,323.8 272.6,324.5 269.9,325.8 270.0,326.4 272.0,325.8 271.4,328.8 272.3,329.8 271.3,330.4 270.6,329.5 270.0,329.4 270.0,336.6 272.7,338.0 287.3,337.9 288.6,335.2 289.7,333.7 290.7,333.2 292.7,334.9 295.3,336.0 296.7,337.8 298.7,337.9 299.0,337.8 298.0,336.5 299.7,335.4 301.0,335.4 302.7,336.5 303.4,336.2 303.7,334.8 303.1,332.5 303.7,331.7 305.0,331.4 308.0,331.6 309.4,332.5 308.3,333.8 308.2,334.8 308.7,337.8 309.7,337.9 310.7,337.8 310.3,336.8 310.7,336.7 313.3,337.9 316.0,337.8 318.1,332.2 319.0,331.8 321.1,332.5 320.2,334.8 321.0,337.9 321.7,337.8 321.7,334.4 324.0,335.5 323.5,336.8 324.2,337.8 327.7,337.9 328.8,335.2 331.7,333.4 332.6,333.8 333.3,337.8 333.7,337.9 334.0,337.8 334.6,335.5 335.7,334.6 337.0,336.9 339.0,337.9 339.6,337.8 339.0,335.8 341.7,336.7 343.7,335.6 344.0,335.8 343.4,337.8 345.7,337.8 345.4,336.2 346.0,335.1 347.7,336.2 347.9,337.8 348.3,337.9 352.8,337.8 354.3,336.7 356.3,337.1 357.0,337.9 361.3,337.9 363.3,336.0 364.9,336.8 364.5,337.8 366.3,337.9 367.0,337.6 367.0,336.7 365.2,335.2 367.7,334.9 371.3,335.4 375.3,337.7 387.3,338.0 388.3,337.8 385.8,335.8 383.5,334.8 388.0,333.2 389.7,333.4 390.1,334.8 389.0,337.5 388.4,337.8 390.7,337.9ZM393.6,181.2 392.3,181.3 391.6,180.8 392.9,178.8 391.6,177.2 391.7,175.8 393.0,176.2 395.3,179.2 395.3,179.8 393.6,181.2ZM338.6,179.5 338.2,178.8 340.0,176.6 340.7,176.7 342.8,178.8 342.3,179.5 340.0,178.8 338.6,179.5ZM323.5,180.5 322.3,180.7 319.3,179.0 318.9,178.2 322.3,177.2 323.4,178.5 323.5,180.5ZM334.9,179.8 332.0,179.5 331.7,177.8 333.3,177.0 336.4,178.5 336.1,179.5 334.9,179.8ZM350.2,181.8 349.6,181.8 349.6,178.5 350.3,177.4 351.3,177.1 351.8,177.5 351.6,180.2 350.2,181.8ZM313.9,180.8 313.2,180.8 312.0,179.8 313.3,177.2 316.0,177.4 317.6,178.5 317.3,179.7 315.7,179.7 313.9,180.8ZM324.7,181.8 324.0,181.5 325.7,179.2 327.3,177.4 328.2,177.5 329.0,179.5 328.7,180.9 328.0,181.4 324.7,181.8ZM372.4,178.8 371.8,178.8 373.7,177.4 374.3,177.3 374.8,177.8 372.4,178.8ZM310.7,182.5 309.7,182.7 307.0,181.3 306.7,178.5 307.7,177.9 308.7,178.3 309.3,180.2 310.8,181.2 310.7,182.5ZM380.0,185.2 379.0,185.4 377.7,183.3 376.7,182.6 374.7,183.0 373.0,184.3 371.7,184.2 371.5,183.5 372.4,182.8 372.5,182.2 370.7,180.0 376.7,179.6 378.3,177.9 382.0,179.0 383.5,180.2 384.2,181.5 382.0,182.7 380.0,185.2ZM275.5,183.2 274.1,183.2 273.8,180.8 275.2,178.8 277.3,178.4 277.5,178.8 275.8,180.5 275.5,183.2ZM348.4,183.5 346.7,182.1 344.6,182.5 343.0,181.0 343.1,180.2 344.7,178.8 348.0,180.2 348.7,181.2 348.4,183.5ZM368.6,181.8 366.7,181.2 365.5,179.8 369.0,179.5 369.2,180.8 368.6,181.8ZM288.2,182.5 286.9,182.5 286.9,181.5 286.1,180.2 286.3,179.7 288.0,179.8 289.5,181.2 289.4,182.2 288.2,182.5ZM359.7,188.2 355.7,186.4 353.0,186.7 351.0,184.9 350.3,183.5 353.7,181.6 356.7,181.2 359.7,179.8 360.7,180.1 362.0,181.9 365.3,183.3 367.8,183.5 367.7,184.2 366.7,185.0 362.3,186.2 359.7,188.2ZM363.8,181.2 362.8,181.2 362.0,180.2 363.3,180.1 363.8,181.2ZM316.4,188.5 316.0,188.4 315.8,187.5 316.4,184.5 315.6,182.2 316.0,181.1 319.3,180.4 323.2,182.2 323.7,183.5 323.5,184.2 321.7,185.0 320.0,185.0 319.2,186.8 316.4,188.5ZM300.9,184.2 298.9,183.5 299.3,180.8 300.0,180.9 301.9,182.8 301.7,183.8 300.9,184.2ZM338.4,185.5 337.7,185.7 337.0,184.4 336.0,183.7 334.0,183.2 332.3,183.5 331.6,182.8 331.8,181.8 333.0,180.9 335.7,181.5 338.3,183.2 338.7,184.5 338.4,185.5ZM391.0,182.8 388.5,182.2 388.3,181.5 389.0,181.0 389.7,181.1 391.0,182.2 391.0,182.8ZM296.4,182.2 295.1,182.2 296.0,181.4 296.4,181.5 296.4,182.2ZM341.1,188.8 340.0,189.0 338.0,188.2 337.0,187.2 339.0,186.2 339.6,182.8 340.3,181.2 342.3,182.1 344.6,184.2 345.1,185.8 344.1,187.5 342.3,187.9 341.1,188.8ZM393.1,185.8 392.3,185.9 391.8,185.2 392.2,182.5 394.3,181.6 396.4,181.8 396.7,182.5 396.4,183.5 394.7,183.6 393.1,185.8ZM281.4,187.2 280.4,186.8 280.1,185.8 278.7,184.5 281.0,184.3 281.5,182.5 282.7,182.0 284.1,184.2 282.7,186.4 281.4,187.2ZM328.9,186.2 327.5,185.8 326.7,183.7 325.7,182.8 326.0,182.3 327.3,182.3 328.7,184.4 330.0,184.8 330.0,185.6 328.9,186.2ZM309.5,189.8 305.4,189.8 306.4,188.8 306.2,186.5 307.3,184.2 308.7,183.2 311.3,184.3 312.7,182.8 314.7,182.6 315.6,184.2 314.7,188.5 312.0,188.3 309.5,189.8ZM302.9,187.2 302.3,187.0 301.7,185.8 302.3,184.5 302.7,184.2 305.0,185.0 307.3,182.5 307.6,182.8 306.0,184.9 303.6,186.2 302.9,187.2ZM382.9,185.8 381.7,186.1 381.0,185.5 382.7,183.5 385.0,182.7 388.3,183.7 389.2,184.5 387.7,185.3 384.3,185.3 382.9,185.8ZM285.6,190.5 284.5,190.2 284.4,188.2 283.7,186.8 285.3,184.6 290.3,183.2 292.4,183.5 294.7,185.1 296.3,185.2 294.7,186.6 292.7,186.9 288.3,190.1 285.6,190.5ZM377.1,189.5 376.7,189.8 376.1,189.5 374.0,186.4 371.0,186.0 370.6,185.2 374.5,185.2 375.5,183.8 376.3,183.7 378.7,186.2 383.4,187.8 383.3,188.5 381.0,189.4 378.3,188.3 377.1,189.5ZM301.4,190.5 300.6,190.5 299.3,187.6 297.7,186.8 298.3,184.7 302.0,188.5 302.0,189.5 301.4,190.5ZM333.9,185.5 332.7,185.5 334.3,184.6 335.6,184.8 333.9,185.5ZM350.7,194.5 350.3,194.8 348.7,194.2 347.4,191.8 345.2,190.5 345.4,187.5 347.0,185.6 349.3,184.5 351.1,186.8 350.3,188.2 350.2,190.2 350.7,194.5ZM326.6,190.5 325.7,190.5 323.1,188.5 325.7,184.9 326.2,185.2 326.9,187.5 327.2,189.8 326.6,190.5ZM322.1,191.2 319.3,191.1 317.8,188.8 321.0,186.1 323.0,185.5 323.2,186.2 321.6,188.5 323.1,190.2 322.1,191.2ZM278.1,187.8 276.9,186.2 279.0,186.5 278.1,187.8ZM364.2,188.5 363.3,188.8 362.8,188.5 365.0,186.3 367.0,186.4 367.0,187.6 365.3,187.3 364.2,188.5ZM308.3,187.0 308.3,186.6 308.3,187.0ZM387.9,190.8 387.1,190.5 386.4,187.2 386.7,186.8 389.7,186.7 389.1,189.2 387.9,190.8ZM331.7,190.5 329.0,190.1 328.2,189.2 328.3,188.3 330.0,188.2 331.0,187.1 332.7,187.2 333.3,189.2 331.7,190.5ZM376.4,193.2 375.0,193.5 372.3,192.1 370.0,192.9 369.3,191.2 367.7,190.4 367.5,189.5 369.7,187.3 373.3,187.1 375.3,190.6 377.3,191.8 377.3,192.5 376.4,193.2ZM333.7,193.5 332.3,193.7 330.9,191.8 332.7,191.5 334.9,189.8 334.7,188.2 335.3,187.3 336.3,188.7 340.0,190.4 340.5,191.2 340.3,191.9 338.0,192.2 335.3,191.9 333.7,193.5ZM385.8,189.5 385.7,189.8 385.0,187.3 385.8,189.5ZM294.4,189.5 292.0,189.5 294.0,188.0 296.0,187.8 295.9,189.2 294.4,189.5ZM351.7,191.8 351.1,190.5 351.7,189.1 354.3,188.8 355.7,187.6 356.4,187.8 356.3,188.6 354.8,190.2 352.7,190.8 351.7,191.8ZM281.2,192.2 280.7,192.5 280.1,191.8 280.3,187.9 283.2,189.8 281.2,192.2ZM275.1,199.8 274.0,200.1 271.7,198.8 271.0,197.8 271.2,196.8 273.5,192.2 277.3,190.2 279.0,188.6 279.4,189.5 279.2,192.5 280.4,194.8 279.0,195.8 278.6,197.5 276.3,198.5 275.1,199.8ZM315.8,191.2 313.3,191.2 311.7,190.2 311.7,189.5 313.3,189.3 315.3,190.3 315.8,191.2ZM367.0,194.5 366.0,194.4 365.6,193.2 362.1,190.2 363.0,189.8 366.0,190.7 368.1,192.2 368.3,193.7 367.0,194.5ZM383.4,190.2 382.0,190.2 383.0,189.6 383.6,189.8 383.4,190.2ZM357.0,197.2 352.7,196.0 352.0,194.5 353.2,191.5 357.3,190.1 358.8,190.5 359.7,192.0 361.4,192.8 357.0,197.2ZM290.7,193.2 290.3,193.4 290.1,192.8 290.6,190.8 293.1,190.5 293.0,191.1 291.3,191.7 290.7,193.2ZM298.1,191.8 297.0,190.9 294.4,190.8 295.0,190.5 297.7,190.8 298.1,191.8ZM306.9,192.5 304.0,192.0 303.6,191.5 303.7,190.5 308.0,190.8 310.3,190.4 311.0,190.7 309.7,191.9 306.9,192.5ZM380.2,192.5 379.3,192.8 379.1,192.2 380.3,190.8 380.8,191.5 380.2,192.5ZM318.4,193.5 317.6,192.8 317.7,191.1 319.0,192.5 318.4,193.5ZM393.1,194.8 392.7,194.9 391.8,193.5 391.6,191.8 392.3,191.0 392.8,191.5 393.1,194.8ZM287.7,193.8 285.3,191.5 286.3,191.5 289.0,192.5 289.0,193.5 287.7,193.8ZM301.0,196.5 296.3,196.4 295.3,195.5 297.0,193.8 298.7,194.2 300.0,192.3 302.0,191.7 303.1,193.5 302.0,195.7 301.0,196.5ZM314.6,197.5 312.3,197.6 310.3,196.0 311.1,192.5 311.7,191.8 313.5,192.8 315.0,194.8 317.0,194.6 317.7,195.2 317.6,195.8 314.6,197.5ZM335.1,198.8 334.7,199.0 333.3,197.9 331.0,198.1 327.3,197.1 325.3,197.4 323.1,193.8 323.1,192.8 324.7,191.8 329.7,192.7 331.7,195.1 334.7,195.5 335.2,196.8 335.1,198.8ZM388.5,196.2 387.7,196.2 386.3,194.9 383.0,193.9 382.3,193.2 382.1,191.8 382.7,191.8 384.0,192.9 386.3,192.1 390.6,192.8 390.7,194.2 389.4,194.8 388.5,196.2ZM295.4,197.5 295.0,197.8 294.0,197.5 292.2,195.2 291.3,194.8 292.9,192.2 294.0,192.2 295.0,193.2 294.1,195.8 295.4,197.5ZM339.3,201.5 338.0,201.7 336.7,201.2 336.7,196.8 334.9,194.2 335.3,193.5 336.0,193.1 337.3,194.0 339.3,193.0 341.0,192.9 342.0,192.0 346.7,192.8 347.1,194.2 344.4,194.8 342.8,198.8 339.3,201.5ZM285.5,197.5 282.2,196.5 283.3,194.2 283.3,192.4 285.3,192.7 286.3,193.8 286.5,196.5 285.5,197.5ZM321.1,194.5 320.6,194.5 320.3,193.8 320.7,192.9 321.3,192.6 321.7,193.2 321.1,194.5ZM305.7,198.2 303.7,198.3 302.7,197.2 303.0,195.5 304.3,193.7 305.7,193.3 307.7,194.8 309.7,194.3 309.1,196.2 305.7,198.2ZM360.0,197.2 359.4,196.5 361.2,194.2 362.7,193.3 363.8,193.5 364.0,194.4 361.8,194.8 361.0,196.6 360.0,197.2ZM370.5,201.8 368.3,201.8 367.6,200.2 370.7,198.8 370.4,195.8 370.9,193.8 372.3,193.4 375.7,194.3 377.7,193.5 377.9,195.5 378.9,198.2 378.7,199.0 377.7,199.7 375.4,200.2 372.3,200.0 370.5,201.8ZM318.5,198.5 317.0,198.6 316.7,198.2 318.3,196.2 318.3,194.6 319.7,195.6 320.1,196.5 319.5,197.8 318.5,198.5ZM289.2,199.2 286.3,198.8 287.3,197.3 287.8,195.5 288.7,194.9 289.5,195.5 289.0,197.5 289.2,199.2ZM352.8,203.5 352.0,203.7 350.9,203.2 351.0,202.1 350.0,201.2 348.0,202.2 346.9,201.8 347.0,199.5 345.0,196.5 345.4,195.5 346.7,195.1 354.3,198.0 352.8,203.5ZM369.5,198.5 368.7,198.6 367.7,197.4 366.0,196.9 365.9,196.2 369.7,195.1 370.0,197.8 369.5,198.5ZM386.5,198.5 385.0,198.6 383.0,196.9 380.6,197.5 380.4,196.8 381.7,195.0 383.3,195.0 385.8,196.2 386.9,197.8 386.5,198.5ZM364.5,197.8 363.4,196.5 364.0,195.6 364.5,195.8 364.5,197.8ZM391.4,202.2 390.7,202.2 389.3,200.8 388.9,199.2 391.6,196.2 393.0,196.1 393.5,196.8 392.7,198.7 390.3,200.2 390.6,201.2 391.6,201.5 391.4,202.2ZM281.4,200.8 279.7,200.9 278.2,199.5 279.8,198.5 281.0,196.6 281.7,198.2 281.4,200.8ZM310.3,203.5 309.7,203.5 308.9,201.8 307.0,201.3 306.4,200.5 307.7,198.2 310.3,197.3 311.3,197.8 312.7,200.8 312.3,202.1 310.7,202.8 310.3,203.5ZM354.7,202.5 353.9,202.2 356.0,199.0 358.0,197.7 358.6,197.8 359.0,199.5 360.7,200.8 359.8,201.8 357.7,201.6 354.7,202.5ZM323.4,199.5 322.7,199.4 322.7,198.3 323.7,198.5 323.4,199.5ZM325.9,201.5 325.5,201.2 325.8,198.8 326.3,198.0 327.0,197.9 327.6,198.5 327.7,199.6 325.9,201.5ZM364.7,203.2 363.0,202.5 361.1,199.2 361.7,198.2 362.5,198.2 364.0,199.3 366.3,199.2 365.8,202.5 364.7,203.2ZM398.4,204.2 397.7,203.8 396.0,201.0 394.3,199.9 394.6,198.5 396.0,198.8 398.0,198.2 397.7,200.5 398.4,204.2ZM297.0,201.2 295.7,201.2 294.8,199.8 297.3,198.2 299.7,199.5 302.4,199.2 302.0,200.1 301.0,200.7 297.0,201.2ZM382.8,201.8 382.0,201.8 379.5,199.8 380.3,199.1 381.7,198.9 382.8,201.8ZM291.9,204.8 288.3,203.6 286.3,203.8 283.0,199.5 283.0,198.9 284.7,200.4 291.7,199.8 292.8,202.2 291.9,203.5 291.9,204.8ZM347.0,205.2 345.0,205.2 343.2,204.2 343.7,201.8 343.6,200.2 345.0,199.1 345.6,199.8 345.8,202.5 348.5,203.8 347.0,205.2ZM329.1,204.5 327.8,204.2 327.7,202.0 330.3,200.4 333.3,199.6 331.9,202.5 329.1,204.5ZM300.9,206.8 300.3,207.1 300.1,206.5 301.0,202.2 303.7,200.2 304.7,200.1 306.2,202.5 304.8,205.8 303.7,206.4 302.4,205.2 301.7,205.1 300.9,206.8ZM318.9,201.8 317.7,201.8 317.5,200.8 318.0,200.2 319.1,200.5 318.9,201.8ZM338.5,206.2 337.3,206.2 337.0,204.5 335.7,203.5 333.3,204.5 332.9,204.2 332.6,202.8 334.3,200.8 335.0,200.9 335.7,202.0 337.7,202.5 340.7,202.7 342.0,202.0 341.7,204.5 338.5,206.2ZM386.6,205.5 384.4,204.2 383.7,200.8 388.0,200.5 389.2,201.8 389.4,203.2 386.6,205.5ZM374.8,204.5 374.0,204.6 370.8,203.2 373.3,201.0 374.8,204.5ZM283.1,205.5 282.0,205.4 280.7,203.3 278.9,203.2 279.0,202.2 281.0,202.4 283.0,201.4 283.7,201.7 284.5,203.2 283.1,205.5ZM321.3,203.8 320.3,204.0 319.7,203.2 319.7,202.5 320.7,201.5 324.3,201.9 324.5,203.5 321.3,203.8ZM376.6,203.5 375.7,203.4 375.7,202.2 378.3,201.2 379.9,201.5 379.3,202.3 376.6,203.5ZM394.4,206.5 389.0,205.2 388.9,204.8 390.3,203.7 392.7,203.1 394.3,201.9 395.3,201.9 396.5,203.2 396.6,205.2 396.2,205.8 394.4,206.5ZM298.1,206.2 296.7,206.1 294.0,204.5 294.7,202.4 299.0,202.7 298.1,206.2ZM303.4,211.2 302.9,210.2 303.2,208.5 305.0,206.8 307.0,203.4 308.0,203.5 308.7,204.5 307.5,206.2 307.9,206.8 309.3,207.3 312.7,206.6 313.4,207.2 313.4,208.2 312.7,208.9 308.7,210.0 304.3,210.3 303.4,211.2ZM359.7,207.8 357.6,207.2 356.8,204.5 357.0,203.4 361.3,203.5 362.0,204.2 363.9,204.8 361.0,205.7 359.7,207.8ZM326.4,204.8 325.4,204.5 325.7,203.8 326.4,203.8 326.4,204.8ZM379.4,212.8 377.2,212.5 377.7,211.2 376.8,209.5 376.3,206.2 377.7,204.1 380.0,203.7 381.5,206.5 381.4,209.5 382.1,211.5 379.4,212.8ZM275.2,208.5 273.7,208.7 272.1,207.2 273.7,205.0 275.0,204.1 276.3,204.1 278.5,206.8 275.2,208.5ZM317.6,206.8 317.0,206.7 316.0,204.8 316.3,204.2 318.0,203.9 319.3,204.8 319.5,205.5 317.6,206.8ZM364.2,209.2 361.3,209.1 361.4,207.5 362.0,206.4 363.3,205.9 366.3,206.3 368.7,203.9 370.3,204.5 370.2,205.8 368.5,207.8 364.2,209.2ZM321.8,211.5 320.7,211.5 320.9,209.2 319.4,207.8 319.6,206.8 320.3,206.0 323.0,204.5 327.1,206.5 327.3,207.5 326.7,208.5 324.7,207.3 323.7,207.8 321.8,211.5ZM348.4,207.2 348.0,207.2 347.9,206.2 349.4,204.8 348.4,207.2ZM354.9,208.5 353.7,208.5 351.7,206.9 350.3,207.6 349.9,206.8 351.3,204.8 352.3,204.6 355.3,206.8 355.5,207.8 354.9,208.5ZM372.6,215.2 371.6,215.2 370.7,212.7 366.3,211.2 365.6,210.2 366.3,209.2 372.2,207.8 371.7,205.8 372.7,204.8 373.7,205.8 372.5,207.8 375.5,210.8 373.7,210.3 372.3,210.7 373.6,213.8 373.3,214.8 372.6,215.2ZM291.5,212.5 290.0,212.6 288.3,210.7 284.7,212.0 281.7,212.2 279.8,210.8 278.7,208.8 281.7,206.8 285.0,206.7 288.0,204.9 294.0,207.8 293.9,209.2 291.8,210.8 291.5,212.5ZM334.7,215.5 334.0,215.7 333.2,215.2 332.4,211.8 329.2,208.5 329.4,206.2 331.7,205.0 334.0,206.6 337.3,207.2 339.3,206.8 339.8,207.2 338.6,208.5 337.0,211.8 335.0,213.2 334.7,215.5ZM350.1,212.2 347.0,211.2 345.0,211.8 341.0,210.5 340.7,210.2 341.5,206.8 343.3,205.4 346.7,206.5 348.7,210.0 350.1,211.2 350.1,212.2ZM386.7,211.5 383.3,210.8 382.5,210.2 382.0,208.5 382.7,206.5 385.0,205.8 388.0,208.2 387.7,210.4 386.7,211.5ZM298.4,208.2 295.7,207.9 295.3,207.2 298.0,207.1 298.5,207.5 298.4,208.2ZM315.0,211.2 313.7,211.1 313.1,210.2 313.3,209.6 318.3,207.3 318.5,208.2 317.0,210.3 315.0,211.2ZM358.5,212.2 356.0,211.1 353.7,211.9 353.1,211.5 353.1,210.2 353.7,209.6 355.6,209.2 356.7,208.0 357.7,208.2 358.7,209.5 358.5,212.2ZM299.5,215.2 297.0,214.9 295.3,214.2 294.7,212.0 293.8,210.8 295.3,208.9 297.1,209.2 299.0,213.2 299.5,215.2ZM300.9,212.8 300.0,212.4 299.8,209.5 301.0,208.6 301.7,208.9 301.8,210.2 300.9,212.8ZM276.4,215.5 275.6,214.8 275.5,212.5 274.0,211.2 274.7,209.9 276.0,209.4 277.0,209.7 279.9,212.2 279.8,212.5 278.3,212.5 276.5,213.8 276.1,214.5 276.4,215.5ZM326.1,217.5 325.3,217.6 323.7,216.6 324.0,214.8 321.9,214.5 322.9,213.5 322.7,212.5 323.3,210.7 324.7,209.4 325.7,210.9 328.0,211.5 329.5,213.2 329.4,213.8 326.1,217.5ZM347.0,210.6 347.1,209.8 346.3,209.5 346.3,210.4 347.0,210.6ZM389.0,214.2 387.7,214.3 387.2,213.2 388.9,209.8 389.7,209.4 390.2,210.2 390.1,212.8 389.0,214.2ZM318.0,214.2 315.3,213.7 313.3,214.4 311.0,214.3 307.4,211.2 309.0,211.2 311.3,209.9 313.0,212.3 316.3,212.0 317.3,213.3 318.9,213.2 318.7,213.8 318.0,214.2ZM343.3,217.8 342.3,217.7 341.5,216.8 341.4,215.2 340.0,212.8 339.7,211.0 345.3,213.1 344.2,215.5 344.0,217.2 343.3,217.8ZM363.8,218.5 362.4,218.5 361.0,217.1 359.3,216.5 358.1,215.5 358.0,214.8 360.7,211.9 362.7,211.4 363.8,212.2 363.1,215.8 363.8,218.5ZM288.0,217.5 286.0,217.7 284.5,216.2 284.7,215.2 285.8,213.8 286.0,212.2 287.3,211.9 291.0,213.6 293.3,212.6 293.9,212.8 294.3,214.2 293.7,215.1 290.5,215.2 288.0,217.5ZM365.2,217.5 364.4,217.5 363.9,215.8 365.0,212.1 367.0,212.1 370.0,213.9 370.0,215.8 369.5,216.5 365.2,217.5ZM381.1,216.2 378.9,215.8 379.7,213.8 383.7,212.0 385.8,212.8 386.0,213.8 385.3,214.9 383.0,215.0 381.1,216.2ZM348.4,212.5 346.5,212.5 348.4,212.5ZM275.2,217.2 274.0,217.2 273.2,216.5 273.5,213.2 274.0,212.8 274.7,213.5 275.2,217.2ZM321.4,213.2 320.7,213.2 320.6,212.8 321.4,213.2ZM355.0,216.5 353.8,216.5 354.0,214.8 353.5,213.5 355.7,212.7 357.0,212.9 357.4,213.5 357.1,216.2 355.0,216.5ZM282.1,217.2 280.8,216.8 279.1,213.8 280.7,214.0 283.0,213.0 284.3,213.1 284.4,213.8 283.4,215.2 283.4,216.5 282.1,217.2ZM314.2,218.5 313.7,218.6 312.0,216.4 310.0,215.4 309.0,215.5 307.3,216.8 305.4,213.5 306.7,213.0 313.4,215.5 314.0,216.2 314.2,218.5ZM347.4,220.2 345.3,219.4 344.9,218.2 345.7,214.2 347.7,213.1 352.4,217.2 351.6,218.5 349.3,219.0 348.3,220.0 347.4,220.2ZM376.3,215.5 374.7,215.2 374.4,214.5 374.8,213.5 375.7,213.5 377.2,214.5 377.0,215.2 376.3,215.5ZM336.6,217.2 335.3,217.5 334.6,216.8 336.3,214.9 338.0,214.7 339.0,213.6 339.6,215.5 336.6,217.2ZM392.0,219.5 391.3,219.5 389.9,215.5 390.2,214.5 391.0,213.9 395.2,215.5 394.1,217.5 392.0,219.5ZM301.1,217.2 300.3,217.2 300.5,215.5 301.0,214.8 302.3,214.4 302.7,215.8 301.1,217.2ZM296.5,219.8 294.2,219.2 293.5,218.2 293.8,216.8 295.3,215.3 297.0,215.8 297.9,216.8 296.0,216.7 295.4,217.2 296.6,219.2 296.5,219.8ZM390.1,219.5 388.0,218.4 386.3,219.3 385.3,219.4 384.6,218.8 384.6,218.2 386.3,217.0 386.7,215.8 388.0,215.8 389.4,216.8 390.1,219.5ZM319.2,220.8 315.3,220.0 314.8,219.5 317.3,218.2 318.3,216.5 319.3,216.1 319.9,219.8 319.2,220.8ZM293.2,221.2 292.0,220.9 290.3,219.3 286.3,219.8 285.8,218.5 288.7,218.0 290.7,216.6 291.7,216.5 293.6,220.5 293.2,221.2ZM327.4,223.5 326.3,222.8 324.2,222.5 323.6,220.8 321.0,220.7 321.0,216.8 325.7,219.0 326.7,218.5 328.0,216.5 328.5,216.5 327.5,220.5 327.4,223.5ZM305.1,224.8 303.7,225.0 302.0,224.4 300.0,224.3 298.9,222.5 299.3,222.0 301.0,221.9 302.6,221.2 303.3,218.8 305.7,217.1 307.8,219.5 308.1,220.5 306.4,223.8 305.1,224.8ZM333.5,219.5 333.0,219.7 331.6,218.5 332.0,217.2 333.8,217.8 333.5,219.5ZM338.8,219.5 337.3,219.6 336.5,218.5 340.0,217.0 341.0,217.4 341.3,218.2 339.9,218.5 338.8,219.5ZM381.5,220.5 379.9,220.5 379.9,219.2 380.7,218.2 383.3,216.9 383.7,219.5 381.5,220.5ZM357.2,224.5 356.3,224.7 353.8,222.8 353.7,221.2 352.9,219.2 355.0,217.3 360.3,218.2 361.6,219.2 361.5,219.8 359.7,221.3 357.2,224.5ZM372.1,218.8 370.0,218.9 369.9,218.5 370.7,217.5 371.7,217.2 372.1,218.8ZM275.6,221.5 275.0,221.7 271.7,219.7 271.0,218.5 272.3,217.9 273.7,218.1 275.5,220.5 275.6,221.5ZM282.4,219.5 281.3,219.5 280.3,218.5 283.3,217.7 284.3,217.8 284.1,218.5 282.4,219.5ZM367.6,222.2 367.0,222.2 366.5,220.2 365.2,218.8 366.3,217.9 368.3,218.3 369.3,220.5 369.1,221.2 367.6,222.2ZM375.7,221.8 372.7,221.7 371.2,220.8 374.2,219.8 374.7,217.6 377.7,218.8 378.3,219.5 378.1,220.5 375.7,221.8ZM301.6,220.8 298.0,220.9 297.7,220.5 298.7,219.0 301.7,218.0 302.1,219.8 301.6,220.8ZM313.7,220.2 312.0,220.1 311.1,218.8 312.0,218.4 313.7,220.2ZM284.2,224.5 283.0,224.6 282.4,224.2 283.2,220.5 284.7,219.3 285.7,222.5 285.0,223.9 284.2,224.5ZM333.0,221.8 332.4,221.5 334.0,220.9 335.0,219.5 335.3,219.7 335.7,220.5 335.5,221.2 333.0,221.8ZM367.0,227.2 365.9,226.8 365.8,225.2 365.3,224.5 361.7,223.2 361.0,222.6 361.0,221.5 362.7,219.8 363.7,219.6 364.5,220.2 365.1,220.8 365.2,222.2 366.3,223.4 368.3,223.5 367.0,227.2ZM280.7,224.2 276.0,223.7 275.3,223.2 277.3,220.2 278.3,221.5 280.3,221.8 280.7,224.2ZM293.0,223.8 290.3,223.1 289.0,224.0 287.3,220.7 288.3,220.5 291.3,221.8 293.2,223.2 293.0,223.8ZM328.7,225.8 328.3,221.8 329.0,220.7 330.0,220.5 331.4,222.5 330.0,223.4 329.4,225.2 328.7,225.8ZM347.9,226.5 346.5,225.8 346.4,223.8 348.3,221.1 350.0,220.3 352.7,222.1 352.8,223.5 352.3,224.0 350.0,224.3 348.7,226.2 347.9,226.5ZM389.9,223.8 389.0,224.2 385.0,222.8 384.6,222.2 384.7,220.8 387.0,220.2 388.7,221.2 391.3,221.2 391.6,222.5 389.9,223.8ZM321.0,225.2 319.7,224.9 317.3,222.8 316.0,222.9 315.7,221.5 316.3,221.2 320.7,222.2 322.3,222.1 322.7,223.2 321.0,225.2ZM339.3,227.5 338.6,227.5 339.0,225.5 338.6,224.5 337.3,224.0 335.3,224.3 334.1,222.5 335.7,222.6 338.0,221.1 340.9,222.5 341.6,224.8 339.3,227.5ZM345.0,221.2 343.5,221.2 345.0,221.2ZM275.1,232.5 272.0,231.2 273.0,229.8 273.8,227.2 272.2,223.2 272.7,221.8 273.7,222.1 274.7,224.0 278.0,224.6 278.9,225.2 278.7,227.2 279.3,229.2 275.1,232.5ZM297.0,223.8 295.5,223.8 294.9,222.8 295.1,221.8 297.5,222.2 297.0,223.8ZM311.6,226.2 310.7,225.8 311.1,222.5 312.3,221.6 312.2,224.8 311.6,226.2ZM313.4,227.2 312.7,227.3 312.6,226.8 313.0,223.6 314.0,222.0 313.8,223.5 314.3,224.3 317.2,224.5 313.4,227.2ZM343.5,227.5 342.3,227.6 341.9,226.8 342.7,224.8 342.9,222.8 344.3,222.4 344.9,222.8 345.2,226.2 343.5,227.5ZM373.6,229.2 371.3,228.5 369.3,228.7 368.6,227.2 368.8,224.8 369.7,223.5 373.7,223.2 373.4,225.8 374.7,228.2 373.6,229.2ZM385.3,229.2 381.0,229.1 379.6,228.5 379.2,227.5 380.9,225.5 380.2,223.8 380.5,223.2 381.0,223.1 381.3,224.2 382.0,224.7 384.4,224.8 385.3,226.3 388.0,225.5 389.6,226.5 385.3,229.2ZM395.0,226.5 392.7,225.9 392.0,223.8 392.3,223.6 394.0,225.2 396.3,224.3 397.6,224.5 395.0,226.5ZM306.8,227.5 306.0,227.7 304.7,226.9 302.0,227.4 301.3,225.6 302.7,226.0 305.1,225.5 308.0,223.9 309.2,225.5 306.8,227.5ZM361.2,231.8 360.7,231.5 360.2,229.8 358.7,227.6 354.0,226.6 353.7,225.8 354.7,225.4 357.7,225.7 359.7,224.1 363.0,224.7 362.7,226.5 360.3,228.2 361.2,231.8ZM292.8,232.5 288.7,232.1 287.9,231.5 289.1,227.8 290.3,226.2 290.3,224.8 291.0,224.2 295.0,224.8 296.6,225.5 296.3,226.2 294.6,227.2 294.1,228.2 294.3,229.2 295.9,230.8 296.0,231.9 292.8,232.5ZM378.2,227.2 377.7,227.3 376.6,226.2 376.5,225.5 377.0,224.7 379.1,225.2 379.1,225.8 378.2,227.2ZM287.3,225.8 286.4,225.2 286.7,224.8 287.5,225.2 287.3,225.8ZM336.9,228.5 336.3,228.8 333.7,227.5 332.9,226.5 333.7,226.0 335.3,226.2 337.3,225.1 337.7,225.8 336.9,228.5ZM356.0,234.8 354.7,234.8 351.2,232.5 351.0,231.5 352.0,229.5 350.5,226.2 351.0,225.1 352.3,225.2 352.5,226.5 353.3,227.2 357.6,227.8 359.2,230.5 360.3,233.5 357.7,233.8 356.0,234.8ZM286.7,230.5 286.3,230.5 285.4,228.5 284.3,227.5 281.7,227.1 280.0,227.8 279.8,226.8 282.0,225.6 284.7,225.5 286.2,227.5 286.7,230.5ZM321.1,232.2 317.7,231.9 316.1,230.5 315.9,229.5 316.9,228.2 316.5,226.5 317.3,225.4 318.3,225.3 321.7,226.5 322.3,229.8 321.8,231.5 321.1,232.2ZM376.6,227.8 375.2,227.2 374.7,225.8 376.6,227.8ZM296.6,229.2 295.2,228.8 295.2,227.8 297.3,227.2 298.7,226.1 299.0,229.1 297.7,228.7 296.6,229.2ZM326.8,229.5 323.9,228.5 323.8,226.2 325.5,226.5 326.0,227.8 327.1,228.8 326.8,229.5ZM332.9,233.2 331.7,232.9 330.0,230.2 327.9,229.5 328.0,227.9 329.7,226.5 330.3,226.6 331.0,227.5 333.8,229.5 333.7,232.2 332.9,233.2ZM397.5,227.2 397.0,227.2 397.0,226.4 397.9,226.5 397.5,227.2ZM310.7,231.2 309.9,230.8 309.0,229.0 307.7,228.5 308.7,227.1 310.4,227.5 310.5,228.8 311.2,230.2 310.7,231.2ZM303.1,232.5 301.7,232.6 301.0,232.2 300.9,230.2 299.9,228.2 300.3,227.4 302.0,228.6 304.3,228.1 307.0,229.5 307.0,231.0 304.7,231.5 303.1,232.5ZM347.8,232.2 347.0,232.5 345.2,231.8 346.0,229.5 345.4,227.8 348.0,228.1 350.0,227.7 350.6,228.5 350.6,229.5 349.0,231.5 347.8,232.2ZM276.6,236.5 275.2,236.5 275.0,235.2 274.0,233.6 275.7,233.2 277.3,231.7 279.7,231.1 282.3,228.3 283.7,228.0 284.6,228.5 285.3,231.5 286.2,232.5 282.3,233.0 282.3,234.9 279.7,234.8 278.7,233.1 277.7,232.8 277.0,233.8 277.6,235.8 276.6,236.5ZM364.4,231.8 363.3,231.2 362.8,229.8 363.0,228.3 365.3,228.0 367.5,228.5 367.9,229.8 367.1,231.5 364.4,231.8ZM314.6,237.2 313.5,237.2 313.7,234.8 311.7,233.8 311.4,233.2 312.7,228.7 314.6,229.8 317.4,236.2 314.6,237.2ZM336.3,232.5 334.8,232.5 337.0,229.7 338.7,229.0 340.3,228.9 340.5,229.8 340.0,230.5 337.7,230.8 336.3,232.5ZM383.0,233.8 381.3,232.2 379.6,231.5 378.7,229.5 379.0,229.2 381.0,230.2 383.1,232.8 383.0,233.8ZM342.6,230.8 342.0,230.9 342.0,229.9 342.8,230.2 342.6,230.8ZM374.8,233.2 374.0,233.3 373.7,232.8 374.5,231.2 376.3,229.9 377.8,230.5 378.0,231.2 374.8,233.2ZM388.0,233.8 384.3,232.8 384.7,232.2 386.6,231.2 387.0,230.0 388.0,233.8ZM324.8,236.8 324.0,237.0 323.5,236.5 323.5,234.5 322.6,232.8 323.0,232.0 326.7,230.4 328.0,231.4 330.0,232.1 330.7,233.2 330.4,233.8 328.0,234.1 327.0,235.1 325.7,235.6 324.8,236.8ZM372.9,232.5 372.7,232.8 371.7,232.5 370.3,230.8 373.0,230.9 372.9,232.5ZM340.6,235.5 340.0,235.6 339.6,235.2 339.0,232.7 338.0,232.8 338.0,232.2 338.7,231.5 340.0,231.5 340.6,232.2 341.2,234.8 340.6,235.5ZM296.6,238.5 295.7,238.7 295.4,237.8 296.5,234.5 298.3,232.0 299.3,232.0 300.7,233.9 303.1,233.8 303.7,235.8 303.3,236.8 302.3,237.3 298.7,237.0 296.6,238.5ZM307.4,236.2 304.7,236.4 304.4,232.8 305.3,232.5 307.0,232.8 308.9,232.5 309.0,233.5 307.4,236.2ZM343.7,232.5 343.3,232.5 343.7,232.5ZM370.7,236.8 369.7,237.0 365.7,235.6 364.0,234.2 362.8,233.8 362.6,233.2 364.7,232.8 367.0,234.4 367.7,234.2 369.0,232.5 370.7,232.7 372.4,233.8 372.7,235.5 372.3,236.1 370.7,236.8ZM289.1,233.5 287.6,233.2 289.0,232.9 289.1,233.5ZM320.7,237.5 320.0,237.4 317.6,234.5 317.2,233.5 317.6,232.8 321.3,233.3 322.2,234.2 322.3,236.8 321.3,236.3 320.7,237.5ZM380.7,239.2 380.0,238.8 379.5,237.2 379.5,233.2 380.0,232.7 381.1,233.5 382.0,235.5 383.8,236.5 383.3,237.3 381.3,238.0 380.7,239.2ZM347.8,234.5 346.7,234.2 347.0,232.9 348.1,233.5 347.8,234.5ZM293.2,235.2 292.5,234.8 293.0,233.4 293.7,233.2 294.9,233.8 295.0,234.2 293.2,235.2ZM285.6,239.8 284.4,239.8 283.0,237.8 282.8,236.8 285.0,234.3 286.7,233.8 288.0,234.0 290.0,236.5 287.7,236.7 286.9,238.8 285.6,239.8ZM359.9,238.2 358.7,238.3 356.0,236.5 357.0,235.9 359.3,236.2 360.3,234.4 361.7,233.9 362.0,234.5 361.5,236.5 359.9,238.2ZM388.5,236.5 387.3,236.6 386.8,235.8 390.0,234.3 392.5,233.8 391.6,235.5 388.5,236.5ZM338.7,237.5 338.0,237.8 334.7,237.4 333.0,235.2 333.0,234.5 334.7,234.3 336.1,235.8 338.5,236.5 338.7,237.5ZM348.6,236.8 345.0,236.8 343.6,234.8 345.0,234.3 348.0,235.5 350.0,234.7 350.1,235.8 348.6,236.8ZM381.3,241.2 375.7,240.9 376.0,238.8 373.6,236.2 373.5,234.5 378.1,234.8 377.7,235.9 376.0,235.7 375.7,236.2 377.3,237.0 378.5,238.8 381.3,241.2ZM393.3,237.5 392.3,237.4 392.0,236.8 393.3,235.8 394.0,236.5 393.3,237.5ZM279.6,237.8 278.4,237.8 279.3,236.2 281.3,236.2 281.6,237.2 279.6,237.8ZM329.7,240.2 329.3,236.1 330.6,237.5 330.4,239.5 329.7,240.2ZM343.4,241.8 342.7,242.0 341.9,240.5 340.0,239.2 339.9,237.5 340.7,236.4 341.7,236.4 342.7,238.0 344.4,238.2 343.4,241.8ZM311.5,237.5 311.0,237.6 310.9,237.2 311.5,237.5ZM275.3,240.8 273.7,240.6 272.8,238.8 274.3,237.7 276.3,237.4 276.7,237.5 276.5,238.5 275.3,240.8ZM311.3,242.2 310.1,241.8 310.3,238.7 312.7,238.8 317.0,237.2 318.6,237.8 318.4,238.8 317.0,239.6 315.7,241.1 313.3,241.3 311.3,242.2ZM392.5,239.8 389.0,239.9 386.8,238.8 387.7,237.7 389.7,237.4 392.7,238.5 393.1,239.2 392.5,239.8ZM297.2,240.2 295.7,240.5 294.9,240.2 299.0,237.9 301.4,238.2 301.0,239.3 300.0,239.2 297.2,240.2ZM349.5,246.2 348.7,245.8 348.8,243.5 346.7,242.2 347.3,240.5 346.8,238.2 353.2,237.8 353.6,238.5 353.4,240.2 351.5,241.8 353.1,243.2 349.5,246.2ZM292.5,245.2 291.3,244.9 288.3,242.9 287.9,241.8 288.6,240.2 290.3,239.1 291.0,239.4 292.0,238.1 293.9,238.8 294.4,241.5 292.5,245.2ZM324.8,243.8 322.7,243.8 320.7,241.7 319.0,240.9 318.8,240.2 319.3,239.2 322.0,238.9 323.7,238.0 326.7,238.5 328.0,240.2 326.0,241.2 324.8,243.8ZM367.0,244.5 365.6,244.5 365.0,243.2 365.3,242.3 366.3,242.5 367.3,241.8 369.2,238.5 371.3,238.1 372.3,238.5 372.3,239.8 370.6,242.5 367.0,244.5ZM376.1,243.8 375.7,244.0 373.0,240.8 373.7,238.0 374.3,238.0 375.0,238.8 374.5,241.8 376.1,243.8ZM307.8,240.2 305.3,240.0 304.2,239.5 303.9,238.8 305.0,238.3 306.3,239.1 308.0,239.1 308.3,239.5 307.8,240.2ZM384.1,240.2 383.3,239.8 383.5,238.8 385.6,238.5 385.3,239.5 384.1,240.2ZM337.2,243.2 336.0,243.3 331.3,241.4 330.9,240.5 331.3,239.2 334.3,239.4 336.3,238.6 338.3,239.5 339.6,240.8 337.3,241.7 337.2,243.2ZM302.1,239.5 302.0,239.1 302.1,239.5ZM363.2,240.5 361.9,239.8 361.7,239.0 363.0,239.3 363.2,240.5ZM361.1,242.8 360.0,243.0 358.7,241.8 356.9,241.2 356.9,239.8 358.3,239.4 358.0,240.3 359.7,240.4 361.4,241.5 361.1,242.8ZM281.4,244.5 277.3,242.2 276.5,240.5 276.7,239.7 280.3,239.7 281.3,240.2 281.8,240.8 281.3,242.5 281.4,244.5ZM283.2,243.5 282.0,243.4 282.3,241.9 287.1,240.2 286.9,242.8 285.0,242.8 283.2,243.5ZM345.0,242.5 344.7,242.8 344.2,242.2 344.7,240.7 345.5,241.2 345.0,242.5ZM393.0,245.8 391.3,245.9 390.2,244.8 389.9,242.8 390.7,240.8 393.0,241.1 395.0,243.1 394.2,245.2 393.0,245.8ZM301.9,243.8 300.0,243.8 299.9,242.5 300.7,240.9 301.8,241.8 301.9,243.8ZM308.3,249.5 307.7,249.8 303.7,248.8 303.2,248.5 302.7,246.7 300.5,246.2 300.3,245.5 303.3,245.3 305.3,241.5 308.3,241.3 308.7,241.8 307.3,243.8 307.0,245.8 308.0,247.5 309.2,247.8 308.3,249.5ZM386.4,241.5 385.9,241.5 386.4,241.5ZM317.3,243.2 317.0,243.5 316.3,243.0 316.3,241.8 317.3,242.2 317.3,243.2ZM356.3,246.2 355.0,246.2 354.7,244.8 355.0,243.2 356.3,242.0 358.0,242.8 359.3,244.2 358.3,244.6 357.3,242.8 356.3,242.7 355.8,243.8 356.4,245.5 356.3,246.2ZM310.1,244.8 309.3,244.8 308.8,244.2 309.0,243.0 310.7,243.2 313.0,242.3 313.7,242.5 312.9,243.8 310.1,244.8ZM378.1,254.8 375.7,254.1 372.3,254.8 371.0,253.8 368.7,253.6 364.7,252.4 363.7,251.5 363.5,250.5 364.0,249.8 366.0,249.2 363.7,248.7 362.3,247.8 362.7,243.5 363.7,243.2 365.5,245.5 366.3,245.9 369.3,244.9 372.0,242.5 373.0,242.4 375.0,245.2 375.0,247.2 376.0,248.5 377.7,248.8 380.7,248.3 381.5,248.8 380.7,252.5 378.1,254.8ZM381.0,242.5 380.2,242.5 381.0,242.5ZM277.3,247.8 274.7,247.5 271.0,245.4 270.5,244.2 272.3,243.3 275.7,243.2 278.4,246.5 277.3,247.8ZM340.7,249.8 336.3,250.0 335.7,248.5 335.0,248.1 333.7,249.9 333.3,250.0 333.2,249.5 336.3,244.8 338.0,245.1 339.0,243.1 342.0,243.0 342.4,243.5 340.6,248.2 340.7,249.8ZM385.4,248.2 384.3,248.1 383.2,246.8 383.6,244.2 386.0,242.9 387.7,243.7 389.0,243.6 389.7,246.0 389.0,246.2 386.7,245.8 386.2,247.5 385.4,248.2ZM332.1,250.2 330.3,249.9 329.9,249.2 330.7,247.5 330.4,245.2 332.0,243.2 333.7,244.2 334.3,245.2 332.1,250.2ZM349.3,248.8 347.7,248.7 346.2,246.8 347.0,243.2 348.1,243.8 347.2,246.2 348.0,247.0 350.2,246.8 352.0,245.5 352.7,245.5 352.0,247.5 349.3,248.8ZM287.0,250.8 285.7,251.0 284.6,249.2 282.5,248.2 282.6,245.5 284.7,244.0 287.0,244.7 289.0,244.2 291.1,245.8 289.5,247.8 290.9,250.2 287.0,250.8ZM327.4,246.8 325.0,246.9 324.6,246.2 325.7,245.1 328.0,244.5 328.9,245.5 327.4,246.8ZM377.5,247.8 376.6,247.5 376.9,246.5 381.0,244.3 381.7,244.5 381.7,247.3 377.5,247.8ZM315.4,246.5 314.9,246.5 314.9,245.2 316.3,244.8 315.4,246.5ZM320.4,248.5 319.7,248.7 318.7,246.8 317.0,246.9 316.6,246.5 319.5,245.8 321.0,244.8 322.0,244.9 323.0,246.2 320.4,248.5ZM280.7,245.8 279.7,246.0 279.6,245.5 280.3,245.1 280.7,245.8ZM296.6,250.5 295.4,250.2 293.6,247.8 295.3,245.4 298.3,246.4 299.2,247.5 297.7,248.7 296.6,250.5ZM348.0,251.5 347.3,251.7 344.3,249.8 342.8,246.8 343.0,246.3 345.8,247.8 348.0,251.5ZM395.0,253.8 393.0,254.1 391.7,253.7 389.7,251.4 387.0,253.4 386.1,253.2 385.6,252.2 386.8,250.2 389.3,249.2 391.3,247.0 393.3,247.4 395.0,246.7 398.2,250.2 397.3,251.9 395.0,253.8ZM278.4,249.2 277.5,249.2 279.3,247.4 281.6,247.2 281.3,247.7 279.7,248.1 278.4,249.2ZM314.3,248.8 312.8,247.8 312.7,246.9 313.3,247.3 314.3,248.8ZM325.4,252.2 324.7,252.2 323.8,251.2 323.1,247.8 323.3,247.5 324.6,248.2 324.5,249.5 325.5,251.5 325.4,252.2ZM358.0,248.8 357.0,249.0 354.1,248.2 355.0,247.4 359.0,248.2 358.0,248.8ZM385.4,249.5 384.6,249.5 388.2,247.5 389.5,247.5 388.7,248.4 385.4,249.5ZM291.8,248.8 291.0,248.8 291.0,247.7 292.4,247.8 291.8,248.8ZM315.9,250.5 315.0,250.5 315.8,248.8 317.3,248.8 317.2,249.8 315.9,250.5ZM357.1,254.8 354.3,255.0 352.3,254.0 348.7,253.2 348.5,252.5 350.3,251.1 351.3,249.0 352.7,248.8 355.0,249.4 357.7,251.1 359.0,253.5 357.1,254.8ZM297.1,251.8 296.3,252.1 295.6,251.5 297.0,251.0 298.7,249.1 300.0,248.9 302.1,249.8 297.1,251.8ZM310.1,254.8 308.7,254.6 308.8,252.8 308.3,251.2 310.7,249.2 311.7,248.9 312.4,249.5 311.6,251.2 312.0,253.2 310.1,254.8ZM358.9,250.2 358.4,249.8 358.7,249.3 360.2,249.2 360.0,249.9 358.9,250.2ZM322.8,253.2 322.3,253.5 320.0,251.7 318.2,251.2 322.3,249.4 322.8,253.2ZM385.2,254.5 383.7,254.2 382.3,252.8 382.0,251.5 382.3,249.5 383.3,252.2 385.6,253.8 385.2,254.5ZM280.1,257.2 278.3,257.2 276.4,256.5 275.9,254.5 276.1,251.8 276.3,251.4 277.3,251.3 280.3,252.7 281.3,252.8 282.3,251.8 281.5,250.2 282.3,249.6 283.7,249.6 284.4,250.5 285.3,254.5 284.0,255.2 281.3,255.5 280.1,257.2ZM302.4,254.2 301.3,254.4 300.7,253.9 300.3,251.5 301.0,250.9 303.0,250.9 304.3,249.7 305.7,251.5 308.0,252.8 307.3,254.1 304.3,253.0 302.4,254.2ZM291.6,254.2 290.7,254.0 289.7,252.2 289.0,251.8 287.3,252.0 286.3,253.0 285.9,252.2 287.7,251.1 290.3,251.0 291.9,252.2 292.1,253.5 291.6,254.2ZM329.2,260.2 328.0,260.5 326.8,259.8 325.0,255.2 327.7,252.7 328.7,251.0 331.7,251.1 332.2,257.8 330.7,258.3 329.2,260.2ZM340.1,257.2 336.7,257.5 333.3,256.2 332.8,255.2 332.6,251.5 335.7,251.7 338.3,250.8 339.7,251.1 341.1,254.5 340.1,257.2ZM343.8,251.8 342.0,252.0 341.7,251.5 342.7,250.9 344.3,251.5 343.8,251.8ZM363.7,254.8 363.3,255.2 362.3,254.1 361.2,253.8 361.6,251.2 362.3,251.3 363.8,252.8 363.7,254.8ZM317.9,256.8 317.0,256.6 316.4,254.8 314.3,255.0 313.7,254.5 314.0,252.2 316.3,252.3 317.3,253.6 319.3,254.8 317.9,256.8ZM274.4,259.2 273.7,259.1 271.9,257.5 270.9,255.8 270.5,253.2 271.3,252.2 274.5,253.8 274.8,255.8 274.4,259.2ZM288.8,257.5 284.7,257.6 283.0,257.0 282.4,256.2 287.4,255.8 287.9,255.2 287.5,253.2 288.7,252.6 289.4,254.8 290.5,255.8 288.8,257.5ZM296.5,257.2 294.5,256.2 294.3,253.8 295.0,252.6 296.3,253.2 298.0,252.8 298.2,255.2 297.0,256.1 296.5,257.2ZM346.0,259.8 342.3,259.5 340.7,258.2 342.3,255.2 345.7,253.5 347.3,254.1 347.8,255.8 347.6,257.8 346.0,259.8ZM366.7,261.2 366.0,261.5 364.7,261.1 363.2,259.5 364.2,258.2 364.3,256.8 365.4,255.8 365.8,254.2 366.3,253.7 370.3,254.6 370.5,256.8 371.7,258.8 370.0,260.4 366.7,261.2ZM352.0,258.5 350.7,258.3 349.8,256.8 348.7,256.1 348.3,254.5 348.7,254.2 351.7,254.5 354.3,256.7 354.0,257.5 352.0,258.5ZM380.0,261.5 378.0,261.5 374.0,257.6 372.0,257.2 371.6,256.5 375.3,254.9 378.0,256.2 380.7,254.1 382.0,254.2 383.5,255.5 381.9,256.8 383.4,259.2 380.7,259.3 379.0,258.7 378.5,260.2 379.0,260.7 380.0,259.8 380.0,261.5ZM314.2,262.5 306.0,259.5 304.3,257.3 303.1,256.5 303.7,254.8 304.7,254.4 306.0,255.3 309.7,256.0 312.3,254.9 314.7,256.2 315.7,258.2 313.6,259.8 313.5,260.8 314.2,262.5ZM324.7,258.8 324.2,258.8 323.0,257.4 321.7,257.5 320.0,258.8 318.6,257.8 321.3,254.7 322.7,254.6 323.4,255.2 324.7,258.8ZM299.3,259.2 296.7,259.4 294.3,258.5 292.7,258.5 292.0,257.5 292.0,255.7 293.0,255.4 293.3,257.4 296.3,258.6 300.8,258.2 300.6,258.8 299.3,259.2ZM387.1,261.2 384.6,260.2 384.1,257.2 385.0,256.0 387.6,258.2 387.1,261.2ZM361.1,260.8 359.3,260.2 358.3,260.7 357.8,257.5 358.3,257.4 360.9,258.8 361.4,259.8 361.1,260.8ZM281.0,261.8 279.3,261.9 277.3,260.7 275.7,260.5 275.3,259.8 276.0,257.8 280.3,259.2 282.3,259.2 282.8,259.8 282.6,261.5 281.0,261.8ZM289.7,262.8 286.0,263.2 284.3,262.5 283.9,261.8 286.5,258.8 290.7,257.5 292.4,260.5 291.0,261.1 289.7,262.8ZM307.0,260.5 305.3,260.7 302.7,258.5 303.3,257.9 304.0,258.1 305.4,259.8 307.0,260.5ZM334.8,262.5 334.3,262.2 334.7,258.5 339.1,258.2 337.7,261.0 334.8,262.5ZM352.4,265.8 351.2,265.8 350.2,264.2 349.0,263.2 350.2,260.2 352.0,260.0 354.7,258.2 356.7,258.0 356.9,260.2 355.6,261.2 352.4,265.8ZM393.7,259.8 392.4,259.8 393.3,258.4 394.3,258.5 395.1,259.2 393.7,259.8ZM318.1,262.5 316.3,262.5 315.0,260.5 315.1,259.8 317.7,259.1 318.8,259.5 319.2,260.2 319.0,261.8 318.1,262.5ZM324.7,262.2 323.2,262.2 321.7,260.2 321.5,259.2 326.2,260.8 326.3,261.5 324.7,262.2ZM372.2,266.8 371.7,266.9 370.9,265.5 367.7,262.7 367.4,261.8 368.0,261.4 369.3,261.6 370.6,263.5 371.7,263.7 372.3,262.8 371.8,260.2 373.7,259.0 376.0,260.8 377.1,263.8 375.7,265.7 372.2,266.8ZM331.8,260.2 331.0,260.3 330.7,259.8 331.3,259.3 331.8,260.2ZM341.9,268.2 341.0,267.9 339.8,265.5 337.7,264.0 337.4,262.5 338.3,261.9 340.0,259.4 341.3,260.8 343.7,260.6 345.7,261.2 347.3,260.4 347.5,261.2 346.5,263.5 347.9,265.2 347.9,266.2 341.9,268.2ZM303.0,267.5 302.3,267.7 300.0,266.1 298.0,266.7 297.0,266.3 296.5,263.2 297.3,261.1 299.0,260.0 301.7,259.8 302.2,260.5 302.0,262.2 304.0,261.4 307.9,261.5 307.2,263.8 305.9,265.2 304.3,265.9 303.0,267.5ZM390.4,262.2 389.3,262.2 388.7,261.6 388.4,259.8 391.0,261.5 390.4,262.2ZM295.5,265.5 292.7,265.3 292.0,264.5 292.7,262.8 294.2,261.8 294.3,260.2 294.7,259.8 295.9,261.2 295.5,265.5ZM310.7,262.8 309.7,262.7 308.7,261.5 309.0,261.2 311.4,262.2 310.7,262.8ZM329.6,265.8 329.0,266.1 327.3,264.7 325.7,264.5 326.7,262.7 328.0,261.6 329.7,261.7 331.7,263.5 329.6,265.8ZM365.7,269.8 364.7,269.8 362.0,268.5 359.7,268.5 358.9,264.2 362.3,262.6 363.3,261.5 365.0,262.3 366.6,265.2 365.7,266.1 364.3,266.2 365.7,267.8 366.1,269.2 365.7,269.8ZM322.9,267.5 321.7,267.4 320.0,265.7 318.1,265.2 317.7,264.0 319.3,263.5 321.0,262.1 323.0,263.8 325.1,263.2 324.3,264.9 323.3,265.7 322.9,267.5ZM375.7,264.3 376.2,262.8 374.7,262.0 374.4,263.8 375.0,264.4 375.7,264.3ZM385.5,266.8 383.3,266.9 382.3,266.4 381.2,265.2 381.2,263.8 385.3,262.2 386.3,266.2 385.5,266.8ZM279.4,269.5 278.0,269.3 277.4,268.2 278.5,266.5 278.8,264.8 280.0,263.1 280.7,262.8 281.4,263.5 280.6,265.8 281.2,268.8 279.4,269.5ZM378.0,267.8 376.7,267.9 376.6,266.5 378.4,263.2 379.7,263.0 380.1,263.5 380.0,265.2 378.8,266.2 378.0,267.8ZM291.4,270.5 290.7,270.7 288.3,269.5 287.9,264.8 288.7,263.9 291.0,263.5 291.5,265.8 293.9,267.2 293.9,268.2 291.4,270.5ZM390.2,266.8 389.7,267.0 387.0,265.3 386.7,264.5 387.0,263.6 391.1,263.5 391.4,264.2 390.2,266.8ZM286.0,270.8 283.3,271.2 282.9,270.8 282.7,268.7 281.6,266.2 282.3,264.5 284.7,264.7 286.3,263.8 287.3,263.9 287.4,268.2 286.0,270.8ZM354.4,272.5 353.0,272.2 351.4,270.2 352.3,267.5 353.6,266.8 354.7,264.4 355.7,264.0 358.0,265.1 358.5,266.8 358.2,267.5 356.0,268.8 355.1,271.8 354.4,272.5ZM308.0,264.8 307.9,264.5 308.0,264.8ZM315.3,269.2 314.3,269.2 312.6,267.5 312.6,266.2 313.3,264.4 316.3,264.8 319.7,266.7 320.4,267.8 320.0,268.9 318.3,267.8 315.3,269.2ZM332.2,269.8 331.1,269.5 330.8,265.8 331.3,265.3 333.7,265.3 335.3,264.7 335.4,266.2 332.2,269.8ZM367.4,266.8 367.2,266.5 368.3,265.1 370.4,266.5 367.4,266.8ZM337.9,273.5 336.7,273.5 336.0,272.5 337.0,266.8 337.6,265.8 338.3,265.7 339.3,266.2 340.0,268.8 341.4,270.2 341.6,270.8 337.9,273.5ZM391.6,267.8 391.0,267.9 390.9,267.5 391.7,266.0 395.7,266.2 395.0,267.0 391.6,267.8ZM309.6,271.8 309.0,272.1 306.0,271.5 303.9,269.5 303.6,268.2 305.0,266.9 309.0,266.3 309.9,268.2 313.0,268.8 313.0,269.8 309.6,271.8ZM295.6,271.5 294.0,271.6 292.5,270.5 293.1,269.5 295.0,268.7 295.3,267.1 300.0,267.6 300.1,268.5 299.7,269.1 297.0,270.3 295.6,271.5ZM386.7,273.8 386.0,273.8 385.1,272.5 385.2,268.2 388.3,267.2 389.5,268.5 389.2,270.5 386.7,273.8ZM349.6,268.5 349.3,268.8 349.2,267.8 350.0,267.2 350.4,267.5 349.6,268.5ZM368.3,272.2 367.2,272.2 367.5,268.5 368.0,267.6 369.0,267.3 369.8,267.8 369.9,268.8 368.8,271.8 368.3,272.2ZM346.2,275.5 344.6,275.5 342.5,270.5 343.7,268.5 348.0,267.7 348.1,270.2 346.8,271.2 346.7,271.9 347.7,272.4 350.0,272.0 350.7,272.8 349.0,275.3 346.2,275.5ZM396.0,274.2 395.0,274.3 393.0,273.3 391.1,271.5 390.4,269.5 393.0,268.1 394.7,267.8 395.0,269.8 396.7,272.8 396.0,274.2ZM384.4,274.5 383.0,274.6 381.7,273.3 379.7,273.4 379.4,271.8 380.3,270.2 380.3,268.1 383.0,269.2 384.5,273.5 384.4,274.5ZM360.6,273.8 359.0,273.9 356.5,271.5 356.2,270.2 356.7,269.0 358.0,268.9 360.6,273.8ZM374.0,275.5 370.9,273.8 370.7,273.2 373.3,270.4 379.0,268.7 379.4,269.8 378.7,271.2 376.5,271.8 375.1,274.5 374.0,275.5ZM302.0,271.5 300.3,271.6 299.5,270.5 301.4,269.2 302.3,269.2 302.7,269.8 302.0,271.5ZM322.0,278.8 317.5,278.2 315.3,276.0 313.2,275.2 314.8,274.2 315.3,271.7 317.3,269.0 318.3,269.2 319.8,270.8 320.0,272.7 320.7,273.2 321.4,272.8 321.6,271.2 322.3,270.4 324.0,270.0 325.4,270.8 325.5,272.5 323.7,275.8 323.6,277.5 322.0,278.8ZM329.2,273.2 328.0,273.3 326.4,272.2 326.3,271.2 327.0,270.3 330.0,269.4 330.2,270.5 332.0,270.8 332.2,271.5 331.7,272.2 329.2,273.2ZM363.1,273.2 362.3,273.4 361.8,272.8 361.0,270.5 361.7,269.7 366.0,271.2 365.3,272.4 363.1,273.2ZM289.8,277.8 289.3,278.1 288.0,277.7 286.9,276.2 285.1,275.2 288.3,270.7 289.4,271.2 290.0,273.5 292.2,274.5 291.9,275.5 290.3,276.8 289.8,277.8ZM296.8,278.8 294.7,279.1 293.7,278.3 293.4,276.5 294.1,275.2 293.1,272.8 295.7,272.6 296.7,271.5 297.7,271.1 298.4,271.8 298.7,273.8 299.4,274.5 298.2,275.8 298.0,278.0 296.8,278.8ZM307.1,274.5 302.3,273.9 301.5,273.2 304.0,271.1 305.3,272.5 307.0,273.0 307.1,274.5ZM279.8,276.5 279.1,276.5 277.4,273.2 277.7,272.4 280.0,271.6 280.7,272.3 281.5,274.5 281.0,275.6 279.8,276.5ZM283.9,274.8 283.3,275.1 282.5,274.5 282.3,272.1 284.3,272.8 283.9,274.8ZM311.8,273.5 310.7,273.7 310.7,272.5 312.0,272.3 311.8,273.5ZM330.5,278.5 329.0,278.6 328.2,277.2 326.4,276.2 326.0,274.2 326.3,273.3 327.7,274.4 332.3,273.4 335.0,273.6 338.0,274.7 341.7,272.1 343.0,273.5 342.9,276.5 342.0,277.9 337.3,277.5 334.7,275.9 332.0,275.7 331.0,275.1 330.4,275.5 331.9,276.2 332.1,277.2 330.5,278.5ZM378.7,275.2 376.9,273.5 377.3,272.3 378.3,272.8 378.7,275.2ZM398.5,276.8 395.3,276.0 391.3,274.1 390.8,275.2 389.3,275.4 388.3,276.4 387.7,275.8 387.5,274.5 388.4,273.2 389.7,272.4 391.0,272.6 395.3,275.0 396.3,275.0 398.0,274.0 398.5,276.8ZM351.0,277.5 350.2,277.2 349.9,275.8 351.9,272.8 354.8,273.5 354.7,274.5 353.7,275.2 352.0,275.5 351.6,277.2 351.0,277.5ZM316.3,274.9 316.8,274.2 316.3,273.9 315.6,274.5 316.3,274.9ZM370.8,279.8 370.3,279.8 370.0,279.2 369.8,276.8 367.7,275.8 367.3,274.1 372.0,276.2 372.4,278.5 372.0,279.3 370.8,279.8ZM363.3,276.5 362.3,276.7 361.6,276.2 363.3,274.5 364.3,274.3 366.5,274.8 366.3,275.8 364.4,275.8 363.3,276.5ZM356.7,279.2 355.7,278.9 355.0,277.2 355.2,275.5 356.3,274.7 359.3,275.5 359.8,276.8 359.0,278.5 356.7,279.2ZM304.8,279.8 303.0,278.5 300.9,278.5 300.4,276.5 300.6,275.8 302.3,275.0 305.0,275.2 305.1,275.8 304.2,277.8 304.8,279.8ZM382.8,277.5 381.9,277.2 382.6,276.2 384.3,276.1 386.0,275.4 386.7,275.8 386.3,277.1 384.3,276.6 382.8,277.5ZM394.0,279.2 393.0,279.4 392.3,279.0 392.3,275.2 396.3,277.5 394.0,279.2ZM306.9,284.5 306.0,284.6 305.7,283.8 306.7,278.2 310.3,277.8 312.3,276.4 314.7,276.9 316.7,278.5 315.7,280.5 312.0,283.6 310.0,283.8 308.0,281.7 306.9,284.5ZM373.7,278.8 373.2,278.2 374.0,277.4 377.0,276.3 378.1,276.8 378.0,277.5 375.7,277.7 373.7,278.8ZM288.2,280.8 286.7,281.1 284.3,280.2 282.0,280.8 280.2,279.2 279.9,277.8 280.3,277.1 281.3,276.7 284.0,277.9 286.0,277.4 288.8,279.5 288.2,280.8ZM335.5,284.8 334.7,285.1 333.6,284.8 331.3,282.1 330.0,282.2 329.3,280.8 329.7,279.8 332.3,278.3 333.7,276.8 335.0,277.0 337.0,278.6 338.6,278.8 337.3,281.4 335.8,283.2 335.5,284.8ZM366.9,284.8 365.7,285.1 364.2,284.5 362.7,281.2 363.3,279.2 365.4,277.2 366.3,276.8 368.7,277.2 369.1,277.8 367.8,279.5 368.2,281.2 366.9,284.8ZM278.1,279.2 276.5,278.5 276.7,277.5 278.3,278.0 278.1,279.2ZM327.4,283.5 324.0,280.2 324.0,279.5 325.3,278.5 325.3,277.5 325.7,277.2 326.9,277.5 327.8,278.5 327.7,280.5 328.3,281.8 327.4,283.5ZM382.3,279.5 381.3,279.6 379.7,277.5 380.7,277.5 382.3,279.5ZM390.9,278.2 390.5,278.2 391.0,277.4 390.9,278.2ZM344.4,283.8 342.3,283.9 340.4,282.2 340.2,281.2 341.0,278.7 344.3,278.2 346.8,280.8 346.8,282.5 345.3,283.0 344.4,283.8ZM387.0,280.2 385.0,280.2 384.5,279.5 386.0,278.2 388.5,279.2 387.0,280.2ZM276.5,284.8 274.0,284.5 271.8,281.5 271.9,280.5 273.3,280.6 274.3,278.8 275.1,278.8 276.2,279.8 275.5,283.2 276.7,284.5 276.5,284.8ZM297.7,283.8 295.7,284.0 294.0,282.6 293.0,282.3 289.7,284.0 289.0,283.5 288.9,282.5 289.3,281.5 292.0,278.9 293.9,280.2 295.7,280.6 298.0,280.4 299.3,279.3 300.2,280.2 300.4,281.2 297.7,283.8ZM318.7,284.5 318.3,284.8 316.0,283.6 312.9,284.2 314.7,282.3 316.7,281.4 317.7,279.0 322.3,280.1 324.6,282.5 324.3,283.4 323.3,283.6 321.3,282.0 319.3,281.8 318.3,283.2 318.7,284.5ZM352.8,286.2 351.2,286.2 350.4,284.5 348.3,283.2 348.7,281.2 351.3,279.0 352.4,279.5 353.2,282.5 352.8,286.2ZM377.4,279.8 376.7,280.0 376.6,279.2 377.7,279.0 377.4,279.8ZM304.4,285.5 302.0,285.5 301.8,283.2 302.5,281.2 301.9,280.2 302.3,279.7 303.3,279.8 304.4,281.2 304.9,284.2 304.4,285.5ZM377.8,283.2 377.0,283.3 373.7,281.6 373.0,280.8 373.0,280.0 374.3,279.9 377.0,281.8 378.7,280.8 378.5,282.2 377.8,283.2ZM358.1,287.8 356.3,287.2 353.8,284.5 354.7,281.9 358.0,280.1 358.9,280.5 359.0,281.5 360.3,282.0 361.0,283.8 359.3,284.6 359.2,287.2 358.1,287.8ZM393.7,286.8 389.0,286.9 389.4,284.2 387.8,281.5 388.3,280.5 389.3,280.1 390.7,281.2 392.3,280.5 393.6,280.8 393.4,282.8 394.1,285.2 393.7,286.8ZM280.2,283.2 279.6,283.2 279.4,282.5 280.3,281.8 280.8,282.5 280.2,283.2ZM338.9,286.8 338.2,286.5 337.1,284.2 338.3,282.1 339.7,284.2 338.9,286.8ZM384.9,289.2 383.7,289.2 382.0,286.8 379.5,286.2 379.1,285.2 379.7,283.9 382.0,282.8 383.0,282.8 384.0,283.5 386.7,282.5 387.7,282.7 388.5,284.2 388.1,287.5 386.3,287.8 384.9,289.2ZM369.1,287.8 368.3,288.0 366.4,286.5 369.7,283.9 371.3,283.8 373.0,282.8 373.7,283.1 374.0,284.2 373.6,285.2 369.1,287.8ZM299.6,286.8 298.7,287.1 297.9,286.2 300.3,283.5 300.9,285.2 299.6,286.8ZM341.9,289.8 339.8,287.5 340.9,284.8 341.7,284.4 344.3,284.7 346.1,283.8 345.7,288.5 345.0,289.1 341.9,289.8ZM379.4,288.8 376.0,289.1 375.4,288.5 375.4,287.2 375.0,286.9 372.0,288.1 371.2,287.8 374.0,285.8 375.0,283.8 375.7,283.5 376.3,283.9 377.4,285.8 379.7,287.5 380.0,288.4 379.4,288.8ZM327.3,286.8 326.3,287.0 325.6,285.8 327.6,285.2 329.0,284.1 330.8,284.8 327.3,286.8ZM352.9,291.5 352.7,291.8 351.7,291.3 350.3,289.3 347.4,287.2 346.7,285.8 347.1,284.2 349.3,285.2 350.6,287.2 353.6,287.5 355.8,289.8 355.3,290.5 353.7,290.2 352.9,291.5ZM279.6,293.2 278.7,293.3 277.3,291.2 278.6,285.8 281.3,284.4 283.0,284.4 284.7,285.2 286.0,284.5 286.4,285.2 286.0,285.7 284.7,285.8 283.9,286.5 283.2,291.8 282.3,292.5 280.7,292.6 279.6,293.2ZM292.4,289.2 290.0,289.3 288.6,287.5 290.0,285.3 292.3,284.3 294.3,285.2 292.9,286.5 292.4,289.2ZM287.4,286.8 287.0,286.5 287.7,284.6 288.1,285.8 287.4,286.8ZM312.4,289.2 309.7,289.0 308.9,288.5 308.5,287.2 309.7,284.8 311.0,285.2 312.6,288.2 312.4,289.2ZM362.4,289.2 361.7,289.2 361.6,287.5 361.9,286.2 363.0,284.7 364.3,286.2 363.8,287.5 362.4,289.2ZM306.6,287.2 305.7,287.5 305.4,287.2 305.5,285.8 308.0,284.9 307.8,286.2 306.6,287.2ZM321.4,285.8 320.7,285.8 320.7,285.2 321.4,285.8ZM274.1,291.8 272.8,291.2 271.7,288.5 274.0,286.3 275.0,286.0 275.7,286.8 275.1,289.2 275.8,291.2 275.3,291.5 274.3,291.2 274.1,291.8ZM338.8,292.8 336.7,292.0 334.3,292.4 332.7,289.8 332.8,288.5 336.0,286.0 337.0,286.1 340.4,289.8 340.1,291.5 338.8,292.8ZM304.1,289.5 302.7,288.5 300.0,289.0 299.4,288.2 303.3,286.4 304.2,287.5 304.5,289.2 304.1,289.5ZM333.0,294.2 331.7,294.1 331.0,292.8 329.9,291.8 330.0,290.2 328.1,287.8 328.1,287.2 330.3,286.3 332.3,286.5 331.5,288.8 332.3,291.2 333.5,292.8 333.6,293.5 333.0,294.2ZM294.0,294.5 293.3,294.6 293.3,294.2 294.3,292.2 294.0,291.7 292.4,291.2 293.7,289.5 294.8,286.8 296.0,286.7 297.9,287.5 298.4,288.2 296.8,291.5 294.0,294.5ZM318.6,295.8 315.7,295.9 313.1,294.2 313.8,292.5 313.4,290.2 313.6,288.2 314.7,287.1 315.5,287.2 317.4,290.5 317.7,292.8 320.1,295.2 318.6,295.8ZM320.7,300.2 319.7,299.5 319.3,298.5 320.7,297.2 321.6,294.8 318.3,291.8 318.7,291.0 319.8,290.5 320.0,289.5 318.7,289.4 318.0,288.8 321.0,287.1 324.3,287.1 328.0,288.8 329.0,289.8 329.2,290.8 327.9,291.8 327.8,293.5 324.5,298.5 321.7,299.4 320.7,300.2ZM292.3,293.8 291.7,294.1 288.3,292.8 287.0,293.6 286.0,293.5 285.5,291.5 284.1,290.5 284.1,289.5 286.4,288.5 287.8,288.5 292.3,293.8ZM364.6,293.8 362.4,293.2 364.2,291.8 364.2,289.2 364.7,288.7 365.5,289.2 366.7,291.8 365.7,292.6 364.6,292.2 364.6,293.8ZM390.4,293.8 387.3,294.0 386.4,293.5 386.8,292.2 385.6,290.5 386.3,289.1 389.0,288.5 390.0,289.2 391.6,292.5 390.4,293.8ZM346.4,296.5 344.7,295.8 343.0,293.0 341.0,292.5 342.7,290.4 345.0,290.5 347.0,289.2 348.0,289.1 349.4,289.8 351.4,292.2 352.4,294.5 349.3,294.9 346.4,296.5ZM380.4,293.5 376.3,293.4 375.8,291.8 376.6,290.5 377.7,289.8 380.0,289.8 381.7,289.1 383.4,289.8 383.8,290.8 380.4,293.5ZM359.2,289.5 357.8,289.5 359.2,289.5ZM311.6,294.5 307.0,294.8 305.3,293.1 303.7,294.1 303.4,293.8 304.6,290.8 305.7,289.9 306.7,289.7 309.4,290.5 309.0,291.8 309.3,292.5 312.0,292.8 312.3,293.8 311.6,294.5ZM367.5,293.5 366.9,293.2 367.6,291.8 370.0,290.2 371.0,290.5 371.1,292.2 367.5,293.5ZM301.2,295.5 299.5,294.8 300.5,292.5 299.5,290.8 301.0,291.5 302.1,293.5 301.7,295.2 301.2,295.5ZM359.3,295.8 358.0,296.0 354.2,294.8 355.7,292.7 357.3,292.0 360.7,294.7 360.5,295.5 359.3,295.8ZM277.5,299.8 277.1,299.5 277.3,294.8 273.7,293.6 272.3,294.0 273.0,293.0 278.3,294.0 280.0,296.4 282.0,295.9 283.1,296.5 282.7,297.5 280.7,298.0 277.5,299.8ZM288.8,297.2 288.0,297.4 287.7,296.5 289.3,294.8 291.0,294.6 294.0,295.3 295.3,294.8 297.3,292.8 298.8,292.8 297.8,295.2 297.0,295.8 295.3,296.0 294.0,296.9 290.0,295.9 288.8,297.2ZM337.2,300.2 336.3,300.2 331.2,298.2 331.8,297.2 333.7,296.3 335.0,293.7 336.0,292.8 337.3,293.3 338.8,295.2 337.0,297.8 337.2,300.2ZM284.2,295.2 283.7,295.4 281.0,294.9 280.1,294.2 281.0,293.4 283.7,293.4 284.2,295.2ZM329.7,296.8 329.0,297.1 327.2,296.5 329.3,293.4 330.4,295.2 329.7,296.8ZM391.2,300.5 389.7,299.9 388.3,298.0 386.0,298.4 385.7,297.5 386.5,295.2 390.3,294.5 392.7,293.4 393.0,293.8 392.8,296.2 391.9,297.8 392.0,299.5 391.2,300.5ZM341.1,295.5 340.3,295.2 340.5,294.2 341.3,293.7 342.3,293.8 342.7,294.5 341.1,295.5ZM372.3,299.5 371.3,299.2 368.0,296.4 367.6,295.5 368.0,294.8 371.3,295.9 372.4,295.5 373.8,293.8 375.3,294.1 374.0,296.5 375.5,298.8 375.0,299.3 372.3,299.5ZM365.2,296.8 363.7,296.6 361.8,295.2 361.8,294.5 363.0,294.6 365.2,296.2 365.2,296.8ZM309.5,299.5 309.0,299.7 308.8,299.2 308.9,296.8 305.7,296.3 304.7,295.5 304.7,294.8 311.0,296.2 312.3,295.3 313.0,295.5 313.0,298.9 310.7,298.9 309.5,299.5ZM381.0,300.2 379.8,300.2 380.7,298.2 380.3,295.5 381.0,294.7 383.5,298.8 383.0,299.4 381.0,300.2ZM286.5,300.5 285.7,300.5 285.1,299.8 284.8,297.5 285.0,296.5 286.3,295.0 287.2,295.5 287.3,298.8 286.5,300.5ZM379.1,299.2 377.5,298.8 377.2,297.2 375.6,296.2 376.0,295.1 378.8,296.5 379.4,298.2 379.1,299.2ZM353.6,296.8 351.7,296.5 351.0,295.8 351.3,295.5 354.7,295.9 355.7,296.5 353.6,296.8ZM395.7,299.8 394.4,299.5 395.2,298.5 393.9,296.5 394.0,295.6 395.3,295.6 396.2,297.2 396.3,299.2 395.7,299.8ZM347.2,305.8 346.4,305.8 346.0,305.3 345.3,302.8 346.3,300.8 345.2,298.5 343.4,297.2 343.7,296.1 346.3,297.0 349.7,296.0 352.7,298.0 351.7,301.1 350.0,302.9 349.6,305.2 347.2,305.8ZM359.3,301.8 358.3,302.1 357.1,298.5 357.7,297.2 360.0,296.3 360.6,296.8 360.6,298.5 359.8,299.8 360.1,301.2 359.3,301.8ZM364.3,299.5 363.0,299.5 361.8,296.5 362.3,296.4 364.3,298.1 366.9,297.2 364.3,299.5ZM297.1,300.8 294.3,300.3 293.3,299.5 296.5,299.8 297.2,299.2 298.0,297.0 299.3,296.5 301.7,296.6 302.2,298.2 301.9,299.2 301.0,299.6 299.3,299.4 297.1,300.8ZM306.9,300.8 302.6,300.5 303.3,297.0 304.0,296.8 306.3,298.2 307.1,300.2 306.9,300.8ZM313.8,306.5 311.3,304.6 307.5,304.5 308.0,301.5 310.3,300.0 312.7,300.2 313.8,299.8 315.4,296.8 319.0,296.8 318.2,298.2 318.2,299.5 321.2,302.5 321.2,303.5 320.3,304.2 318.7,304.3 315.1,305.5 313.8,306.5ZM340.0,304.5 339.0,304.8 338.3,302.2 339.1,299.8 338.7,297.5 339.3,297.0 341.7,296.9 344.5,299.2 344.8,301.5 343.3,304.1 340.0,304.5ZM295.9,298.8 294.3,298.5 294.3,297.7 295.7,297.8 295.9,298.8ZM328.9,302.2 328.2,301.8 329.2,298.8 330.0,298.0 330.7,299.7 334.0,300.5 331.0,301.9 328.9,302.2ZM367.7,305.5 364.3,304.3 362.0,304.7 360.0,302.5 362.3,302.3 363.3,300.8 367.0,298.3 368.3,298.1 369.0,299.2 367.7,301.0 367.4,302.2 367.7,303.5 368.7,304.8 367.7,305.5ZM353.4,302.5 352.7,302.5 353.1,300.5 354.0,299.1 355.0,301.8 353.4,302.5ZM281.4,304.2 278.3,302.5 279.0,300.5 281.0,299.2 282.7,300.4 284.0,299.8 284.9,301.2 284.7,301.8 284.0,302.3 283.6,301.5 282.3,301.2 281.9,302.2 282.9,303.2 282.3,303.9 281.4,304.2ZM326.6,303.2 324.7,303.2 322.5,301.2 322.4,300.5 323.3,300.0 326.3,299.8 326.9,300.5 326.6,303.2ZM372.8,302.2 371.7,302.4 369.8,301.5 370.0,299.8 372.8,301.2 373.1,301.5 372.8,302.2ZM289.0,300.8 288.3,300.9 288.3,300.5 289.2,300.2 289.0,300.8ZM294.4,306.5 292.3,305.6 291.3,305.8 289.9,303.5 289.8,302.5 291.0,300.1 294.1,301.2 294.6,304.2 294.4,306.5ZM377.7,302.2 377.7,302.5 377.3,300.8 376.3,300.2 378.1,300.2 377.7,302.2ZM384.1,307.2 382.7,306.6 381.1,305.2 380.7,303.6 379.4,302.8 379.5,301.5 383.0,300.2 386.9,302.5 387.2,304.2 386.4,306.2 384.1,307.2ZM296.1,306.2 295.7,306.3 295.2,305.8 295.3,301.8 297.3,301.8 299.0,301.1 298.7,303.1 296.6,303.2 296.1,306.2ZM301.7,302.5 301.0,302.7 300.7,302.2 301.7,301.0 302.0,301.5 301.7,302.5ZM357.0,302.8 356.7,301.1 357.0,302.8ZM390.0,303.2 388.7,303.1 388.3,301.7 390.6,302.2 390.6,302.8 390.0,303.2ZM373.3,309.2 372.7,309.3 369.4,307.8 370.3,306.1 370.4,304.2 371.3,303.4 373.7,303.6 375.0,301.9 376.0,301.7 376.5,303.5 376.6,307.5 376.3,307.8 374.3,307.8 373.3,309.2ZM277.2,307.5 275.7,307.6 273.7,305.6 272.0,305.1 272.6,303.5 274.7,303.3 276.7,302.0 277.7,303.8 279.7,304.2 279.9,305.2 279.4,306.2 277.2,307.5ZM337.9,304.5 336.3,304.8 334.0,304.2 332.7,302.5 334.0,302.2 337.9,304.5ZM381.7,302.9 382.0,302.4 381.7,302.9ZM282.5,313.2 282.0,313.5 281.3,313.0 279.9,309.5 276.3,310.3 274.6,309.5 274.3,308.5 277.7,308.6 279.6,307.2 281.0,305.0 285.0,303.7 287.0,303.2 289.0,304.0 290.3,305.2 290.2,306.2 289.3,306.4 287.3,305.2 286.3,305.7 285.6,307.5 286.0,310.5 283.3,311.7 282.5,313.2ZM319.8,311.2 319.0,311.1 317.5,306.8 318.7,305.8 322.7,303.7 322.9,304.8 322.0,307.5 320.3,309.4 319.8,311.2ZM352.4,305.5 351.0,305.6 350.6,304.8 354.0,303.7 355.5,304.5 355.0,305.4 352.4,305.5ZM358.1,311.5 354.7,311.5 353.9,310.8 356.0,308.8 358.8,307.2 358.6,304.5 359.0,304.0 360.0,304.3 363.3,307.4 365.0,307.2 365.3,307.5 364.9,308.8 363.3,310.8 361.3,311.1 358.7,309.8 358.0,310.5 358.1,311.5ZM357.4,305.5 356.9,305.2 357.3,304.4 357.7,304.5 357.4,305.5ZM395.5,311.5 393.7,311.7 391.7,310.8 390.0,311.2 387.4,309.5 387.1,308.2 389.0,306.2 389.7,304.4 392.0,304.8 393.3,306.7 394.7,307.2 397.1,309.2 397.3,310.7 395.5,311.5ZM347.4,309.8 342.7,309.1 340.6,305.2 341.7,305.1 343.0,307.0 347.6,308.2 347.9,309.2 347.4,309.8ZM304.8,308.8 304.3,309.1 303.0,308.3 301.0,308.0 300.8,307.5 303.4,305.8 305.3,305.4 305.8,306.5 304.8,308.8ZM328.0,308.8 327.3,309.1 324.0,307.4 323.9,306.5 324.7,305.3 326.4,306.8 328.0,307.4 328.0,308.8ZM378.5,306.2 378.0,306.2 378.3,305.4 378.7,305.5 378.5,306.2ZM310.6,312.8 307.3,313.0 305.3,311.7 305.3,310.8 306.9,306.8 307.7,306.1 310.0,306.2 313.2,308.2 313.0,309.1 311.0,310.1 310.6,312.8ZM288.7,310.8 288.3,311.1 287.7,310.7 286.7,308.5 286.7,307.1 287.3,306.2 287.7,306.5 287.4,308.2 288.5,309.5 288.7,310.8ZM338.4,307.8 337.0,307.9 336.5,307.5 339.0,306.2 339.5,307.2 338.4,307.8ZM351.5,311.2 348.6,310.2 348.6,307.2 349.0,306.4 352.3,306.4 355.2,307.8 354.3,309.2 351.5,311.2ZM367.4,308.5 366.6,307.8 366.7,306.5 367.8,306.8 367.4,308.5ZM384.4,310.2 381.0,308.5 380.4,307.5 380.6,306.5 381.3,306.4 383.7,308.3 385.7,308.2 385.9,309.2 384.4,310.2ZM316.1,307.8 314.7,308.0 314.3,307.5 316.0,306.6 316.1,307.8ZM336.8,317.2 335.0,316.7 334.2,314.8 331.7,314.7 329.4,310.8 329.9,309.5 329.6,307.8 330.3,306.9 335.3,307.2 335.7,310.2 335.0,313.2 336.5,315.5 336.8,317.2ZM290.3,311.5 289.6,311.2 289.0,308.8 289.3,308.5 291.0,308.5 291.8,309.2 291.5,310.5 290.3,311.5ZM297.9,315.2 297.7,315.5 295.3,312.3 294.2,311.8 295.7,309.5 298.0,308.5 302.7,309.5 303.8,311.2 301.0,313.0 299.0,313.4 297.9,315.2ZM325.8,313.5 324.0,312.4 322.0,313.7 320.4,313.2 320.1,312.5 321.0,311.2 321.4,309.2 323.3,308.4 325.6,308.8 326.3,310.8 326.2,312.8 325.8,313.5ZM340.1,314.5 339.0,314.3 337.1,311.5 337.7,310.1 340.0,308.4 340.7,308.6 341.3,309.8 341.5,313.5 340.1,314.5ZM378.9,312.2 371.0,312.1 370.2,311.5 369.5,309.5 370.7,309.2 372.0,310.5 373.0,310.8 374.0,310.5 375.0,308.8 375.7,308.7 376.3,310.8 377.0,311.3 377.7,309.2 379.2,308.5 379.4,311.5 378.9,312.2ZM316.1,312.2 315.3,312.4 314.5,310.8 314.3,309.5 314.7,308.8 316.3,309.2 317.4,310.8 317.3,311.3 316.1,312.2ZM331.0,309.3 331.0,308.8 330.6,309.2 331.0,309.3ZM386.8,316.5 385.7,316.4 383.2,314.8 384.8,311.5 386.7,310.0 388.6,311.5 389.6,313.5 389.0,315.0 386.8,316.5ZM383.1,311.8 381.0,311.3 380.9,310.5 381.7,310.2 382.3,310.5 383.1,311.8ZM278.5,313.5 275.7,313.1 274.7,312.1 274.2,310.8 276.7,311.8 279.0,310.9 279.1,312.5 278.5,313.5ZM345.9,317.8 344.9,317.8 345.1,315.2 342.6,312.2 342.3,311.2 342.7,310.7 345.3,310.9 346.7,311.5 349.0,311.0 350.5,311.5 348.7,315.3 348.3,315.5 347.0,315.1 346.2,315.5 346.3,317.2 345.9,317.8ZM368.1,312.5 367.6,312.5 368.7,310.7 368.7,311.8 368.1,312.5ZM363.1,319.2 362.0,318.8 361.9,317.8 364.0,314.8 363.9,311.8 365.0,311.0 366.3,311.1 365.9,313.8 366.4,315.8 364.3,317.3 363.1,319.2ZM352.9,318.5 350.0,318.6 349.1,318.2 349.8,317.2 349.8,314.8 350.8,312.5 351.7,311.8 352.6,312.2 354.1,315.2 354.1,317.5 352.9,318.5ZM393.4,316.2 390.4,315.5 390.6,313.2 391.3,311.9 394.7,312.8 393.4,316.2ZM286.8,317.8 286.0,317.9 286.1,316.8 284.9,315.2 284.3,312.8 284.7,312.2 285.7,312.3 286.8,313.8 289.3,315.2 289.2,316.8 286.8,317.8ZM327.9,321.2 325.3,321.4 324.5,320.8 326.1,317.5 325.2,315.5 326.7,314.2 327.7,312.2 328.7,312.0 329.9,313.2 329.9,316.5 329.1,319.5 327.9,321.2ZM362.3,315.2 360.7,315.0 359.4,314.2 360.3,312.3 362.9,312.2 362.7,314.5 362.3,315.2ZM318.0,318.8 313.1,318.2 315.7,315.8 315.9,313.8 316.7,312.8 318.7,312.3 320.7,314.2 323.7,314.6 324.4,317.2 324.2,317.8 320.0,317.9 318.0,318.8ZM377.4,315.2 376.0,314.9 375.4,314.2 376.7,313.3 380.2,312.8 379.7,314.4 377.4,315.2ZM300.4,318.5 298.3,318.6 297.6,318.2 297.9,316.8 299.3,314.4 303.3,312.9 306.6,314.5 306.2,318.2 304.0,317.3 302.3,318.2 300.4,318.5ZM313.5,316.8 312.7,317.0 311.3,315.3 311.2,314.2 312.0,313.3 313.7,313.3 314.8,314.2 314.4,315.8 313.5,316.8ZM357.1,317.8 355.7,317.7 354.9,315.5 355.0,314.0 356.0,313.1 358.0,313.4 360.1,316.2 357.1,317.8ZM373.0,319.8 372.0,320.0 371.6,317.8 368.7,315.8 370.3,313.0 371.7,313.0 375.5,315.8 372.7,317.2 373.2,318.8 373.0,319.8ZM382.1,314.8 381.0,314.9 380.7,314.5 381.7,313.1 382.4,313.8 382.1,314.8ZM294.9,318.2 294.3,318.3 293.3,316.5 290.9,316.8 291.0,315.5 292.7,314.0 293.3,313.8 293.8,315.2 295.5,317.2 294.9,318.2ZM340.4,318.5 338.0,318.0 337.7,315.9 339.0,316.1 343.0,314.3 343.7,315.2 343.7,316.7 342.0,316.7 340.4,318.5ZM278.1,316.8 277.3,317.0 277.0,316.5 277.0,314.7 277.7,315.0 278.1,316.8ZM312.3,315.6 312.3,314.8 312.3,315.6ZM284.4,318.2 283.0,317.7 280.7,318.1 280.4,316.2 282.0,315.1 283.3,315.2 285.1,317.2 284.4,318.2ZM377.1,322.2 376.0,322.3 374.7,321.7 373.9,320.5 374.2,319.5 375.0,318.6 377.0,318.6 378.2,316.8 379.7,316.0 379.9,316.5 378.8,321.2 377.1,322.2ZM388.2,320.8 384.0,319.8 382.0,320.0 381.1,317.5 381.3,316.0 383.7,316.0 386.7,317.5 388.7,316.7 388.7,320.2 388.2,320.8ZM310.7,319.5 307.3,319.5 307.0,318.5 307.7,316.9 311.3,318.2 310.7,319.5ZM395.4,323.5 393.7,323.1 391.8,321.2 391.0,319.4 390.0,318.5 390.0,317.2 392.3,317.1 394.0,319.5 396.0,320.5 396.4,322.2 395.4,323.5ZM368.1,321.8 366.7,322.0 365.3,320.8 365.8,317.8 366.3,317.4 367.3,317.4 367.6,317.8 368.1,321.8ZM279.4,324.2 278.3,324.1 276.3,322.8 273.5,322.8 271.0,319.8 270.9,317.8 272.0,317.7 275.7,319.5 278.7,317.9 280.7,319.7 283.3,319.7 283.7,320.8 283.3,321.7 279.4,324.2ZM293.2,319.5 291.7,319.2 290.4,318.2 292.3,317.8 293.2,319.5ZM356.6,327.5 355.7,327.8 354.8,326.5 357.0,322.5 356.0,319.5 359.0,317.9 360.0,317.9 361.1,319.2 359.7,321.3 359.8,323.8 358.2,326.5 356.6,327.5ZM340.1,323.8 338.7,323.9 337.1,322.2 338.3,319.6 339.0,319.3 341.3,319.7 342.7,318.1 344.6,319.2 345.3,321.2 340.1,323.8ZM304.0,319.8 302.4,319.8 304.7,318.6 305.0,319.2 304.0,319.8ZM335.7,321.8 332.8,320.8 332.7,320.2 333.7,318.9 334.7,319.2 336.0,318.6 337.0,319.2 336.9,320.5 335.7,321.8ZM349.1,324.2 348.0,324.3 347.3,323.8 346.4,319.5 347.3,318.7 348.0,318.8 348.9,320.2 348.6,322.5 349.4,323.8 349.1,324.2ZM301.0,321.5 300.3,321.7 298.0,319.8 300.0,319.4 302.0,319.8 301.0,321.5ZM312.1,325.5 310.3,325.5 309.0,324.1 307.3,323.5 305.7,321.6 303.7,322.4 303.2,321.5 306.0,319.8 312.0,321.5 313.3,319.5 314.7,319.4 314.9,320.2 313.1,322.8 313.2,324.5 312.1,325.5ZM319.5,321.8 318.0,321.5 316.4,319.8 319.0,320.1 321.3,319.4 321.0,320.5 319.5,321.8ZM289.1,325.2 288.1,324.8 288.3,323.2 285.1,321.5 284.9,320.5 285.3,319.7 290.0,319.8 288.4,323.2 289.1,324.2 289.1,325.2ZM324.5,326.8 324.0,326.8 323.0,325.2 321.7,325.2 320.1,323.8 322.7,320.0 323.7,322.2 327.0,322.5 328.1,323.2 328.0,324.1 324.5,326.8ZM352.4,321.5 352.0,321.2 352.7,320.1 352.4,321.5ZM291.4,323.8 291.0,324.1 290.7,323.2 291.1,320.8 291.7,320.5 292.4,321.5 291.4,323.8ZM293.5,324.8 293.1,324.5 294.7,323.0 296.0,320.5 296.5,320.5 298.3,322.5 298.3,323.5 297.7,324.2 296.0,323.9 293.5,324.8ZM365.0,325.2 363.7,325.2 361.2,323.2 360.8,322.2 361.3,321.2 363.3,321.2 365.2,322.2 365.0,322.8 364.0,322.7 363.6,323.2 365.2,324.2 365.0,325.2ZM371.0,325.8 370.1,325.5 369.2,323.8 370.0,320.9 370.6,323.2 372.1,325.2 371.0,325.8ZM372.7,323.5 372.0,323.6 371.4,322.8 372.0,321.5 373.1,321.8 372.7,323.5ZM381.9,321.8 380.6,321.5 381.9,321.8ZM388.7,325.2 387.9,324.5 388.0,322.8 388.5,321.8 389.7,321.3 390.5,322.5 388.7,325.2ZM381.1,330.8 380.3,330.8 379.0,329.3 377.2,328.2 378.1,322.8 379.0,322.2 380.7,322.3 382.7,324.7 384.0,323.1 386.0,322.2 386.3,322.8 386.0,324.2 388.7,326.2 389.9,328.2 389.7,330.3 389.3,330.6 388.4,327.8 387.7,327.3 384.6,329.5 381.1,330.8ZM329.8,322.8 329.3,322.2 329.8,322.8ZM345.8,333.2 345.3,333.4 344.7,332.7 343.6,328.8 341.0,327.7 340.3,326.8 340.5,325.5 341.3,324.4 345.0,322.2 345.8,322.8 346.6,325.5 348.0,326.2 347.2,328.8 347.4,330.5 345.8,333.2ZM304.7,326.8 302.7,326.7 299.7,324.2 299.3,323.0 300.3,322.8 303.0,325.2 305.0,325.5 304.7,326.8ZM354.4,324.2 352.7,324.2 352.5,323.8 355.3,322.8 355.3,323.3 354.4,324.2ZM334.4,329.2 332.3,328.8 333.0,327.2 332.7,325.0 335.3,323.4 336.7,323.8 337.4,324.8 339.0,325.2 339.2,325.8 337.9,327.8 334.4,329.2ZM284.0,330.8 282.3,331.1 278.3,330.1 277.5,328.8 277.1,326.5 274.9,324.2 275.1,323.8 276.0,323.8 279.0,325.0 280.3,324.9 282.3,323.8 283.2,326.5 285.2,328.8 285.3,330.2 284.0,330.8ZM318.4,324.2 317.6,324.2 318.0,323.7 318.4,324.2ZM331.4,326.5 330.8,326.5 330.3,325.8 331.0,323.8 331.4,326.5ZM287.8,329.5 286.1,329.5 285.7,327.8 283.8,326.2 283.7,324.8 284.7,324.6 286.0,326.2 288.0,326.8 288.3,328.5 287.8,329.5ZM364.7,329.8 363.4,329.5 361.7,327.6 359.7,328.4 358.2,327.8 358.2,327.5 361.0,324.5 365.0,326.3 368.3,325.4 368.7,326.5 367.8,328.5 364.7,329.8ZM392.6,326.8 391.8,326.8 391.8,326.2 392.7,324.8 393.7,324.3 397.3,326.5 392.6,326.8ZM315.5,329.8 313.3,329.6 311.0,330.0 309.3,328.8 307.3,328.2 306.2,326.8 306.2,326.2 307.3,325.1 308.3,324.8 310.3,326.7 312.3,326.8 315.3,328.0 315.9,328.8 315.5,329.8ZM353.3,335.2 352.3,335.5 350.3,334.9 348.7,335.3 347.1,333.8 347.2,332.5 348.9,330.8 348.6,328.2 350.3,324.9 351.4,325.2 351.7,327.2 354.3,329.1 356.7,329.2 357.8,331.5 358.0,333.2 357.3,334.3 356.0,335.1 354.3,334.3 353.3,335.2ZM315.2,326.5 313.5,325.8 314.3,325.3 315.7,325.4 315.8,325.8 315.2,326.5ZM371.4,331.2 369.8,330.2 370.5,328.2 372.0,326.4 374.7,325.5 374.5,329.5 371.4,331.2ZM292.8,327.8 291.7,328.0 289.3,326.5 290.3,326.0 292.7,326.8 294.7,325.8 292.8,327.8ZM321.8,331.5 319.7,330.4 317.3,329.9 316.8,327.8 318.7,327.4 320.3,325.8 321.0,325.8 321.7,326.8 322.0,328.6 323.0,329.2 321.8,331.5ZM327.0,328.8 325.8,328.2 325.9,327.5 327.7,326.0 329.0,326.1 329.4,327.2 327.0,328.8ZM297.0,331.2 296.3,331.1 296.0,330.5 295.7,327.1 297.0,326.2 299.7,326.6 300.3,330.0 297.0,331.2ZM274.9,328.8 274.0,329.0 273.4,327.5 274.7,326.9 275.5,327.2 274.9,328.8ZM301.0,332.2 299.8,332.2 302.0,329.8 301.3,327.2 305.3,328.1 309.0,330.2 309.0,330.6 306.7,330.8 304.3,330.6 301.0,332.2ZM294.6,334.8 293.3,334.5 291.3,332.5 289.2,332.5 288.5,330.5 290.0,328.2 292.7,329.8 294.3,330.2 293.7,333.2 294.6,334.8ZM340.6,331.8 340.0,331.9 339.3,331.2 339.7,328.6 342.1,329.2 342.8,329.8 342.7,330.6 340.6,331.8ZM335.0,333.8 334.3,333.9 334.1,333.5 334.8,330.2 336.3,329.1 338.0,329.1 338.5,329.8 338.3,331.2 339.5,333.5 339.0,333.8 336.7,333.2 335.0,333.8ZM326.5,332.5 325.0,332.7 323.7,332.1 323.0,331.5 323.1,330.5 324.3,329.4 325.3,329.3 327.0,331.5 327.0,332.2 326.5,332.5ZM331.1,331.2 328.3,331.2 328.1,330.8 329.0,329.6 331.0,329.4 332.2,330.2 332.0,330.8 331.1,331.2ZM385.2,333.5 382.3,333.7 382.0,333.2 382.6,331.5 383.3,330.9 385.7,331.0 386.7,329.7 387.7,329.3 388.3,331.2 385.2,333.5ZM377.4,331.8 376.8,331.8 378.3,329.8 378.8,330.8 377.4,331.8ZM274.8,333.2 273.7,333.0 273.4,331.5 276.7,330.5 276.4,331.8 274.8,333.2ZM360.5,336.5 359.8,335.8 359.9,333.5 358.8,331.8 358.8,330.8 359.3,330.4 360.1,330.8 361.4,333.8 360.5,336.5ZM286.4,335.8 285.3,335.9 284.0,334.7 282.2,334.2 282.3,332.0 285.7,331.0 287.3,331.8 288.0,333.8 286.4,335.8ZM315.0,337.2 313.3,337.2 309.3,335.3 311.3,331.5 314.7,331.0 315.7,331.5 316.0,334.5 315.6,336.5 315.0,337.2ZM363.4,334.8 362.3,335.0 361.5,331.2 362.3,330.9 365.7,331.2 365.9,332.2 365.5,333.5 363.4,334.8ZM278.7,336.8 277.7,336.5 277.3,335.8 278.6,333.8 278.5,331.5 279.7,331.5 281.2,332.2 281.5,333.5 280.7,335.0 278.7,336.8ZM371.2,334.2 370.0,334.4 368.1,333.8 367.5,332.8 367.7,331.6 368.7,331.4 370.0,332.7 371.3,332.8 371.2,334.2ZM295.4,333.2 294.9,332.8 295.3,332.4 295.4,333.2ZM376.3,336.5 374.0,336.2 373.1,335.5 372.8,334.5 376.7,332.7 378.0,332.7 378.2,335.5 377.3,336.3 376.3,336.5ZM297.5,335.8 296.3,335.9 295.7,334.4 296.7,333.8 297.7,334.0 298.3,334.8 297.5,335.8ZM381.2,336.8 380.7,337.1 379.2,336.5 380.0,333.9 381.3,334.1 382.1,334.8 382.2,335.5 381.2,336.8ZM392.1,334.8 391.7,334.2 392.1,334.2 392.1,334.8ZM274.2,336.8 273.4,336.8 272.1,335.8 271.3,334.3 273.3,335.3 276.4,335.5 274.2,336.8ZM326.1,335.8 325.5,335.8 326.1,335.8Z" fill="#767676" fill-rule="nonzero" filter="url(#soft7)"/></g>
<path d="M334.7,212.3 336.4,209.8 339.2,210.0 341.8,209.2 344.3,210.4 347.1,209.9 348.6,212.1 351.3,212.5 353.4,214.1 356.4,214.2 357.7,216.7 359.7,218.4 361.5,220.3 363.5,221.8 365.8,223.1 368.6,223.1 370.7,224.6 373.2,225.7 374.3,228.2 376.5,229.9 376.0,232.6 376.3,235.4 373.8,237.0 375.5,237.8 377.7,239.4 380.4,239.6 382.0,241.8 383.1,244.1 382.5,246.5 380.8,248.1 380.9,250.1 383.8,250.5 385.4,252.6 386.0,254.9 384.3,256.8 382.7,258.8 379.9,259.6 379.2,262.5 376.7,264.1 377.1,266.8 377.7,269.2 380.1,270.5 381.9,272.3 382.2,274.7 380.1,276.4 379.0,278.8 377.0,280.6 375.6,282.9 372.8,283.5 371.0,285.5 368.6,286.5 367.1,288.7 364.7,289.9 363.0,292.0 360.7,293.2 358.6,295.0 355.7,294.9 353.8,297.1 351.0,297.0 348.6,298.2 345.9,297.9 343.5,299.1 340.6,299.0 338.9,301.2 336.3,302.2 334.9,304.6 332.5,305.5 330.1,304.5 328.6,302.1 325.8,301.6 324.2,299.3 321.5,299.0 319.1,297.7 316.4,298.5 314.0,297.2 311.4,297.0 309.0,296.0 306.3,295.8 304.5,293.7 302.0,292.6 300.8,290.3 299.1,288.4 297.7,286.0 294.6,286.2 292.8,283.9 290.3,283.0 289.5,280.4 287.2,278.9 285.7,276.8 283.2,275.5 283.4,272.9 285.1,271.1 287.8,270.4 288.6,267.8 289.8,265.3 287.1,263.6 286.2,261.1 284.3,259.3 282.9,257.0 280.0,256.0 281.1,253.5 281.5,250.8 284.1,250.0 285.2,248.1 284.5,246.3 282.6,244.4 283.0,242.0 284.5,239.9 287.1,239.2 289.4,237.7 292.4,238.5 291.2,236.2 289.8,234.2 289.5,231.6 290.2,229.1 291.5,226.9 294.1,226.1 295.5,224.0 297.9,223.0 300.2,221.7 303.0,221.7 304.7,219.6 306.4,217.8 308.5,216.4 311.2,215.9 313.1,214.0 316.0,214.1 317.1,211.3 319.4,210.3 321.9,209.5 324.6,209.9 327.2,209.7 329.5,211.3 332.2,211.2Z" fill="none" stroke="#ff6060" stroke-width="2.4" stroke-linejoin="round" filter="url(#soft7)"/>
</g>
<g clip-path="url(#cbmL)">
<path d="M334.7,212.3 336.4,209.8 339.2,210.0 341.8,209.2 344.3,210.4 347.1,209.9 348.6,212.1 351.3,212.5 353.4,214.1 356.4,214.2 357.7,216.7 359.7,218.4 361.5,220.3 363.5,221.8 365.8,223.1 368.6,223.1 370.7,224.6 373.2,225.7 374.3,228.2 376.5,229.9 376.0,232.6 376.3,235.4 373.8,237.0 375.5,237.8 377.7,239.4 380.4,239.6 382.0,241.8 383.1,244.1 382.5,246.5 380.8,248.1 380.9,250.1 383.8,250.5 385.4,252.6 386.0,254.9 384.3,256.8 382.7,258.8 379.9,259.6 379.2,262.5 376.7,264.1 377.1,266.8 377.7,269.2 380.1,270.5 381.9,272.3 382.2,274.7 380.1,276.4 379.0,278.8 377.0,280.6 375.6,282.9 372.8,283.5 371.0,285.5 368.6,286.5 367.1,288.7 364.7,289.9 363.0,292.0 360.7,293.2 358.6,295.0 355.7,294.9 353.8,297.1 351.0,297.0 348.6,298.2 345.9,297.9 343.5,299.1 340.6,299.0 338.9,301.2 336.3,302.2 334.9,304.6 332.5,305.5 330.1,304.5 328.6,302.1 325.8,301.6 324.2,299.3 321.5,299.0 319.1,297.7 316.4,298.5 314.0,297.2 311.4,297.0 309.0,296.0 306.3,295.8 304.5,293.7 302.0,292.6 300.8,290.3 299.1,288.4 297.7,286.0 294.6,286.2 292.8,283.9 290.3,283.0 289.5,280.4 287.2,278.9 285.7,276.8 283.2,275.5 283.4,272.9 285.1,271.1 287.8,270.4 288.6,267.8 289.8,265.3 287.1,263.6 286.2,261.1 284.3,259.3 282.9,257.0 280.0,256.0 281.1,253.5 281.5,250.8 284.1,250.0 285.2,248.1 284.5,246.3 282.6,244.4 283.0,242.0 284.5,239.9 287.1,239.2 289.4,237.7 292.4,238.5 291.2,236.2 289.8,234.2 289.5,231.6 290.2,229.1 291.5,226.9 294.1,226.1 295.5,224.0 297.9,223.0 300.2,221.7 303.0,221.7 304.7,219.6 306.4,217.8 308.5,216.4 311.2,215.9 313.1,214.0 316.0,214.1 317.1,211.3 319.4,210.3 321.9,209.5 324.6,209.9 327.2,209.7 329.5,211.3 332.2,211.2Z" fill="none" stroke="#d40000" stroke-width="2.6" stroke-linejoin="round" filter="url(#soft7)"/>
</g>
<circle cx="293.7" cy="239.6" r="2.4" fill="#d40000" filter="url(#soft)"/>
<circle cx="372.0" cy="239.2" r="2.4" fill="#ff5252" filter="url(#soft)"/>
<rect x="332.2" y="175.5" width="1.9" height="162.9" fill="#a6a01c"/>
<rect x="468" y="2.7" width="214.4" height="161.6" fill="#000"/>
<rect x="468" y="175.5" width="214.4" height="162.9" fill="#000"/>
<path d="M609.8,84.3 609.0,85.1 609.5,86.0 609.3,86.8 607.5,87.5 608.0,88.4 607.9,89.2 607.7,90.0 609.4,91.1 608.6,91.8 608.8,92.7 608.9,93.6 606.6,93.9 606.8,94.8 606.5,95.6 606.5,96.4 607.4,97.5 607.1,98.3 606.6,99.0 607.1,100.1 604.6,100.1 604.7,101.0 604.3,101.7 604.0,102.4 605.4,103.9 605.3,104.8 604.6,105.4 603.9,106.0 602.2,106.0 601.8,106.8 601.2,107.4 601.0,108.2 601.9,109.7 601.3,110.3 601.1,111.2 600.8,112.0 598.7,111.5 598.2,112.2 597.8,112.9 597.3,113.5 597.9,115.1 597.5,115.8 596.9,116.4 596.1,116.8 594.4,116.3 594.3,117.4 593.2,117.4 592.7,118.1 593.2,119.9 592.7,120.5 592.0,121.0 591.5,121.8 590.1,121.3 589.2,121.5 588.4,121.7 587.9,122.4 588.1,124.3 587.3,124.6 586.7,125.2 586.1,125.8 584.3,124.4 583.5,124.7 582.8,125.1 582.2,125.7 582.2,127.5 581.5,128.1 580.8,128.4 579.9,128.4 578.5,127.3 577.8,127.8 576.9,127.6 576.3,128.5 575.9,130.0 575.2,130.6 574.3,130.5 573.5,130.6 572.4,129.6 571.5,129.4 570.7,129.6 570.0,130.1 569.4,131.5 568.6,131.8 567.8,132.3 566.9,132.2 565.9,131.0 565.1,130.6 564.3,130.5 563.5,131.2 562.7,133.3 561.9,133.4 561.0,132.9 560.1,132.9 559.3,131.5 558.5,131.1 557.7,130.8 556.9,130.5 556.0,131.8 555.0,132.5 554.3,131.6 553.4,132.2 552.9,130.1 552.0,130.3 551.2,130.2 550.4,129.9 549.4,130.6 548.4,131.1 547.6,130.6 546.9,130.1 546.4,128.9 545.8,128.2 545.0,128.1 544.1,128.0 542.9,128.7 542.0,128.8 541.5,127.9 540.4,128.1 540.7,125.8 539.9,125.4 538.9,125.6 538.4,124.7 536.7,126.1 536.3,125.2 535.5,124.8 534.7,124.6 534.8,122.9 534.3,122.3 533.6,121.8 532.9,121.4 531.3,122.0 530.3,122.0 529.7,121.4 529.4,120.5 529.9,118.6 529.3,118.1 528.4,117.9 528.1,117.0 526.1,117.8 525.5,117.2 525.1,116.4 524.8,115.6 525.4,114.0 524.9,113.3 524.2,112.9 523.7,112.2 521.6,112.7 521.7,111.6 521.1,111.1 520.7,110.3 521.7,108.7 520.9,108.3 520.4,107.6 520.3,106.7 518.3,106.9 517.8,106.2 517.1,105.6 517.0,104.7 518.2,103.2 517.9,102.5 517.7,101.7 517.2,101.0 515.5,100.8 515.1,100.0 515.0,99.1 514.5,98.4 516.4,97.0 516.2,96.2 515.3,95.6 515.6,94.7 513.7,94.3 513.4,93.5 513.7,92.6 512.8,91.9 515.0,90.7 514.9,89.9 514.1,89.2 514.3,88.4 512.7,87.7 512.7,86.8 512.3,86.0 512.5,85.1 514.5,84.3 513.8,83.5 514.0,82.7 514.0,81.9 512.4,80.9 512.5,80.1 512.7,79.3 513.2,78.5 514.9,77.9 514.9,77.0 515.1,76.3 515.0,75.4 513.5,74.3 513.4,73.4 513.6,72.6 513.9,71.8 515.6,71.4 516.4,70.8 516.2,69.8 516.6,69.1 515.5,67.8 515.5,67.0 515.8,66.2 516.5,65.5 518.6,65.5 518.6,64.6 518.6,63.7 519.6,63.3 518.3,61.7 518.8,61.1 519.3,60.4 519.5,59.5 521.5,59.7 522.1,59.2 522.5,58.5 522.8,57.7 521.8,56.0 522.6,55.5 522.7,54.6 523.5,54.2 525.1,54.4 526.0,54.0 526.3,53.3 526.6,52.5 526.0,50.8 526.9,50.4 527.2,49.5 528.1,49.2 529.8,49.9 530.2,49.1 530.7,48.4 531.3,47.8 531.3,46.6 531.6,45.6 532.5,45.4 533.1,44.7 534.8,45.7 535.7,45.5 536.4,45.2 537.1,44.8 536.7,42.5 537.6,42.3 538.3,41.9 539.1,41.6 540.7,42.9 541.4,42.4 542.1,42.0 542.6,41.3 543.0,40.1 543.6,39.3 544.5,39.3 545.2,38.7 546.4,39.7 547.3,39.7 548.2,39.8 548.9,39.3 549.3,37.5 550.1,37.6 550.9,37.3 551.7,36.7 552.9,38.9 553.7,38.6 554.5,38.1 555.3,38.3 555.9,36.3 556.8,36.5 557.6,35.6 558.5,36.0 559.3,37.2 560.2,37.5 561.0,37.2 561.8,37.5 562.7,35.2 563.6,35.8 564.4,36.1 565.2,36.1 565.9,38.3 566.7,37.9 567.5,38.3 568.4,38.0 569.4,37.2 570.2,37.4 571.0,37.4 571.8,37.7 572.2,39.5 573.1,39.3 574.0,39.3 574.8,39.5 576.1,38.2 576.7,38.9 577.7,38.8 578.3,39.5 578.6,41.0 579.2,41.8 580.1,41.6 580.6,42.5 582.3,41.0 582.8,41.7 583.8,41.7 584.5,42.2 584.4,43.9 585.0,44.6 586.0,44.6 586.4,45.4 588.3,44.1 588.5,45.2 589.6,45.2 590.1,45.9 589.6,47.9 590.6,48.0 591.3,48.4 592.0,48.9 593.4,48.6 593.8,49.3 594.7,49.7 595.2,50.3 594.8,51.9 595.0,52.8 596.0,53.0 596.6,53.5 597.9,53.5 598.4,54.2 599.0,54.8 599.5,55.4 599.2,56.7 599.5,57.5 599.6,58.4 600.6,58.7 601.9,58.9 602.3,59.6 603.1,60.1 603.2,61.1 602.4,62.4 602.9,63.1 603.2,63.9 603.1,64.8 605.6,64.6 605.7,65.4 605.8,66.3 606.0,67.2 605.1,68.3 605.5,69.1 605.6,69.9 606.1,70.6 607.7,71.0 607.8,71.8 608.2,72.6 607.8,73.6 606.9,74.6 607.0,75.4 607.4,76.2 607.1,77.1 609.4,77.5 608.9,78.5 609.0,79.3 608.8,80.1 608.0,81.0 607.5,81.9 607.6,82.7 607.5,83.5Z" fill="none" stroke="#f01818" stroke-width="1.8" stroke-linejoin="round" filter="url(#soft)"/>
<circle cx="511.8" cy="83.0" r="1.5" fill="none" stroke="#f01818" stroke-width="1.5" filter="url(#soft)"/>
<circle cx="514.1" cy="99.1" r="1.5" fill="none" stroke="#f01818" stroke-width="1.5" filter="url(#soft)"/>
<circle cx="610.2" cy="83.0" r="1.5" fill="none" stroke="#f01818" stroke-width="1.5" filter="url(#soft)"/>
<circle cx="607.5" cy="100.2" r="1.5" fill="none" stroke="#f01818" stroke-width="1.5" filter="url(#soft)"/>
<circle cx="530.3" cy="50.3" r="1.5" fill="none" stroke="#f01818" stroke-width="1.5" filter="url(#soft)"/>
<circle cx="591.7" cy="50.3" r="1.5" fill="none" stroke="#f01818" stroke-width="1.5" filter="url(#soft)"/>
<circle cx="526.2" cy="118.8" r="1.5" fill="none" stroke="#f01818" stroke-width="1.5" filter="url(#soft)"/>
<circle cx="596.3" cy="118.3" r="1.5" fill="none" stroke="#f01818" stroke-width="1.5" filter="url(#soft)"/>
<ellipse cx="561.0" cy="84.3" rx="47.6" ry="47.3" fill="none" stroke="#b8b8b8" stroke-width="2.3" style="mix-blend-mode:screen" filter="url(#soft)"/>
<path d="M611.0,257.0 611.4,257.8 611.2,258.7 611.1,259.5 609.4,260.2 609.1,261.0 609.0,261.8 609.2,262.6 611.1,263.7 610.7,264.4 610.4,265.2 610.4,266.1 608.5,266.6 608.1,267.3 608.3,268.2 608.0,268.9 609.3,270.1 608.8,270.8 608.5,271.6 608.4,272.4 606.7,272.7 606.2,273.4 606.6,274.4 605.9,275.0 607.3,276.5 607.0,277.3 606.0,277.7 605.5,278.4 604.3,278.7 603.8,279.4 603.3,280.1 602.7,280.7 603.4,282.0 603.6,283.1 602.9,283.7 602.3,284.3 600.1,283.8 600.0,284.7 599.6,285.4 598.8,285.8 599.9,287.8 599.3,288.3 598.8,289.1 597.7,289.2 595.9,288.7 595.7,289.7 594.9,290.0 594.5,290.8 594.9,292.4 594.5,293.2 593.4,293.4 593.1,294.3 591.2,293.3 590.3,293.4 589.8,294.2 589.2,294.8 589.5,296.7 588.5,296.8 588.1,297.6 587.1,297.6 585.6,296.9 584.7,297.0 584.2,297.7 583.3,297.8 583.2,299.5 582.4,299.9 581.6,300.2 581.1,301.1 579.4,299.4 578.7,299.7 577.8,299.9 577.3,300.9 577.0,302.5 575.9,302.1 575.2,302.5 574.3,302.6 573.2,301.9 572.4,302.2 571.4,301.7 570.7,302.4 570.2,303.9 569.3,304.2 568.4,304.0 567.6,304.3 566.5,302.7 565.7,302.6 564.9,303.2 564.1,303.5 563.3,305.6 562.4,305.5 561.5,305.7 560.6,305.9 559.8,303.5 558.9,303.6 558.1,303.3 557.3,302.7 556.2,304.8 555.5,304.0 554.5,304.4 553.7,303.9 553.1,302.5 552.4,301.9 551.5,301.7 550.8,301.4 549.4,303.4 548.7,302.7 547.9,302.4 547.0,302.3 546.5,301.1 545.8,300.6 545.1,300.1 544.3,299.8 542.9,300.9 542.0,300.8 541.2,300.7 540.5,300.0 540.2,298.6 539.5,298.3 538.7,298.0 538.0,297.4 536.4,298.5 535.8,297.9 535.3,297.0 534.4,296.8 534.6,295.1 533.8,294.7 532.9,294.5 532.4,293.9 531.0,294.3 530.2,293.9 529.5,293.4 529.0,292.7 529.2,291.2 528.6,290.7 528.3,289.8 527.2,289.7 525.5,290.2 525.0,289.5 524.1,289.1 523.6,288.5 524.3,286.8 523.8,286.2 523.6,285.3 522.9,284.8 521.3,284.9 520.7,284.3 520.1,283.7 519.8,282.9 520.4,281.5 520.4,280.6 519.9,279.9 519.2,279.4 517.8,279.2 517.3,278.5 517.1,277.7 516.5,277.1 517.9,275.5 517.2,275.0 516.6,274.3 516.9,273.4 515.0,273.1 514.8,272.4 514.1,271.7 514.1,270.8 515.2,269.7 514.6,269.0 515.0,268.1 514.8,267.3 512.8,266.9 512.6,266.1 512.4,265.3 512.0,264.5 513.4,263.5 513.7,262.6 513.6,261.8 513.6,261.0 511.7,260.3 511.5,259.5 512.0,258.7 512.1,257.8 513.2,257.0 513.0,256.2 513.4,255.4 513.8,254.6 512.0,253.7 512.2,252.9 511.6,252.0 512.3,251.2 513.5,250.6 513.5,249.7 513.7,248.9 514.5,248.3 512.7,247.1 513.0,246.3 513.4,245.6 513.5,244.7 514.8,244.2 515.3,243.5 515.4,242.7 516.1,242.1 514.7,240.7 514.7,239.8 515.7,239.3 515.5,238.3 517.6,238.3 517.6,237.5 518.0,236.7 518.6,236.1 517.8,234.8 517.9,233.9 518.5,233.3 518.7,232.4 520.3,232.4 520.8,231.8 521.5,231.2 521.8,230.5 521.1,228.9 521.9,228.5 522.0,227.5 522.9,227.2 524.7,227.5 524.9,226.6 525.8,226.3 526.0,225.4 525.4,223.7 526.1,223.2 526.7,222.5 527.8,222.5 529.1,222.6 529.8,222.1 530.3,221.5 531.1,221.2 530.9,219.6 531.6,219.1 532.4,218.7 533.0,218.2 534.4,218.6 535.5,218.7 536.0,218.0 536.7,217.6 536.8,216.1 537.4,215.5 538.0,214.9 539.1,214.9 540.2,215.3 541.0,215.1 542.0,215.2 542.7,214.8 542.8,212.9 543.4,212.0 544.1,211.4 544.8,210.6 546.2,212.0 546.9,211.2 547.7,211.1 548.4,210.3 549.1,209.5 550.0,209.6 551.0,209.8 551.9,210.0 553.0,211.1 553.9,211.3 554.7,211.1 555.6,211.1 556.3,210.0 557.2,209.7 558.0,209.1 558.9,209.9 559.8,211.0 560.7,211.4 561.5,211.2 562.3,211.4 563.2,209.5 564.1,209.9 565.0,209.9 565.9,209.1 566.5,211.4 567.4,211.3 568.3,211.1 569.1,211.2 570.3,209.5 571.1,209.6 572.0,209.7 572.9,209.7 573.5,211.0 574.4,211.0 575.5,210.5 576.2,211.0 577.3,210.5 578.1,211.0 578.7,211.8 579.5,212.2 579.7,213.9 580.2,214.9 581.2,214.7 581.7,215.7 583.5,214.0 584.3,214.3 585.1,214.7 585.8,215.2 585.7,216.9 586.4,217.5 587.1,217.8 587.7,218.5 589.3,217.7 590.1,218.0 590.6,218.7 591.2,219.3 591.0,220.9 591.8,221.3 592.3,222.0 593.0,222.4 594.9,221.5 595.6,222.1 596.0,222.9 596.9,223.2 596.0,225.2 596.8,225.6 597.4,226.1 597.8,226.8 599.7,226.4 600.3,227.0 600.9,227.6 601.6,228.1 600.3,230.0 600.7,230.8 601.6,231.2 601.7,232.1 603.8,231.7 604.0,232.6 604.4,233.4 604.7,234.1 603.7,235.6 604.4,236.1 604.7,236.9 605.4,237.4 607.1,237.6 607.6,238.3 607.6,239.2 608.1,239.9 606.6,241.3 606.9,242.1 607.0,242.9 607.3,243.6 609.8,243.8 609.9,244.6 609.9,245.5 610.0,246.3 608.2,247.5 608.4,248.3 609.2,249.0 608.9,249.8 610.7,250.4 611.1,251.2 610.6,252.1 611.2,252.8 609.6,253.8 609.6,254.6 610.0,255.4 609.7,256.2Z" fill="none" stroke="#f01818" stroke-width="1.8" stroke-linejoin="round" filter="url(#soft)"/>
<circle cx="511.8" cy="244.4" r="2.2" fill="none" stroke="#f01818" stroke-width="1.5" filter="url(#soft)"/>
<circle cx="510.2" cy="254.3" r="2.2" fill="none" stroke="#f01818" stroke-width="1.5" filter="url(#soft)"/>
<circle cx="512.6" cy="272.1" r="2.2" fill="none" stroke="#f01818" stroke-width="1.5" filter="url(#soft)"/>
<circle cx="516.1" cy="267.1" r="2.2" fill="none" stroke="#f01818" stroke-width="1.5" filter="url(#soft)"/>
<circle cx="520.0" cy="228.0" r="2.2" fill="none" stroke="#f01818" stroke-width="1.5" filter="url(#soft)"/>
<circle cx="519.7" cy="237.4" r="2.2" fill="none" stroke="#f01818" stroke-width="1.5" filter="url(#soft)"/>
<circle cx="611.0" cy="243.7" r="2.2" fill="none" stroke="#f01818" stroke-width="1.5" filter="url(#soft)"/>
<circle cx="612.8" cy="254.2" r="2.2" fill="none" stroke="#f01818" stroke-width="1.5" filter="url(#soft)"/>
<circle cx="610.0" cy="273.3" r="2.2" fill="none" stroke="#f01818" stroke-width="1.5" filter="url(#soft)"/>
<circle cx="606.9" cy="267.1" r="2.2" fill="none" stroke="#f01818" stroke-width="1.5" filter="url(#soft)"/>
<circle cx="602.8" cy="227.8" r="2.2" fill="none" stroke="#f01818" stroke-width="1.5" filter="url(#soft)"/>
<circle cx="603.3" cy="237.4" r="2.2" fill="none" stroke="#f01818" stroke-width="1.5" filter="url(#soft)"/>
<circle cx="552.1" cy="300.5" r="2.2" fill="none" stroke="#f01818" stroke-width="1.5" filter="url(#soft)"/>
<circle cx="570.1" cy="300.6" r="2.2" fill="none" stroke="#f01818" stroke-width="1.5" filter="url(#soft)"/>
<circle cx="521.6" cy="239.2" r="2.3" fill="#e01010" filter="url(#soft)"/>
<circle cx="601.4" cy="239.2" r="2.3" fill="#e01010" filter="url(#soft)"/>
<ellipse cx="561.5" cy="257.0" rx="49.0" ry="46.8" fill="none" stroke="#b8b8b8" stroke-width="2.3" style="mix-blend-mode:screen" filter="url(#soft)"/>
<text x="6.2" y="18.6" font-size="19.5" fill="#000" textLength="23.2" lengthAdjust="spacingAndGlyphs">(a)</text>
<text x="6.2" y="332.9" font-size="19" fill="#000" textLength="23.9" lengthAdjust="spacingAndGlyphs">(b)</text>
<g stroke="#9ecae1" fill="#9ecae1">
<line x1="79.0" x2="79.0" y1="504.46" y2="512.92" stroke-width="1.7"/>
<line x1="72.4" x2="85.6" y1="504.46" y2="504.46" stroke-width="1.8"/>
<line x1="72.4" x2="85.6" y1="512.92" y2="512.92" stroke-width="1.8"/>
<line x1="298.6" x2="298.6" y1="493.88" y2="511.33" stroke-width="1.7"/>
<line x1="292.0" x2="305.2" y1="493.88" y2="493.88" stroke-width="1.8"/>
<line x1="292.0" x2="305.2" y1="511.33" y2="511.33" stroke-width="1.8"/>
<line x1="79.0" x2="298.6" y1="508.69" y2="502.61" stroke-width="2.2"/>
<circle cx="79.0" cy="508.69" r="3.35" stroke="none"/>
<circle cx="298.6" cy="502.61" r="3.35" stroke="none"/>
</g>
<g stroke="#4292c6" fill="#4292c6">
<line x1="79.0" x2="79.0" y1="503.14" y2="512.65" stroke-width="1.7"/>
<line x1="72.4" x2="85.6" y1="503.14" y2="503.14" stroke-width="1.8"/>
<line x1="72.4" x2="85.6" y1="512.65" y2="512.65" stroke-width="1.8"/>
<line x1="298.6" x2="298.6" y1="505.25" y2="514.77" stroke-width="1.7"/>
<line x1="292.0" x2="305.2" y1="505.25" y2="505.25" stroke-width="1.8"/>
<line x1="292.0" x2="305.2" y1="514.77" y2="514.77" stroke-width="1.8"/>
<line x1="79.0" x2="298.6" y1="508.69" y2="509.75" stroke-width="2.2"/>
<circle cx="79.0" cy="508.69" r="3.35" stroke="none"/>
<circle cx="298.6" cy="509.75" r="3.35" stroke="none"/>
</g>
<g stroke="#084594" fill="#084594">
<line x1="79.0" x2="79.0" y1="477.76" y2="510.01" stroke-width="1.7"/>
<line x1="72.4" x2="85.6" y1="477.76" y2="477.76" stroke-width="1.8"/>
<line x1="72.4" x2="85.6" y1="510.01" y2="510.01" stroke-width="1.8"/>
<line x1="298.6" x2="298.6" y1="492.30" y2="504.99" stroke-width="1.7"/>
<line x1="292.0" x2="305.2" y1="492.30" y2="492.30" stroke-width="1.8"/>
<line x1="292.0" x2="305.2" y1="504.99" y2="504.99" stroke-width="1.8"/>
<line x1="79.0" x2="298.6" y1="495.73" y2="498.64" stroke-width="2.2"/>
<circle cx="79.0" cy="495.73" r="3.35" stroke="none"/>
<circle cx="298.6" cy="498.64" r="3.35" stroke="none"/>
</g>
<g stroke="#999999" fill="#999999">
<line x1="79.0" x2="79.0" y1="498.11" y2="514.77" stroke-width="1.7"/>
<line x1="72.4" x2="85.6" y1="498.11" y2="498.11" stroke-width="1.8"/>
<line x1="72.4" x2="85.6" y1="514.77" y2="514.77" stroke-width="1.8"/>
<line x1="298.6" x2="298.6" y1="498.11" y2="512.39" stroke-width="1.7"/>
<line x1="292.0" x2="305.2" y1="498.11" y2="498.11" stroke-width="1.8"/>
<line x1="292.0" x2="305.2" y1="512.39" y2="512.39" stroke-width="1.8"/>
<line x1="79.0" x2="298.6" y1="506.57" y2="505.25" stroke-width="2.2"/>
<circle cx="79.0" cy="506.57" r="3.35" stroke="none"/>
<circle cx="298.6" cy="505.25" r="3.35" stroke="none"/>
</g>
<line x1="57.0" y1="508.69" x2="75.4" y2="508.69" stroke="#505050" stroke-width="1.1" stroke-dasharray="3.9 2.0" stroke-dashoffset="0.00"/>
<line x1="82.6" y1="508.69" x2="295.0" y2="508.69" stroke="#505050" stroke-width="1.1" stroke-dasharray="3.9 2.0" stroke-dashoffset="2.00"/>
<line x1="302.2" y1="508.69" x2="320.6" y2="508.69" stroke="#505050" stroke-width="1.1" stroke-dasharray="3.9 2.0" stroke-dashoffset="3.35"/>
<rect x="44.0" y="376.5" width="289.5" height="211.5" fill="none" stroke="#555" stroke-width="1"/>
<line x1="40.5" x2="44.0" y1="588.00" y2="588.00" stroke="#555" stroke-width="1"/>
<text x="37.4" y="591.60" font-size="10" fill="#000" text-anchor="end">0.7</text>
<line x1="40.5" x2="44.0" y1="561.56" y2="561.56" stroke="#555" stroke-width="1"/>
<text x="37.4" y="565.16" font-size="10" fill="#000" text-anchor="end">0.8</text>
<line x1="40.5" x2="44.0" y1="535.12" y2="535.12" stroke="#555" stroke-width="1"/>
<text x="37.4" y="538.73" font-size="10" fill="#000" text-anchor="end">0.9</text>
<line x1="40.5" x2="44.0" y1="508.69" y2="508.69" stroke="#555" stroke-width="1"/>
<text x="37.4" y="512.29" font-size="10" fill="#000" text-anchor="end">1.0</text>
<line x1="40.5" x2="44.0" y1="482.25" y2="482.25" stroke="#555" stroke-width="1"/>
<text x="37.4" y="485.85" font-size="10" fill="#000" text-anchor="end">1.1</text>
<line x1="40.5" x2="44.0" y1="455.81" y2="455.81" stroke="#555" stroke-width="1"/>
<text x="37.4" y="459.41" font-size="10" fill="#000" text-anchor="end">1.2</text>
<line x1="40.5" x2="44.0" y1="429.38" y2="429.38" stroke="#555" stroke-width="1"/>
<text x="37.4" y="432.98" font-size="10" fill="#000" text-anchor="end">1.3</text>
<line x1="40.5" x2="44.0" y1="402.94" y2="402.94" stroke="#555" stroke-width="1"/>
<text x="37.4" y="406.54" font-size="10" fill="#000" text-anchor="end">1.4</text>
<line x1="40.5" x2="44.0" y1="376.50" y2="376.50" stroke="#555" stroke-width="1"/>
<text x="37.4" y="380.10" font-size="10" fill="#000" text-anchor="end">1.5</text>
<line x1="79.0" x2="79.0" y1="588.0" y2="591.5" stroke="#555" stroke-width="1"/>
<text x="79.2" y="601.0" font-size="11" fill="#000" text-anchor="middle">2</text>
<line x1="298.6" x2="298.6" y1="588.0" y2="591.5" stroke="#555" stroke-width="1"/>
<text x="298.8" y="601.0" font-size="11" fill="#000" text-anchor="middle">3</text>
<text x="188.8" y="614.1" font-size="12" fill="#000" text-anchor="middle" textLength="23.5" lengthAdjust="spacingAndGlyphs">Day</text>
<text transform="translate(17.9,482.2) rotate(-90)" x="0" y="0" font-size="12.2" fill="#000" text-anchor="middle" textLength="261.0" lengthAdjust="spacingAndGlyphs">Horizontal Unexposed/Exposed Radii Ratio</text>
<rect x="47.3" y="380.4" width="81" height="83" rx="2" fill="#fff" fill-opacity="0.85" stroke="#dcdcdc" stroke-width="1"/>
<text x="49.2" y="391.9" font-size="10.8" fill="#000" textLength="77.6" lengthAdjust="spacingAndGlyphs">Distance from</text>
<text x="49.9" y="403.9" font-size="10.8" fill="#000" textLength="52.6" lengthAdjust="spacingAndGlyphs">CHX (cm)</text>
<circle cx="68.6" cy="415.3" r="3.5" fill="#9ecae1"/>
<text x="82.2" y="417.2" font-size="10.3" fill="#000">1.0</text>
<circle cx="68.6" cy="429.1" r="3.5" fill="#4292c6"/>
<text x="82.2" y="431.0" font-size="10.3" fill="#000">1.5</text>
<circle cx="68.6" cy="442.9" r="3.5" fill="#084594"/>
<text x="82.2" y="444.8" font-size="10.3" fill="#000">2.0</text>
<circle cx="68.6" cy="456.7" r="3.5" fill="#999999"/>
<text x="82.2" y="458.6" font-size="10.3" fill="#000" textLength="32.6" lengthAdjust="spacingAndGlyphs">Control</text>
<g stroke="#9ecae1" fill="#9ecae1">
<line x1="426.7" x2="426.7" y1="510.01" y2="529.57" stroke-width="1.7"/>
<line x1="420.1" x2="433.3" y1="510.01" y2="510.01" stroke-width="1.8"/>
<line x1="420.1" x2="433.3" y1="529.57" y2="529.57" stroke-width="1.8"/>
<line x1="646.4" x2="646.4" y1="503.14" y2="516.35" stroke-width="1.7"/>
<line x1="639.8" x2="653.0" y1="503.14" y2="503.14" stroke-width="1.8"/>
<line x1="639.8" x2="653.0" y1="516.35" y2="516.35" stroke-width="1.8"/>
<line x1="426.7" x2="646.4" y1="519.79" y2="509.75" stroke-width="2.2"/>
<circle cx="426.7" cy="519.79" r="3.35" stroke="none"/>
<circle cx="646.4" cy="509.75" r="3.35" stroke="none"/>
</g>
<g stroke="#4292c6" fill="#4292c6">
<line x1="426.7" x2="426.7" y1="498.91" y2="523.49" stroke-width="1.7"/>
<line x1="420.1" x2="433.3" y1="498.91" y2="498.91" stroke-width="1.8"/>
<line x1="420.1" x2="433.3" y1="523.49" y2="523.49" stroke-width="1.8"/>
<line x1="646.4" x2="646.4" y1="506.04" y2="517.68" stroke-width="1.7"/>
<line x1="639.8" x2="653.0" y1="506.04" y2="506.04" stroke-width="1.8"/>
<line x1="639.8" x2="653.0" y1="517.68" y2="517.68" stroke-width="1.8"/>
<line x1="426.7" x2="646.4" y1="511.33" y2="511.60" stroke-width="2.2"/>
<circle cx="426.7" cy="511.33" r="3.35" stroke="none"/>
<circle cx="646.4" cy="511.60" r="3.35" stroke="none"/>
</g>
<g stroke="#084594" fill="#084594">
<line x1="426.7" x2="426.7" y1="504.72" y2="518.47" stroke-width="1.7"/>
<line x1="420.1" x2="433.3" y1="504.72" y2="504.72" stroke-width="1.8"/>
<line x1="420.1" x2="433.3" y1="518.47" y2="518.47" stroke-width="1.8"/>
<line x1="646.4" x2="646.4" y1="500.49" y2="520.06" stroke-width="1.7"/>
<line x1="639.8" x2="653.0" y1="500.49" y2="500.49" stroke-width="1.8"/>
<line x1="639.8" x2="653.0" y1="520.06" y2="520.06" stroke-width="1.8"/>
<line x1="426.7" x2="646.4" y1="510.54" y2="509.48" stroke-width="2.2"/>
<circle cx="426.7" cy="510.54" r="3.35" stroke="none"/>
<circle cx="646.4" cy="509.48" r="3.35" stroke="none"/>
</g>
<g stroke="#999999" fill="#999999">
<line x1="426.7" x2="426.7" y1="498.11" y2="525.61" stroke-width="1.7"/>
<line x1="420.1" x2="433.3" y1="498.11" y2="498.11" stroke-width="1.8"/>
<line x1="420.1" x2="433.3" y1="525.61" y2="525.61" stroke-width="1.8"/>
<line x1="646.4" x2="646.4" y1="504.99" y2="523.76" stroke-width="1.7"/>
<line x1="639.8" x2="653.0" y1="504.99" y2="504.99" stroke-width="1.8"/>
<line x1="639.8" x2="653.0" y1="523.76" y2="523.76" stroke-width="1.8"/>
<line x1="426.7" x2="646.4" y1="512.92" y2="512.92" stroke-width="2.2"/>
<circle cx="426.7" cy="512.92" r="3.35" stroke="none"/>
<circle cx="646.4" cy="512.92" r="3.35" stroke="none"/>
</g>
<line x1="404.7" y1="508.69" x2="423.1" y2="508.69" stroke="#505050" stroke-width="1.1" stroke-dasharray="3.9 2.0" stroke-dashoffset="0.00"/>
<line x1="430.3" y1="508.69" x2="642.8" y2="508.69" stroke="#505050" stroke-width="1.1" stroke-dasharray="3.9 2.0" stroke-dashoffset="2.00"/>
<line x1="650.0" y1="508.69" x2="668.4" y2="508.69" stroke="#505050" stroke-width="1.1" stroke-dasharray="3.9 2.0" stroke-dashoffset="3.35"/>
<rect x="392.0" y="376.5" width="289.2" height="211.5" fill="none" stroke="#555" stroke-width="1"/>
<line x1="388.5" x2="392.0" y1="588.00" y2="588.00" stroke="#555" stroke-width="1"/>
<text x="385.4" y="591.60" font-size="10" fill="#000" text-anchor="end">0.7</text>
<line x1="388.5" x2="392.0" y1="561.56" y2="561.56" stroke="#555" stroke-width="1"/>
<text x="385.4" y="565.16" font-size="10" fill="#000" text-anchor="end">0.8</text>
<line x1="388.5" x2="392.0" y1="535.12" y2="535.12" stroke="#555" stroke-width="1"/>
<text x="385.4" y="538.73" font-size="10" fill="#000" text-anchor="end">0.9</text>
<line x1="388.5" x2="392.0" y1="508.69" y2="508.69" stroke="#555" stroke-width="1"/>
<text x="385.4" y="512.29" font-size="10" fill="#000" text-anchor="end">1.0</text>
<line x1="388.5" x2="392.0" y1="482.25" y2="482.25" stroke="#555" stroke-width="1"/>
<text x="385.4" y="485.85" font-size="10" fill="#000" text-anchor="end">1.1</text>
<line x1="388.5" x2="392.0" y1="455.81" y2="455.81" stroke="#555" stroke-width="1"/>
<text x="385.4" y="459.41" font-size="10" fill="#000" text-anchor="end">1.2</text>
<line x1="388.5" x2="392.0" y1="429.38" y2="429.38" stroke="#555" stroke-width="1"/>
<text x="385.4" y="432.98" font-size="10" fill="#000" text-anchor="end">1.3</text>
<line x1="388.5" x2="392.0" y1="402.94" y2="402.94" stroke="#555" stroke-width="1"/>
<text x="385.4" y="406.54" font-size="10" fill="#000" text-anchor="end">1.4</text>
<line x1="388.5" x2="392.0" y1="376.50" y2="376.50" stroke="#555" stroke-width="1"/>
<text x="385.4" y="380.10" font-size="10" fill="#000" text-anchor="end">1.5</text>
<line x1="426.7" x2="426.7" y1="588.0" y2="591.5" stroke="#555" stroke-width="1"/>
<text x="426.9" y="601.0" font-size="11" fill="#000" text-anchor="middle">2</text>
<line x1="646.4" x2="646.4" y1="588.0" y2="591.5" stroke="#555" stroke-width="1"/>
<text x="646.6" y="601.0" font-size="11" fill="#000" text-anchor="middle">3</text>
<text x="536.6" y="614.1" font-size="12" fill="#000" text-anchor="middle" textLength="23.5" lengthAdjust="spacingAndGlyphs">Day</text>
<text transform="translate(365.8,482.2) rotate(-90)" x="0" y="0" font-size="12.2" fill="#000" text-anchor="middle" textLength="245.0" lengthAdjust="spacingAndGlyphs">Vertical Unexposed/Exposed Radii Ratio</text>
<rect x="395.3" y="380.4" width="81" height="83" rx="2" fill="#fff" fill-opacity="0.85" stroke="#dcdcdc" stroke-width="1"/>
<text x="397.2" y="391.9" font-size="10.8" fill="#000" textLength="77.6" lengthAdjust="spacingAndGlyphs">Distance from</text>
<text x="397.9" y="403.9" font-size="10.8" fill="#000" textLength="52.6" lengthAdjust="spacingAndGlyphs">CHX (cm)</text>
<circle cx="416.6" cy="415.3" r="3.5" fill="#9ecae1"/>
<text x="430.2" y="417.2" font-size="10.3" fill="#000">1.0</text>
<circle cx="416.6" cy="429.1" r="3.5" fill="#4292c6"/>
<text x="430.2" y="431.0" font-size="10.3" fill="#000">1.5</text>
<circle cx="416.6" cy="442.9" r="3.5" fill="#084594"/>
<text x="430.2" y="444.8" font-size="10.3" fill="#000">2.0</text>
<circle cx="416.6" cy="456.7" r="3.5" fill="#999999"/>
<text x="430.2" y="458.6" font-size="10.3" fill="#000" textLength="32.6" lengthAdjust="spacingAndGlyphs">Control</text>
</svg>
</body></html>
